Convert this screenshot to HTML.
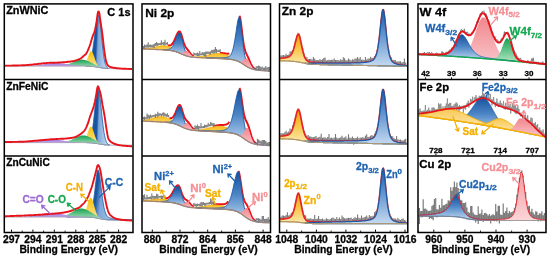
<!DOCTYPE html><html><head><meta charset="utf-8"><style>html,body{margin:0;padding:0;background:#fff;width:550px;height:259px;overflow:hidden}svg{display:block;will-change:transform;font-family:"Liberation Sans",sans-serif}text{stroke-width:0.3px;stroke-linejoin:round}</style></head><body><svg width="550" height="259" viewBox="0 0 550 259" font-family="Liberation Sans, sans-serif" font-weight="bold"><defs>
<linearGradient id="gb" x1="0" y1="0" x2="0" y2="1"><stop offset="0" stop-color="#14509c"/><stop offset="0.45" stop-color="#4d86c6"/><stop offset="1" stop-color="#cadff3"/></linearGradient>
<linearGradient id="go" x1="0" y1="0" x2="0" y2="1"><stop offset="0" stop-color="#f29e00"/><stop offset="0.45" stop-color="#f8c441"/><stop offset="1" stop-color="#fde9b0"/></linearGradient>
<linearGradient id="gy" x1="0" y1="0" x2="0" y2="1"><stop offset="0" stop-color="#f6c000"/><stop offset="1" stop-color="#fbe49a"/></linearGradient>
<linearGradient id="gg" x1="0" y1="0" x2="0" y2="1"><stop offset="0" stop-color="#14a050"/><stop offset="1" stop-color="#b5e6c4"/></linearGradient>
<linearGradient id="gp" x1="0" y1="0" x2="0" y2="1"><stop offset="0" stop-color="#f2868d"/><stop offset="1" stop-color="#f8c4c8"/></linearGradient>
<linearGradient id="gv" x1="0" y1="0" x2="0" y2="1"><stop offset="0" stop-color="#9f6fe0"/><stop offset="1" stop-color="#c4aaf0"/></linearGradient>
<linearGradient id="gb2" x1="0" y1="0" x2="0" y2="1"><stop offset="0" stop-color="#1a56a2"/><stop offset="0.4" stop-color="#5a90cc"/><stop offset="1" stop-color="#c4d9f0"/></linearGradient>
<linearGradient id="gy2" x1="0" y1="0" x2="0" y2="1"><stop offset="0" stop-color="#f8c850"/><stop offset="1" stop-color="#fde9b8"/></linearGradient>
<linearGradient id="gy3" x1="0" y1="0" x2="0" y2="1"><stop offset="0" stop-color="#f7bf20"/><stop offset="1" stop-color="#fde6a8"/></linearGradient>
<linearGradient id="gp2" x1="0" y1="0" x2="0" y2="1"><stop offset="0" stop-color="#f59aa0"/><stop offset="1" stop-color="#fbd6d8"/></linearGradient>
<linearGradient id="gbc" x1="0" y1="0" x2="1" y2="0.1"><stop offset="0" stop-color="#144d9a"/><stop offset="0.5" stop-color="#1a56a2"/><stop offset="0.58" stop-color="#7ea7d8"/><stop offset="1" stop-color="#c8dcf2"/></linearGradient>
</defs><path d="M86.0,65.9 86.5,65.8 87.0,65.6 87.5,65.4 88.0,65.0 88.5,64.5 89.0,63.9 89.5,63.0 90.0,61.9 90.5,60.5 91.0,58.8 91.5,56.7 92.0,54.2 92.5,51.3 93.0,48.0 93.5,44.4 94.0,40.6 94.5,36.6 95.0,32.5 95.5,28.6 96.0,24.9 96.5,21.6 97.0,18.9 97.5,16.9 98.0,15.7 98.5,15.3 99.0,16.1 99.5,18.2 100.0,21.5 100.5,25.7 101.0,30.5 101.5,35.7 102.0,40.9 102.5,45.9 103.0,50.5 103.5,54.5 104.0,57.9 104.5,60.7 105.0,62.9 105.5,64.6 106.0,65.8 106.5,66.7 107.0,67.4 107.5,67.8 108.0,68.1 108.5,68.3 L108.5,68.5 108.0,68.5 107.5,68.5 107.0,68.5 106.5,68.4 106.0,68.4 105.5,68.3 105.0,68.3 104.5,68.3 104.0,68.2 103.5,68.1 103.0,68.1 102.5,68.0 102.0,67.9 101.5,67.8 101.0,67.8 100.5,67.7 100.0,67.6 99.5,67.5 99.0,67.4 98.5,67.3 98.0,67.2 97.5,67.1 97.0,67.0 96.5,67.0 96.0,66.9 95.5,66.8 95.0,66.7 94.5,66.7 94.0,66.6 93.5,66.5 93.0,66.5 92.5,66.5 92.0,66.4 91.5,66.4 91.0,66.3 90.5,66.3 90.0,66.3 89.5,66.3 89.0,66.2 88.5,66.2 88.0,66.2 87.5,66.2 87.0,66.2 86.5,66.2 86.0,66.2 Z" fill="url(#gbc)" stroke="#1a5aa8" stroke-width="0.8"/>
<path d="M81.5,65.9 82.0,65.8 82.5,65.7 83.0,65.5 83.5,65.2 84.0,64.8 84.5,64.3 85.0,63.7 85.5,62.9 86.0,61.9 86.5,60.9 87.0,59.6 87.5,58.3 88.0,57.0 88.5,55.6 89.0,54.3 89.5,53.1 90.0,52.2 90.5,51.5 91.0,51.2 91.5,51.2 92.0,51.6 92.5,52.3 93.0,53.4 93.5,54.7 94.0,56.1 94.5,57.6 95.0,59.1 95.5,60.6 96.0,61.9 96.5,63.1 97.0,64.1 97.5,65.0 98.0,65.6 98.5,66.2 99.0,66.6 99.5,67.0 100.0,67.3 100.5,67.5 L100.5,67.7 100.0,67.6 99.5,67.5 99.0,67.4 98.5,67.3 98.0,67.2 97.5,67.1 97.0,67.0 96.5,67.0 96.0,66.9 95.5,66.8 95.0,66.7 94.5,66.7 94.0,66.6 93.5,66.5 93.0,66.5 92.5,66.5 92.0,66.4 91.5,66.4 91.0,66.3 90.5,66.3 90.0,66.3 89.5,66.3 89.0,66.2 88.5,66.2 88.0,66.2 87.5,66.2 87.0,66.2 86.5,66.2 86.0,66.2 85.5,66.2 85.0,66.1 84.5,66.1 84.0,66.1 83.5,66.1 83.0,66.1 82.5,66.1 82.0,66.1 81.5,66.1 Z" fill="url(#gy)"/>
<path d="M59.5,65.9 60.0,65.8 60.5,65.8 61.0,65.7 61.5,65.7 62.0,65.6 62.5,65.6 63.0,65.5 63.5,65.4 64.0,65.3 64.5,65.2 65.0,65.1 65.5,65.0 66.0,64.9 66.5,64.7 67.0,64.6 67.5,64.4 68.0,64.3 68.5,64.1 69.0,63.9 69.5,63.7 70.0,63.5 70.5,63.3 71.0,63.1 71.5,62.9 72.0,62.6 72.5,62.4 73.0,62.2 73.5,61.9 74.0,61.7 74.5,61.5 75.0,61.3 75.5,61.0 76.0,60.8 76.5,60.6 77.0,60.5 77.5,60.3 78.0,60.1 78.5,60.0 79.0,59.9 79.5,59.8 80.0,59.7 80.5,59.7 81.0,59.6 81.5,59.6 82.0,59.6 82.5,59.7 83.0,59.7 83.5,59.8 84.0,59.9 84.5,60.0 85.0,60.1 85.5,60.2 86.0,60.4 86.5,60.5 87.0,60.7 87.5,60.9 88.0,61.1 88.5,61.3 89.0,61.5 89.5,61.8 90.0,62.0 90.5,62.2 91.0,62.5 91.5,62.7 92.0,63.0 92.5,63.2 93.0,63.4 93.5,63.7 94.0,63.9 94.5,64.2 95.0,64.4 95.5,64.7 96.0,64.9 96.5,65.2 97.0,65.4 97.5,65.6 98.0,65.8 98.5,66.1 99.0,66.3 99.5,66.5 100.0,66.7 100.5,66.9 101.0,67.0 101.5,67.2 102.0,67.3 102.5,67.5 103.0,67.6 103.5,67.7 104.0,67.8 104.5,67.9 105.0,68.0 105.5,68.1 L105.5,68.3 105.0,68.3 104.5,68.3 104.0,68.2 103.5,68.1 103.0,68.1 102.5,68.0 102.0,67.9 101.5,67.8 101.0,67.8 100.5,67.7 100.0,67.6 99.5,67.5 99.0,67.4 98.5,67.3 98.0,67.2 97.5,67.1 97.0,67.0 96.5,67.0 96.0,66.9 95.5,66.8 95.0,66.7 94.5,66.7 94.0,66.6 93.5,66.5 93.0,66.5 92.5,66.5 92.0,66.4 91.5,66.4 91.0,66.3 90.5,66.3 90.0,66.3 89.5,66.3 89.0,66.2 88.5,66.2 88.0,66.2 87.5,66.2 87.0,66.2 86.5,66.2 86.0,66.2 85.5,66.2 85.0,66.1 84.5,66.1 84.0,66.1 83.5,66.1 83.0,66.1 82.5,66.1 82.0,66.1 81.5,66.1 81.0,66.1 80.5,66.1 80.0,66.1 79.5,66.1 79.0,66.1 78.5,66.1 78.0,66.1 77.5,66.1 77.0,66.1 76.5,66.1 76.0,66.1 75.5,66.1 75.0,66.1 74.5,66.1 74.0,66.1 73.5,66.1 73.0,66.1 72.5,66.1 72.0,66.1 71.5,66.1 71.0,66.1 70.5,66.1 70.0,66.1 69.5,66.1 69.0,66.1 68.5,66.1 68.0,66.1 67.5,66.1 67.0,66.1 66.5,66.1 66.0,66.1 65.5,66.1 65.0,66.1 64.5,66.1 64.0,66.1 63.5,66.1 63.0,66.1 62.5,66.1 62.0,66.1 61.5,66.1 61.0,66.1 60.5,66.1 60.0,66.1 59.5,66.1 Z" fill="url(#gg)"/>
<path d="M29.0,65.9 29.5,65.8 30.0,65.8 30.5,65.8 31.0,65.8 31.5,65.7 32.0,65.7 32.5,65.7 33.0,65.6 33.5,65.6 34.0,65.5 34.5,65.5 35.0,65.5 35.5,65.4 36.0,65.4 36.5,65.3 37.0,65.2 37.5,65.2 38.0,65.1 38.5,65.1 39.0,65.0 39.5,64.9 40.0,64.9 40.5,64.8 41.0,64.7 41.5,64.7 42.0,64.6 42.5,64.5 43.0,64.4 43.5,64.4 44.0,64.3 44.5,64.2 45.0,64.1 45.5,64.1 46.0,64.0 46.5,63.9 47.0,63.8 47.5,63.8 48.0,63.7 48.5,63.6 49.0,63.6 49.5,63.5 50.0,63.5 50.5,63.4 51.0,63.3 51.5,63.3 52.0,63.3 52.5,63.2 53.0,63.2 53.5,63.2 54.0,63.1 54.5,63.1 55.0,63.1 55.5,63.1 56.0,63.1 56.5,63.1 57.0,63.1 57.5,63.1 58.0,63.1 58.5,63.2 59.0,63.2 59.5,63.2 60.0,63.3 60.5,63.3 61.0,63.3 61.5,63.4 62.0,63.5 62.5,63.5 63.0,63.6 63.5,63.6 64.0,63.7 64.5,63.8 65.0,63.8 65.5,63.9 66.0,64.0 66.5,64.1 67.0,64.1 67.5,64.2 68.0,64.3 68.5,64.4 69.0,64.4 69.5,64.5 70.0,64.6 70.5,64.7 71.0,64.7 71.5,64.8 72.0,64.9 72.5,64.9 73.0,65.0 73.5,65.1 74.0,65.1 74.5,65.2 75.0,65.2 75.5,65.3 76.0,65.4 76.5,65.4 77.0,65.5 77.5,65.5 78.0,65.5 78.5,65.6 79.0,65.6 79.5,65.7 80.0,65.7 80.5,65.7 81.0,65.8 81.5,65.8 82.0,65.8 82.5,65.9 83.0,65.9 L83.0,66.1 82.5,66.1 82.0,66.1 81.5,66.1 81.0,66.1 80.5,66.1 80.0,66.1 79.5,66.1 79.0,66.1 78.5,66.1 78.0,66.1 77.5,66.1 77.0,66.1 76.5,66.1 76.0,66.1 75.5,66.1 75.0,66.1 74.5,66.1 74.0,66.1 73.5,66.1 73.0,66.1 72.5,66.1 72.0,66.1 71.5,66.1 71.0,66.1 70.5,66.1 70.0,66.1 69.5,66.1 69.0,66.1 68.5,66.1 68.0,66.1 67.5,66.1 67.0,66.1 66.5,66.1 66.0,66.1 65.5,66.1 65.0,66.1 64.5,66.1 64.0,66.1 63.5,66.1 63.0,66.1 62.5,66.1 62.0,66.1 61.5,66.1 61.0,66.1 60.5,66.1 60.0,66.1 59.5,66.1 59.0,66.1 58.5,66.1 58.0,66.1 57.5,66.1 57.0,66.1 56.5,66.1 56.0,66.1 55.5,66.1 55.0,66.1 54.5,66.1 54.0,66.1 53.5,66.1 53.0,66.1 52.5,66.1 52.0,66.1 51.5,66.1 51.0,66.1 50.5,66.1 50.0,66.1 49.5,66.1 49.0,66.1 48.5,66.1 48.0,66.1 47.5,66.1 47.0,66.1 46.5,66.1 46.0,66.1 45.5,66.1 45.0,66.1 44.5,66.1 44.0,66.1 43.5,66.1 43.0,66.1 42.5,66.1 42.0,66.1 41.5,66.1 41.0,66.1 40.5,66.1 40.0,66.1 39.5,66.1 39.0,66.1 38.5,66.1 38.0,66.1 37.5,66.1 37.0,66.1 36.5,66.1 36.0,66.1 35.5,66.1 35.0,66.1 34.5,66.1 34.0,66.1 33.5,66.1 33.0,66.1 32.5,66.1 32.0,66.1 31.5,66.1 31.0,66.1 30.5,66.1 30.0,66.1 29.5,66.1 29.0,66.1 Z" fill="url(#gv)"/>
<path d="M5.0,66.1 5.5,66.1 6.0,66.1 6.5,66.1 7.0,66.1 7.5,66.1 8.0,66.1 8.5,66.1 9.0,66.1 9.5,66.1 10.0,66.1 10.5,66.1 11.0,66.1 11.5,66.1 12.0,66.1 12.5,66.1 13.0,66.1 13.5,66.1 14.0,66.1 14.5,66.1 15.0,66.1 15.5,66.1 16.0,66.1 16.5,66.1 17.0,66.1 17.5,66.1 18.0,66.1 18.5,66.1 19.0,66.1 19.5,66.1 20.0,66.1 20.5,66.1 21.0,66.1 21.5,66.1 22.0,66.1 22.5,66.1 23.0,66.1 23.5,66.1 24.0,66.1 24.5,66.1 25.0,66.1 25.5,66.1 26.0,66.1 26.5,66.1 27.0,66.1 27.5,66.1 28.0,66.1 28.5,66.1 29.0,66.1 29.5,66.1 30.0,66.1 30.5,66.1 31.0,66.1 31.5,66.1 32.0,66.1 32.5,66.1 33.0,66.1 33.5,66.1 34.0,66.1 34.5,66.1 35.0,66.1 35.5,66.1 36.0,66.1 36.5,66.1 37.0,66.1 37.5,66.1 38.0,66.1 38.5,66.1 39.0,66.1 39.5,66.1 40.0,66.1 40.5,66.1 41.0,66.1 41.5,66.1 42.0,66.1 42.5,66.1 43.0,66.1 43.5,66.1 44.0,66.1 44.5,66.1 45.0,66.1 45.5,66.1 46.0,66.1 46.5,66.1 47.0,66.1 47.5,66.1 48.0,66.1 48.5,66.1 49.0,66.1 49.5,66.1 50.0,66.1 50.5,66.1 51.0,66.1 51.5,66.1 52.0,66.1 52.5,66.1 53.0,66.1 53.5,66.1 54.0,66.1 54.5,66.1 55.0,66.1 55.5,66.1 56.0,66.1 56.5,66.1 57.0,66.1 57.5,66.1 58.0,66.1 58.5,66.1 59.0,66.1 59.5,66.1 60.0,66.1 60.5,66.1 61.0,66.1 61.5,66.1 62.0,66.1 62.5,66.1 63.0,66.1 63.5,66.1 64.0,66.1 64.5,66.1 65.0,66.1 65.5,66.1 66.0,66.1 66.5,66.1 67.0,66.1 67.5,66.1 68.0,66.1 68.5,66.1 69.0,66.1 69.5,66.1 70.0,66.1 70.5,66.1 71.0,66.1 71.5,66.1 72.0,66.1 72.5,66.1 73.0,66.1 73.5,66.1 74.0,66.1 74.5,66.1 75.0,66.1 75.5,66.1 76.0,66.1 76.5,66.1 77.0,66.1 77.5,66.1 78.0,66.1 78.5,66.1 79.0,66.1 79.5,66.1 80.0,66.1 80.5,66.1 81.0,66.1 81.5,66.1 82.0,66.1 82.5,66.1 83.0,66.1 83.5,66.1 84.0,66.1 84.5,66.1 85.0,66.1 85.5,66.2 86.0,66.2 86.5,66.2 87.0,66.2 87.5,66.2 88.0,66.2 88.5,66.2 89.0,66.2 89.5,66.3 90.0,66.3 90.5,66.3 91.0,66.3 91.5,66.4 92.0,66.4 92.5,66.5 93.0,66.5 93.5,66.5 94.0,66.6 94.5,66.7 95.0,66.7 95.5,66.8 96.0,66.9 96.5,67.0 97.0,67.0 97.5,67.1 98.0,67.2 98.5,67.3 99.0,67.4 99.5,67.5 100.0,67.6 100.5,67.7 101.0,67.8 101.5,67.8 102.0,67.9 102.5,68.0 103.0,68.1 103.5,68.1 104.0,68.2 104.5,68.3 105.0,68.3 105.5,68.3 106.0,68.4 106.5,68.4 107.0,68.5 107.5,68.5 108.0,68.5 108.5,68.5 109.0,68.6 109.5,68.6 110.0,68.6 110.5,68.6 111.0,68.6 111.5,68.6 112.0,68.6 112.5,68.6 113.0,68.7 113.5,68.7 114.0,68.7 114.5,68.7 115.0,68.7 115.5,68.7 116.0,68.7 116.5,68.7 117.0,68.7 117.5,68.7 118.0,68.7 118.5,68.7 119.0,68.7 119.5,68.7 120.0,68.7 120.5,68.7 121.0,68.7 121.5,68.7 122.0,68.7 122.5,68.7 123.0,68.7 123.5,68.7 124.0,68.7 124.5,68.7 125.0,68.7 125.5,68.7 126.0,68.7 126.5,68.7 127.0,68.7 127.5,68.7 128.0,68.7 128.5,68.7 129.0,68.7 129.5,68.7 130.0,68.7 130.5,68.7 131.0,68.7 131.5,68.7 132.0,68.7" fill="none" stroke="#9a8fa8" stroke-width="0.9"/>
<path d="M5.0,65.6 5.5,65.6 6.0,65.6 6.5,65.6 7.0,65.6 7.5,65.6 8.0,65.6 8.5,65.6 9.0,65.6 9.5,65.6 10.0,65.6 10.5,65.6 11.0,65.6 11.5,65.6 12.0,65.6 12.5,65.5 13.0,65.5 13.5,65.5 14.0,65.5 14.5,65.5 15.0,65.5 15.5,65.5 16.0,65.5 16.5,65.5 17.0,65.5 17.5,65.5 18.0,65.5 18.5,65.4 19.0,65.4 19.5,65.4 20.0,65.4 20.5,65.4 21.0,65.4 21.5,65.4 22.0,65.3 22.5,65.3 23.0,65.3 23.5,65.3 24.0,65.2 24.5,65.2 25.0,65.2 25.5,65.1 26.0,65.1 26.5,65.1 27.0,65.0 27.5,65.0 28.0,65.0 28.5,64.9 29.0,64.9 29.5,64.8 30.0,64.8 30.5,64.8 31.0,64.7 31.5,64.7 32.0,64.6 32.5,64.6 33.0,64.5 33.5,64.5 34.0,64.4 34.5,64.3 35.0,64.3 35.5,64.2 36.0,64.2 36.5,64.1 37.0,64.1 37.5,64.0 38.0,64.0 38.5,63.9 39.0,63.8 39.5,63.8 40.0,63.7 40.5,63.7 41.0,63.6 41.5,63.5 42.0,63.5 42.5,63.4 43.0,63.4 43.5,63.3 44.0,63.3 44.5,63.2 45.0,63.2 45.5,63.1 46.0,63.1 46.5,63.0 47.0,63.0 47.5,62.9 48.0,62.9 48.5,62.9 49.0,62.9 49.5,62.8 50.0,62.8 50.5,62.8 51.0,62.8 51.5,62.8 52.0,62.7 52.5,62.7 53.0,62.7 53.5,62.7 54.0,62.7 54.5,62.7 55.0,62.6 55.5,62.6 56.0,62.6 56.5,62.6 57.0,62.6 57.5,62.6 58.0,62.5 58.5,62.5 59.0,62.5 59.5,62.5 60.0,62.5 60.5,62.4 61.0,62.4 61.5,62.4 62.0,62.4 62.5,62.3 63.0,62.3 63.5,62.3 64.0,62.2 64.5,62.2 65.0,62.1 65.5,62.1 66.0,62.1 66.5,62.0 67.0,62.0 67.5,61.9 68.0,61.8 68.5,61.8 69.0,61.7 69.5,61.7 70.0,61.6 70.5,61.5 71.0,61.5 71.5,61.4 72.0,61.3 72.5,61.2 73.0,61.1 73.5,61.1 74.0,61.0 74.5,60.8 75.0,60.7 75.5,60.6 76.0,60.4 76.5,60.3 77.0,60.1 77.5,59.9 78.0,59.7 78.5,59.5 79.0,59.3 79.5,59.1 80.0,58.8 80.5,58.5 81.0,58.2 81.5,57.8 82.0,57.4 82.5,57.0 83.0,56.5 83.5,56.1 84.0,55.7 84.5,55.2 85.0,54.8 85.5,54.4 86.0,53.8 86.5,53.1 87.0,52.2 87.5,51.2 88.0,50.1 88.5,49.0 89.0,47.7 89.5,46.4 90.0,45.0 90.5,43.5 91.0,41.8 91.5,40.1 92.0,38.4 92.5,36.8 93.0,35.4 93.5,34.2 94.0,33.0 94.5,31.5 95.0,29.7 95.5,27.5 96.0,25.1 96.5,22.2 97.0,18.7 97.5,14.6 98.0,12.0 98.5,11.4 99.0,12.0 99.5,14.2 100.0,18.0 100.5,21.5 101.0,24.9 101.5,28.2 102.0,31.5 102.5,35.2 103.0,39.4 103.5,44.4 104.0,48.5 104.5,52.1 105.0,55.4 105.5,58.5 106.0,61.1 106.5,62.7 107.0,63.9 107.5,64.9 108.0,65.6 108.5,66.0 109.0,66.3 109.5,66.6 110.0,66.8 110.5,67.0 111.0,67.1 111.5,67.3 112.0,67.4 112.5,67.5 113.0,67.6 113.5,67.7 114.0,67.8 114.5,67.9 115.0,68.0 115.5,68.0 116.0,68.1 116.5,68.2 117.0,68.2 117.5,68.3 118.0,68.3 118.5,68.4 119.0,68.4 119.5,68.5 120.0,68.5 120.5,68.5 121.0,68.6 121.5,68.6 122.0,68.6 122.5,68.7 123.0,68.7 123.5,68.7 124.0,68.7 124.5,68.8 125.0,68.8 125.5,68.8 126.0,68.8 126.5,68.9 127.0,68.9 127.5,68.9 128.0,68.9 128.5,68.9 129.0,69.0 129.5,69.0 130.0,69.0 130.5,69.0 131.0,69.0 131.5,69.0 132.0,69.0" fill="none" stroke="#e8141b" stroke-width="1.9" stroke-linejoin="round"/>
<path d="M87.0,142.5 87.5,142.3 88.0,142.1 88.5,141.8 89.0,141.4 89.5,140.7 90.0,139.9 90.5,138.6 91.0,137.0 91.5,135.0 92.0,132.4 92.5,129.3 93.0,125.7 93.5,121.5 94.0,117.0 94.5,112.1 95.0,107.3 95.5,102.5 96.0,98.2 96.5,94.5 97.0,91.8 97.5,90.0 98.0,89.5 98.5,90.2 99.0,91.9 99.5,94.6 100.0,98.1 100.5,102.3 101.0,106.9 101.5,111.6 102.0,116.4 102.5,121.0 103.0,125.2 103.5,129.1 104.0,132.4 104.5,135.3 105.0,137.6 105.5,139.5 106.0,141.0 106.5,142.2 107.0,143.0 107.5,143.7 108.0,144.1 108.5,144.5 109.0,144.7 109.5,144.8 L109.5,145.1 109.0,145.1 108.5,145.0 108.0,145.0 107.5,145.0 107.0,145.0 106.5,144.9 106.0,144.9 105.5,144.8 105.0,144.8 104.5,144.8 104.0,144.7 103.5,144.6 103.0,144.6 102.5,144.5 102.0,144.4 101.5,144.3 101.0,144.3 100.5,144.2 100.0,144.1 99.5,144.0 99.0,143.9 98.5,143.8 98.0,143.7 97.5,143.6 97.0,143.5 96.5,143.5 96.0,143.4 95.5,143.3 95.0,143.2 94.5,143.2 94.0,143.1 93.5,143.0 93.0,143.0 92.5,143.0 92.0,142.9 91.5,142.9 91.0,142.8 90.5,142.8 90.0,142.8 89.5,142.8 89.0,142.7 88.5,142.7 88.0,142.7 87.5,142.7 87.0,142.7 Z" fill="url(#gbc)" stroke="#1a5aa8" stroke-width="0.8"/>
<path d="M81.0,142.4 81.5,142.4 82.0,142.2 82.5,142.0 83.0,141.7 83.5,141.4 84.0,140.9 84.5,140.3 85.0,139.5 85.5,138.6 86.0,137.5 86.5,136.2 87.0,134.9 87.5,133.4 88.0,132.0 88.5,130.5 89.0,129.2 89.5,128.1 90.0,127.3 90.5,126.8 91.0,126.6 91.5,126.9 92.0,127.5 92.5,128.5 93.0,129.8 93.5,131.2 94.0,132.8 94.5,134.5 95.0,136.0 95.5,137.5 96.0,138.8 96.5,140.0 97.0,140.9 97.5,141.7 98.0,142.4 98.5,142.9 99.0,143.3 99.5,143.6 100.0,143.8 100.5,144.0 L100.5,144.2 100.0,144.1 99.5,144.0 99.0,143.9 98.5,143.8 98.0,143.7 97.5,143.6 97.0,143.5 96.5,143.5 96.0,143.4 95.5,143.3 95.0,143.2 94.5,143.2 94.0,143.1 93.5,143.0 93.0,143.0 92.5,143.0 92.0,142.9 91.5,142.9 91.0,142.8 90.5,142.8 90.0,142.8 89.5,142.8 89.0,142.7 88.5,142.7 88.0,142.7 87.5,142.7 87.0,142.7 86.5,142.7 86.0,142.7 85.5,142.7 85.0,142.6 84.5,142.6 84.0,142.6 83.5,142.6 83.0,142.6 82.5,142.6 82.0,142.6 81.5,142.6 81.0,142.6 Z" fill="url(#gy)"/>
<path d="M60.5,142.4 61.0,142.3 61.5,142.3 62.0,142.3 62.5,142.2 63.0,142.2 63.5,142.1 64.0,142.0 64.5,141.9 65.0,141.8 65.5,141.7 66.0,141.6 66.5,141.5 67.0,141.4 67.5,141.2 68.0,141.1 68.5,140.9 69.0,140.7 69.5,140.6 70.0,140.4 70.5,140.2 71.0,139.9 71.5,139.7 72.0,139.5 72.5,139.2 73.0,139.0 73.5,138.8 74.0,138.5 74.5,138.2 75.0,138.0 75.5,137.7 76.0,137.5 76.5,137.2 77.0,137.0 77.5,136.8 78.0,136.6 78.5,136.4 79.0,136.2 79.5,136.0 80.0,135.8 80.5,135.7 81.0,135.6 81.5,135.5 82.0,135.5 82.5,135.4 83.0,135.4 83.5,135.4 84.0,135.5 84.5,135.5 85.0,135.6 85.5,135.7 86.0,135.8 86.5,136.0 87.0,136.1 87.5,136.3 88.0,136.5 88.5,136.7 89.0,136.9 89.5,137.1 90.0,137.3 90.5,137.6 91.0,137.8 91.5,138.1 92.0,138.4 92.5,138.7 93.0,138.9 93.5,139.2 94.0,139.5 94.5,139.8 95.0,140.1 95.5,140.4 96.0,140.6 96.5,140.9 97.0,141.2 97.5,141.5 98.0,141.7 98.5,142.0 99.0,142.2 99.5,142.5 100.0,142.7 100.5,142.9 101.0,143.1 101.5,143.3 102.0,143.5 102.5,143.7 103.0,143.8 103.5,144.0 104.0,144.1 104.5,144.2 105.0,144.4 105.5,144.5 106.0,144.5 106.5,144.6 107.0,144.7 107.5,144.8 L107.5,145.0 107.0,145.0 106.5,144.9 106.0,144.9 105.5,144.8 105.0,144.8 104.5,144.8 104.0,144.7 103.5,144.6 103.0,144.6 102.5,144.5 102.0,144.4 101.5,144.3 101.0,144.3 100.5,144.2 100.0,144.1 99.5,144.0 99.0,143.9 98.5,143.8 98.0,143.7 97.5,143.6 97.0,143.5 96.5,143.5 96.0,143.4 95.5,143.3 95.0,143.2 94.5,143.2 94.0,143.1 93.5,143.0 93.0,143.0 92.5,143.0 92.0,142.9 91.5,142.9 91.0,142.8 90.5,142.8 90.0,142.8 89.5,142.8 89.0,142.7 88.5,142.7 88.0,142.7 87.5,142.7 87.0,142.7 86.5,142.7 86.0,142.7 85.5,142.7 85.0,142.6 84.5,142.6 84.0,142.6 83.5,142.6 83.0,142.6 82.5,142.6 82.0,142.6 81.5,142.6 81.0,142.6 80.5,142.6 80.0,142.6 79.5,142.6 79.0,142.6 78.5,142.6 78.0,142.6 77.5,142.6 77.0,142.6 76.5,142.6 76.0,142.6 75.5,142.6 75.0,142.6 74.5,142.6 74.0,142.6 73.5,142.6 73.0,142.6 72.5,142.6 72.0,142.6 71.5,142.6 71.0,142.6 70.5,142.6 70.0,142.6 69.5,142.6 69.0,142.6 68.5,142.6 68.0,142.6 67.5,142.6 67.0,142.6 66.5,142.6 66.0,142.6 65.5,142.6 65.0,142.6 64.5,142.6 64.0,142.6 63.5,142.6 63.0,142.6 62.5,142.6 62.0,142.6 61.5,142.6 61.0,142.6 60.5,142.6 Z" fill="url(#gg)"/>
<path d="M25.0,142.4 25.5,142.3 26.0,142.3 26.5,142.3 27.0,142.3 27.5,142.2 28.0,142.2 28.5,142.2 29.0,142.1 29.5,142.1 30.0,142.0 30.5,142.0 31.0,142.0 31.5,141.9 32.0,141.9 32.5,141.8 33.0,141.7 33.5,141.7 34.0,141.6 34.5,141.6 35.0,141.5 35.5,141.4 36.0,141.4 36.5,141.3 37.0,141.2 37.5,141.2 38.0,141.1 38.5,141.0 39.0,140.9 39.5,140.9 40.0,140.8 40.5,140.7 41.0,140.6 41.5,140.6 42.0,140.5 42.5,140.4 43.0,140.3 43.5,140.3 44.0,140.2 44.5,140.1 45.0,140.1 45.5,140.0 46.0,140.0 46.5,139.9 47.0,139.8 47.5,139.8 48.0,139.8 48.5,139.7 49.0,139.7 49.5,139.7 50.0,139.6 50.5,139.6 51.0,139.6 51.5,139.6 52.0,139.6 52.5,139.6 53.0,139.6 53.5,139.6 54.0,139.6 54.5,139.7 55.0,139.7 55.5,139.7 56.0,139.8 56.5,139.8 57.0,139.8 57.5,139.9 58.0,140.0 58.5,140.0 59.0,140.1 59.5,140.1 60.0,140.2 60.5,140.3 61.0,140.3 61.5,140.4 62.0,140.5 62.5,140.6 63.0,140.6 63.5,140.7 64.0,140.8 64.5,140.9 65.0,140.9 65.5,141.0 66.0,141.1 66.5,141.2 67.0,141.2 67.5,141.3 68.0,141.4 68.5,141.4 69.0,141.5 69.5,141.6 70.0,141.6 70.5,141.7 71.0,141.7 71.5,141.8 72.0,141.9 72.5,141.9 73.0,142.0 73.5,142.0 74.0,142.0 74.5,142.1 75.0,142.1 75.5,142.2 76.0,142.2 76.5,142.2 77.0,142.3 77.5,142.3 78.0,142.3 78.5,142.3 79.0,142.4 L79.0,142.6 78.5,142.6 78.0,142.6 77.5,142.6 77.0,142.6 76.5,142.6 76.0,142.6 75.5,142.6 75.0,142.6 74.5,142.6 74.0,142.6 73.5,142.6 73.0,142.6 72.5,142.6 72.0,142.6 71.5,142.6 71.0,142.6 70.5,142.6 70.0,142.6 69.5,142.6 69.0,142.6 68.5,142.6 68.0,142.6 67.5,142.6 67.0,142.6 66.5,142.6 66.0,142.6 65.5,142.6 65.0,142.6 64.5,142.6 64.0,142.6 63.5,142.6 63.0,142.6 62.5,142.6 62.0,142.6 61.5,142.6 61.0,142.6 60.5,142.6 60.0,142.6 59.5,142.6 59.0,142.6 58.5,142.6 58.0,142.6 57.5,142.6 57.0,142.6 56.5,142.6 56.0,142.6 55.5,142.6 55.0,142.6 54.5,142.6 54.0,142.6 53.5,142.6 53.0,142.6 52.5,142.6 52.0,142.6 51.5,142.6 51.0,142.6 50.5,142.6 50.0,142.6 49.5,142.6 49.0,142.6 48.5,142.6 48.0,142.6 47.5,142.6 47.0,142.6 46.5,142.6 46.0,142.6 45.5,142.6 45.0,142.6 44.5,142.6 44.0,142.6 43.5,142.6 43.0,142.6 42.5,142.6 42.0,142.6 41.5,142.6 41.0,142.6 40.5,142.6 40.0,142.6 39.5,142.6 39.0,142.6 38.5,142.6 38.0,142.6 37.5,142.6 37.0,142.6 36.5,142.6 36.0,142.6 35.5,142.6 35.0,142.6 34.5,142.6 34.0,142.6 33.5,142.6 33.0,142.6 32.5,142.6 32.0,142.6 31.5,142.6 31.0,142.6 30.5,142.6 30.0,142.6 29.5,142.6 29.0,142.6 28.5,142.6 28.0,142.6 27.5,142.6 27.0,142.6 26.5,142.6 26.0,142.6 25.5,142.6 25.0,142.6 Z" fill="url(#gv)"/>
<path d="M5.0,142.6 5.5,142.6 6.0,142.6 6.5,142.6 7.0,142.6 7.5,142.6 8.0,142.6 8.5,142.6 9.0,142.6 9.5,142.6 10.0,142.6 10.5,142.6 11.0,142.6 11.5,142.6 12.0,142.6 12.5,142.6 13.0,142.6 13.5,142.6 14.0,142.6 14.5,142.6 15.0,142.6 15.5,142.6 16.0,142.6 16.5,142.6 17.0,142.6 17.5,142.6 18.0,142.6 18.5,142.6 19.0,142.6 19.5,142.6 20.0,142.6 20.5,142.6 21.0,142.6 21.5,142.6 22.0,142.6 22.5,142.6 23.0,142.6 23.5,142.6 24.0,142.6 24.5,142.6 25.0,142.6 25.5,142.6 26.0,142.6 26.5,142.6 27.0,142.6 27.5,142.6 28.0,142.6 28.5,142.6 29.0,142.6 29.5,142.6 30.0,142.6 30.5,142.6 31.0,142.6 31.5,142.6 32.0,142.6 32.5,142.6 33.0,142.6 33.5,142.6 34.0,142.6 34.5,142.6 35.0,142.6 35.5,142.6 36.0,142.6 36.5,142.6 37.0,142.6 37.5,142.6 38.0,142.6 38.5,142.6 39.0,142.6 39.5,142.6 40.0,142.6 40.5,142.6 41.0,142.6 41.5,142.6 42.0,142.6 42.5,142.6 43.0,142.6 43.5,142.6 44.0,142.6 44.5,142.6 45.0,142.6 45.5,142.6 46.0,142.6 46.5,142.6 47.0,142.6 47.5,142.6 48.0,142.6 48.5,142.6 49.0,142.6 49.5,142.6 50.0,142.6 50.5,142.6 51.0,142.6 51.5,142.6 52.0,142.6 52.5,142.6 53.0,142.6 53.5,142.6 54.0,142.6 54.5,142.6 55.0,142.6 55.5,142.6 56.0,142.6 56.5,142.6 57.0,142.6 57.5,142.6 58.0,142.6 58.5,142.6 59.0,142.6 59.5,142.6 60.0,142.6 60.5,142.6 61.0,142.6 61.5,142.6 62.0,142.6 62.5,142.6 63.0,142.6 63.5,142.6 64.0,142.6 64.5,142.6 65.0,142.6 65.5,142.6 66.0,142.6 66.5,142.6 67.0,142.6 67.5,142.6 68.0,142.6 68.5,142.6 69.0,142.6 69.5,142.6 70.0,142.6 70.5,142.6 71.0,142.6 71.5,142.6 72.0,142.6 72.5,142.6 73.0,142.6 73.5,142.6 74.0,142.6 74.5,142.6 75.0,142.6 75.5,142.6 76.0,142.6 76.5,142.6 77.0,142.6 77.5,142.6 78.0,142.6 78.5,142.6 79.0,142.6 79.5,142.6 80.0,142.6 80.5,142.6 81.0,142.6 81.5,142.6 82.0,142.6 82.5,142.6 83.0,142.6 83.5,142.6 84.0,142.6 84.5,142.6 85.0,142.6 85.5,142.7 86.0,142.7 86.5,142.7 87.0,142.7 87.5,142.7 88.0,142.7 88.5,142.7 89.0,142.7 89.5,142.8 90.0,142.8 90.5,142.8 91.0,142.8 91.5,142.9 92.0,142.9 92.5,143.0 93.0,143.0 93.5,143.0 94.0,143.1 94.5,143.2 95.0,143.2 95.5,143.3 96.0,143.4 96.5,143.5 97.0,143.5 97.5,143.6 98.0,143.7 98.5,143.8 99.0,143.9 99.5,144.0 100.0,144.1 100.5,144.2 101.0,144.3 101.5,144.3 102.0,144.4 102.5,144.5 103.0,144.6 103.5,144.6 104.0,144.7 104.5,144.8 105.0,144.8 105.5,144.8 106.0,144.9 106.5,144.9 107.0,145.0 107.5,145.0 108.0,145.0 108.5,145.0 109.0,145.1 109.5,145.1 110.0,145.1 110.5,145.1 111.0,145.1 111.5,145.1 112.0,145.1 112.5,145.1 113.0,145.2 113.5,145.2 114.0,145.2 114.5,145.2 115.0,145.2 115.5,145.2 116.0,145.2 116.5,145.2 117.0,145.2 117.5,145.2 118.0,145.2 118.5,145.2 119.0,145.2 119.5,145.2 120.0,145.2 120.5,145.2 121.0,145.2 121.5,145.2 122.0,145.2 122.5,145.2 123.0,145.2 123.5,145.2 124.0,145.2 124.5,145.2 125.0,145.2 125.5,145.2 126.0,145.2 126.5,145.2 127.0,145.2 127.5,145.2 128.0,145.2 128.5,145.2 129.0,145.2 129.5,145.2 130.0,145.2 130.5,145.2 131.0,145.2 131.5,145.2 132.0,145.2" fill="none" stroke="#9a8fa8" stroke-width="0.9"/>
<path d="M5.0,142.0 5.5,142.0 6.0,142.0 6.5,142.0 7.0,142.0 7.5,142.0 8.0,142.0 8.5,142.0 9.0,142.0 9.5,142.0 10.0,142.0 10.5,142.0 11.0,142.0 11.5,142.0 12.0,142.0 12.5,141.9 13.0,141.9 13.5,141.9 14.0,141.9 14.5,141.9 15.0,141.9 15.5,141.9 16.0,141.9 16.5,141.9 17.0,141.9 17.5,141.9 18.0,141.9 18.5,141.8 19.0,141.8 19.5,141.8 20.0,141.8 20.5,141.8 21.0,141.8 21.5,141.8 22.0,141.8 22.5,141.7 23.0,141.7 23.5,141.7 24.0,141.7 24.5,141.6 25.0,141.6 25.5,141.6 26.0,141.5 26.5,141.5 27.0,141.4 27.5,141.4 28.0,141.4 28.5,141.3 29.0,141.3 29.5,141.2 30.0,141.2 30.5,141.1 31.0,141.1 31.5,141.1 32.0,141.0 32.5,141.0 33.0,140.9 33.5,140.9 34.0,140.8 34.5,140.8 35.0,140.7 35.5,140.7 36.0,140.7 36.5,140.6 37.0,140.6 37.5,140.5 38.0,140.5 38.5,140.5 39.0,140.4 39.5,140.4 40.0,140.3 40.5,140.3 41.0,140.2 41.5,140.2 42.0,140.1 42.5,140.1 43.0,140.0 43.5,140.0 44.0,140.0 44.5,139.9 45.0,139.9 45.5,139.8 46.0,139.8 46.5,139.7 47.0,139.7 47.5,139.6 48.0,139.6 48.5,139.6 49.0,139.5 49.5,139.5 50.0,139.4 50.5,139.4 51.0,139.3 51.5,139.3 52.0,139.3 52.5,139.2 53.0,139.2 53.5,139.2 54.0,139.1 54.5,139.1 55.0,139.1 55.5,139.1 56.0,139.0 56.5,139.0 57.0,139.0 57.5,139.0 58.0,138.9 58.5,138.9 59.0,138.9 59.5,138.9 60.0,138.9 60.5,138.8 61.0,138.8 61.5,138.8 62.0,138.8 62.5,138.7 63.0,138.7 63.5,138.7 64.0,138.7 64.5,138.6 65.0,138.6 65.5,138.6 66.0,138.5 66.5,138.5 67.0,138.4 67.5,138.4 68.0,138.3 68.5,138.3 69.0,138.2 69.5,138.2 70.0,138.1 70.5,138.0 71.0,138.0 71.5,137.9 72.0,137.8 72.5,137.7 73.0,137.6 73.5,137.5 74.0,137.4 74.5,137.3 75.0,137.1 75.5,137.0 76.0,136.7 76.5,136.5 77.0,136.3 77.5,136.0 78.0,135.7 78.5,135.4 79.0,135.1 79.5,134.7 80.0,134.4 80.5,134.1 81.0,133.7 81.5,133.4 82.0,133.0 82.5,132.6 83.0,132.1 83.5,131.6 84.0,131.1 84.5,130.5 85.0,129.7 85.5,128.9 86.0,127.9 86.5,126.8 87.0,125.6 87.5,124.5 88.0,123.1 88.5,121.6 89.0,120.0 89.5,118.3 90.0,116.8 90.5,115.3 91.0,114.0 91.5,112.7 92.0,111.4 92.5,110.0 93.0,108.6 93.5,107.1 94.0,105.5 94.5,103.6 95.0,101.3 95.5,98.7 96.0,95.8 96.5,92.8 97.0,89.5 97.5,87.2 98.0,86.3 98.5,87.2 99.0,88.9 99.5,90.4 100.0,91.9 100.5,93.5 101.0,95.6 101.5,98.6 102.0,101.9 102.5,105.0 103.0,107.5 103.5,110.0 104.0,112.8 104.5,115.7 105.0,118.8 105.5,122.3 106.0,125.9 106.5,129.1 107.0,132.0 107.5,134.9 108.0,137.3 108.5,139.0 109.0,139.8 109.5,140.5 110.0,141.0 110.5,141.5 111.0,142.0 111.5,142.3 112.0,142.6 112.5,142.9 113.0,143.2 113.5,143.4 114.0,143.6 114.5,143.8 115.0,144.0 115.5,144.2 116.0,144.4 116.5,144.5 117.0,144.7 117.5,144.8 118.0,144.9 118.5,145.0 119.0,145.1 119.5,145.2 120.0,145.3 120.5,145.4 121.0,145.4 121.5,145.5 122.0,145.5 122.5,145.6 123.0,145.6 123.5,145.7 124.0,145.8 124.5,145.8 125.0,145.8 125.5,145.9 126.0,145.9 126.5,146.0 127.0,146.0 127.5,146.0 128.0,146.1 128.5,146.1 129.0,146.1 129.5,146.1 130.0,146.2 130.5,146.2 131.0,146.2 131.5,146.2 132.0,146.2" fill="none" stroke="#e8141b" stroke-width="1.9" stroke-linejoin="round"/>
<path d="M66.5,216.8 67.0,216.7 67.5,216.7 68.0,216.7 68.5,216.7 69.0,216.7 69.5,216.7 70.0,216.7 70.5,216.7 71.0,216.7 71.5,216.7 72.0,216.6 72.5,216.6 73.0,216.6 73.5,216.6 74.0,216.6 74.5,216.6 75.0,216.5 75.5,216.5 76.0,216.5 76.5,216.5 77.0,216.5 77.5,216.4 78.0,216.4 78.5,216.4 79.0,216.3 79.5,216.3 80.0,216.3 80.5,216.2 81.0,216.2 81.5,216.1 82.0,216.1 82.5,216.0 83.0,216.0 83.5,215.9 84.0,215.9 84.5,215.8 85.0,215.7 85.5,215.6 86.0,215.5 86.5,215.4 87.0,215.2 87.5,215.0 88.0,214.8 88.5,214.5 89.0,214.2 89.5,213.7 90.0,213.1 90.5,212.4 91.0,211.3 91.5,210.0 92.0,208.4 92.5,206.3 93.0,203.8 93.5,200.8 94.0,197.3 94.5,193.4 95.0,189.2 95.5,184.8 96.0,180.4 96.5,176.4 97.0,173.1 97.5,170.8 98.0,169.8 98.5,170.3 99.0,172.0 99.5,174.8 100.0,178.3 100.5,182.4 101.0,186.6 101.5,190.8 102.0,194.9 102.5,198.6 103.0,202.0 103.5,205.0 104.0,207.6 104.5,209.7 105.0,211.5 105.5,213.0 106.0,214.1 106.5,215.1 107.0,215.8 107.5,216.4 108.0,216.8 108.5,217.2 109.0,217.5 109.5,217.7 110.0,217.9 110.5,218.1 111.0,218.3 111.5,218.4 112.0,218.5 112.5,218.6 113.0,218.7 113.5,218.8 114.0,218.9 114.5,218.9 115.0,219.0 115.5,219.0 116.0,219.1 116.5,219.1 117.0,219.2 117.5,219.2 118.0,219.3 118.5,219.3 119.0,219.3 119.5,219.4 120.0,219.4 120.5,219.4 121.0,219.4 121.5,219.5 122.0,219.5 122.5,219.5 123.0,219.5 123.5,219.6 124.0,219.6 124.5,219.6 125.0,219.6 125.5,219.6 126.0,219.6 126.5,219.6 127.0,219.7 127.5,219.7 128.0,219.7 128.5,219.7 129.0,219.7 129.5,219.7 130.0,219.7 130.5,219.7 131.0,219.7 131.5,219.7 132.0,219.7 L132.0,220.0 131.5,220.0 131.0,220.0 130.5,220.0 130.0,220.0 129.5,220.0 129.0,220.0 128.5,220.0 128.0,220.0 127.5,220.0 127.0,220.0 126.5,220.0 126.0,220.0 125.5,220.0 125.0,220.0 124.5,220.0 124.0,220.0 123.5,220.0 123.0,220.0 122.5,220.0 122.0,220.0 121.5,220.0 121.0,220.0 120.5,220.0 120.0,220.0 119.5,220.0 119.0,220.0 118.5,220.0 118.0,220.0 117.5,220.0 117.0,220.0 116.5,220.0 116.0,220.0 115.5,220.0 115.0,220.0 114.5,220.0 114.0,220.0 113.5,220.0 113.0,219.9 112.5,219.9 112.0,219.9 111.5,219.9 111.0,219.9 110.5,219.9 110.0,219.9 109.5,219.9 109.0,219.8 108.5,219.8 108.0,219.8 107.5,219.8 107.0,219.7 106.5,219.7 106.0,219.6 105.5,219.6 105.0,219.5 104.5,219.5 104.0,219.4 103.5,219.4 103.0,219.3 102.5,219.2 102.0,219.1 101.5,219.0 101.0,218.9 100.5,218.8 100.0,218.7 99.5,218.6 99.0,218.5 98.5,218.4 98.0,218.3 97.5,218.2 97.0,218.1 96.5,218.0 96.0,217.9 95.5,217.8 95.0,217.7 94.5,217.6 94.0,217.6 93.5,217.5 93.0,217.5 92.5,217.4 92.0,217.4 91.5,217.3 91.0,217.3 90.5,217.2 90.0,217.2 89.5,217.2 89.0,217.2 88.5,217.1 88.0,217.1 87.5,217.1 87.0,217.1 86.5,217.1 86.0,217.1 85.5,217.1 85.0,217.1 84.5,217.0 84.0,217.0 83.5,217.0 83.0,217.0 82.5,217.0 82.0,217.0 81.5,217.0 81.0,217.0 80.5,217.0 80.0,217.0 79.5,217.0 79.0,217.0 78.5,217.0 78.0,217.0 77.5,217.0 77.0,217.0 76.5,217.0 76.0,217.0 75.5,217.0 75.0,217.0 74.5,217.0 74.0,217.0 73.5,217.0 73.0,217.0 72.5,217.0 72.0,217.0 71.5,217.0 71.0,217.0 70.5,217.0 70.0,217.0 69.5,217.0 69.0,217.0 68.5,217.0 68.0,217.0 67.5,217.0 67.0,217.0 66.5,217.0 Z" fill="url(#gbc)" stroke="#1a5aa8" stroke-width="0.8"/>
<path d="M80.0,216.8 80.5,216.7 81.0,216.6 81.5,216.4 82.0,216.1 82.5,215.7 83.0,215.2 83.5,214.6 84.0,213.9 84.5,212.9 85.0,211.9 85.5,210.6 86.0,209.2 86.5,207.7 87.0,206.0 87.5,204.4 88.0,202.8 88.5,201.3 89.0,200.0 89.5,198.9 90.0,198.2 90.5,197.8 91.0,197.8 91.5,198.2 92.0,199.0 92.5,200.2 93.0,201.6 93.5,203.3 94.0,205.1 94.5,206.9 95.0,208.6 95.5,210.3 96.0,211.9 96.5,213.2 97.0,214.4 97.5,215.4 98.0,216.2 98.5,216.9 99.0,217.4 99.5,217.9 100.0,218.2 100.5,218.5 101.0,218.7 L101.0,218.9 100.5,218.8 100.0,218.7 99.5,218.6 99.0,218.5 98.5,218.4 98.0,218.3 97.5,218.2 97.0,218.1 96.5,218.0 96.0,217.9 95.5,217.8 95.0,217.7 94.5,217.6 94.0,217.6 93.5,217.5 93.0,217.5 92.5,217.4 92.0,217.4 91.5,217.3 91.0,217.3 90.5,217.2 90.0,217.2 89.5,217.2 89.0,217.2 88.5,217.1 88.0,217.1 87.5,217.1 87.0,217.1 86.5,217.1 86.0,217.1 85.5,217.1 85.0,217.1 84.5,217.0 84.0,217.0 83.5,217.0 83.0,217.0 82.5,217.0 82.0,217.0 81.5,217.0 81.0,217.0 80.5,217.0 80.0,217.0 Z" fill="url(#gy)"/>
<path d="M58.0,216.8 58.5,216.7 59.0,216.7 59.5,216.7 60.0,216.6 60.5,216.5 61.0,216.5 61.5,216.4 62.0,216.3 62.5,216.2 63.0,216.1 63.5,216.0 64.0,215.9 64.5,215.7 65.0,215.6 65.5,215.4 66.0,215.2 66.5,215.0 67.0,214.8 67.5,214.6 68.0,214.4 68.5,214.1 69.0,213.9 69.5,213.6 70.0,213.3 70.5,213.0 71.0,212.8 71.5,212.5 72.0,212.2 72.5,211.9 73.0,211.5 73.5,211.2 74.0,211.0 74.5,210.7 75.0,210.4 75.5,210.1 76.0,209.9 76.5,209.6 77.0,209.4 77.5,209.2 78.0,209.0 78.5,208.9 79.0,208.7 79.5,208.6 80.0,208.6 80.5,208.5 81.0,208.5 81.5,208.5 82.0,208.6 82.5,208.6 83.0,208.7 83.5,208.8 84.0,208.9 84.5,209.1 85.0,209.2 85.5,209.4 86.0,209.6 86.5,209.8 87.0,210.1 87.5,210.3 88.0,210.5 88.5,210.8 89.0,211.1 89.5,211.4 90.0,211.7 90.5,211.9 91.0,212.2 91.5,212.5 92.0,212.8 92.5,213.2 93.0,213.5 93.5,213.8 94.0,214.1 94.5,214.4 95.0,214.7 95.5,215.0 96.0,215.3 96.5,215.6 97.0,215.9 97.5,216.1 98.0,216.4 98.5,216.7 99.0,216.9 99.5,217.2 100.0,217.4 100.5,217.7 101.0,217.9 101.5,218.1 102.0,218.3 102.5,218.4 103.0,218.6 103.5,218.8 104.0,218.9 104.5,219.0 105.0,219.1 105.5,219.2 106.0,219.3 106.5,219.4 107.0,219.5 L107.0,219.7 106.5,219.7 106.0,219.6 105.5,219.6 105.0,219.5 104.5,219.5 104.0,219.4 103.5,219.4 103.0,219.3 102.5,219.2 102.0,219.1 101.5,219.0 101.0,218.9 100.5,218.8 100.0,218.7 99.5,218.6 99.0,218.5 98.5,218.4 98.0,218.3 97.5,218.2 97.0,218.1 96.5,218.0 96.0,217.9 95.5,217.8 95.0,217.7 94.5,217.6 94.0,217.6 93.5,217.5 93.0,217.5 92.5,217.4 92.0,217.4 91.5,217.3 91.0,217.3 90.5,217.2 90.0,217.2 89.5,217.2 89.0,217.2 88.5,217.1 88.0,217.1 87.5,217.1 87.0,217.1 86.5,217.1 86.0,217.1 85.5,217.1 85.0,217.1 84.5,217.0 84.0,217.0 83.5,217.0 83.0,217.0 82.5,217.0 82.0,217.0 81.5,217.0 81.0,217.0 80.5,217.0 80.0,217.0 79.5,217.0 79.0,217.0 78.5,217.0 78.0,217.0 77.5,217.0 77.0,217.0 76.5,217.0 76.0,217.0 75.5,217.0 75.0,217.0 74.5,217.0 74.0,217.0 73.5,217.0 73.0,217.0 72.5,217.0 72.0,217.0 71.5,217.0 71.0,217.0 70.5,217.0 70.0,217.0 69.5,217.0 69.0,217.0 68.5,217.0 68.0,217.0 67.5,217.0 67.0,217.0 66.5,217.0 66.0,217.0 65.5,217.0 65.0,217.0 64.5,217.0 64.0,217.0 63.5,217.0 63.0,217.0 62.5,217.0 62.0,217.0 61.5,217.0 61.0,217.0 60.5,217.0 60.0,217.0 59.5,217.0 59.0,217.0 58.5,217.0 58.0,217.0 Z" fill="url(#gg)"/>
<path d="M23.5,216.8 24.0,216.7 24.5,216.7 25.0,216.7 25.5,216.7 26.0,216.6 26.5,216.6 27.0,216.5 27.5,216.5 28.0,216.5 28.5,216.4 29.0,216.4 29.5,216.3 30.0,216.3 30.5,216.2 31.0,216.1 31.5,216.1 32.0,216.0 32.5,215.9 33.0,215.9 33.5,215.8 34.0,215.7 34.5,215.6 35.0,215.5 35.5,215.4 36.0,215.4 36.5,215.3 37.0,215.2 37.5,215.1 38.0,215.0 38.5,214.9 39.0,214.8 39.5,214.7 40.0,214.6 40.5,214.5 41.0,214.4 41.5,214.3 42.0,214.2 42.5,214.1 43.0,214.0 43.5,213.9 44.0,213.8 44.5,213.7 45.0,213.6 45.5,213.5 46.0,213.5 46.5,213.4 47.0,213.3 47.5,213.3 48.0,213.2 48.5,213.2 49.0,213.1 49.5,213.1 50.0,213.1 50.5,213.0 51.0,213.0 51.5,213.0 52.0,213.0 52.5,213.0 53.0,213.0 53.5,213.0 54.0,213.1 54.5,213.1 55.0,213.1 55.5,213.2 56.0,213.2 56.5,213.3 57.0,213.3 57.5,213.4 58.0,213.5 58.5,213.5 59.0,213.6 59.5,213.7 60.0,213.8 60.5,213.9 61.0,214.0 61.5,214.1 62.0,214.2 62.5,214.3 63.0,214.4 63.5,214.5 64.0,214.6 64.5,214.7 65.0,214.8 65.5,214.9 66.0,215.0 66.5,215.1 67.0,215.2 67.5,215.3 68.0,215.4 68.5,215.4 69.0,215.5 69.5,215.6 70.0,215.7 70.5,215.8 71.0,215.9 71.5,215.9 72.0,216.0 72.5,216.1 73.0,216.1 73.5,216.2 74.0,216.3 74.5,216.3 75.0,216.4 75.5,216.4 76.0,216.5 76.5,216.5 77.0,216.5 77.5,216.6 78.0,216.6 78.5,216.7 79.0,216.7 79.5,216.7 80.0,216.8 80.5,216.8 L80.5,217.0 80.0,217.0 79.5,217.0 79.0,217.0 78.5,217.0 78.0,217.0 77.5,217.0 77.0,217.0 76.5,217.0 76.0,217.0 75.5,217.0 75.0,217.0 74.5,217.0 74.0,217.0 73.5,217.0 73.0,217.0 72.5,217.0 72.0,217.0 71.5,217.0 71.0,217.0 70.5,217.0 70.0,217.0 69.5,217.0 69.0,217.0 68.5,217.0 68.0,217.0 67.5,217.0 67.0,217.0 66.5,217.0 66.0,217.0 65.5,217.0 65.0,217.0 64.5,217.0 64.0,217.0 63.5,217.0 63.0,217.0 62.5,217.0 62.0,217.0 61.5,217.0 61.0,217.0 60.5,217.0 60.0,217.0 59.5,217.0 59.0,217.0 58.5,217.0 58.0,217.0 57.5,217.0 57.0,217.0 56.5,217.0 56.0,217.0 55.5,217.0 55.0,217.0 54.5,217.0 54.0,217.0 53.5,217.0 53.0,217.0 52.5,217.0 52.0,217.0 51.5,217.0 51.0,217.0 50.5,217.0 50.0,217.0 49.5,217.0 49.0,217.0 48.5,217.0 48.0,217.0 47.5,217.0 47.0,217.0 46.5,217.0 46.0,217.0 45.5,217.0 45.0,217.0 44.5,217.0 44.0,217.0 43.5,217.0 43.0,217.0 42.5,217.0 42.0,217.0 41.5,217.0 41.0,217.0 40.5,217.0 40.0,217.0 39.5,217.0 39.0,217.0 38.5,217.0 38.0,217.0 37.5,217.0 37.0,217.0 36.5,217.0 36.0,217.0 35.5,217.0 35.0,217.0 34.5,217.0 34.0,217.0 33.5,217.0 33.0,217.0 32.5,217.0 32.0,217.0 31.5,217.0 31.0,217.0 30.5,217.0 30.0,217.0 29.5,217.0 29.0,217.0 28.5,217.0 28.0,217.0 27.5,217.0 27.0,217.0 26.5,217.0 26.0,217.0 25.5,217.0 25.0,217.0 24.5,217.0 24.0,217.0 23.5,217.0 Z" fill="url(#gv)"/>
<path d="M5.0,217.0 5.5,217.0 6.0,217.0 6.5,217.0 7.0,217.0 7.5,217.0 8.0,217.0 8.5,217.0 9.0,217.0 9.5,217.0 10.0,217.0 10.5,217.0 11.0,217.0 11.5,217.0 12.0,217.0 12.5,217.0 13.0,217.0 13.5,217.0 14.0,217.0 14.5,217.0 15.0,217.0 15.5,217.0 16.0,217.0 16.5,217.0 17.0,217.0 17.5,217.0 18.0,217.0 18.5,217.0 19.0,217.0 19.5,217.0 20.0,217.0 20.5,217.0 21.0,217.0 21.5,217.0 22.0,217.0 22.5,217.0 23.0,217.0 23.5,217.0 24.0,217.0 24.5,217.0 25.0,217.0 25.5,217.0 26.0,217.0 26.5,217.0 27.0,217.0 27.5,217.0 28.0,217.0 28.5,217.0 29.0,217.0 29.5,217.0 30.0,217.0 30.5,217.0 31.0,217.0 31.5,217.0 32.0,217.0 32.5,217.0 33.0,217.0 33.5,217.0 34.0,217.0 34.5,217.0 35.0,217.0 35.5,217.0 36.0,217.0 36.5,217.0 37.0,217.0 37.5,217.0 38.0,217.0 38.5,217.0 39.0,217.0 39.5,217.0 40.0,217.0 40.5,217.0 41.0,217.0 41.5,217.0 42.0,217.0 42.5,217.0 43.0,217.0 43.5,217.0 44.0,217.0 44.5,217.0 45.0,217.0 45.5,217.0 46.0,217.0 46.5,217.0 47.0,217.0 47.5,217.0 48.0,217.0 48.5,217.0 49.0,217.0 49.5,217.0 50.0,217.0 50.5,217.0 51.0,217.0 51.5,217.0 52.0,217.0 52.5,217.0 53.0,217.0 53.5,217.0 54.0,217.0 54.5,217.0 55.0,217.0 55.5,217.0 56.0,217.0 56.5,217.0 57.0,217.0 57.5,217.0 58.0,217.0 58.5,217.0 59.0,217.0 59.5,217.0 60.0,217.0 60.5,217.0 61.0,217.0 61.5,217.0 62.0,217.0 62.5,217.0 63.0,217.0 63.5,217.0 64.0,217.0 64.5,217.0 65.0,217.0 65.5,217.0 66.0,217.0 66.5,217.0 67.0,217.0 67.5,217.0 68.0,217.0 68.5,217.0 69.0,217.0 69.5,217.0 70.0,217.0 70.5,217.0 71.0,217.0 71.5,217.0 72.0,217.0 72.5,217.0 73.0,217.0 73.5,217.0 74.0,217.0 74.5,217.0 75.0,217.0 75.5,217.0 76.0,217.0 76.5,217.0 77.0,217.0 77.5,217.0 78.0,217.0 78.5,217.0 79.0,217.0 79.5,217.0 80.0,217.0 80.5,217.0 81.0,217.0 81.5,217.0 82.0,217.0 82.5,217.0 83.0,217.0 83.5,217.0 84.0,217.0 84.5,217.0 85.0,217.1 85.5,217.1 86.0,217.1 86.5,217.1 87.0,217.1 87.5,217.1 88.0,217.1 88.5,217.1 89.0,217.2 89.5,217.2 90.0,217.2 90.5,217.2 91.0,217.3 91.5,217.3 92.0,217.4 92.5,217.4 93.0,217.5 93.5,217.5 94.0,217.6 94.5,217.6 95.0,217.7 95.5,217.8 96.0,217.9 96.5,218.0 97.0,218.1 97.5,218.2 98.0,218.3 98.5,218.4 99.0,218.5 99.5,218.6 100.0,218.7 100.5,218.8 101.0,218.9 101.5,219.0 102.0,219.1 102.5,219.2 103.0,219.3 103.5,219.4 104.0,219.4 104.5,219.5 105.0,219.5 105.5,219.6 106.0,219.6 106.5,219.7 107.0,219.7 107.5,219.8 108.0,219.8 108.5,219.8 109.0,219.8 109.5,219.9 110.0,219.9 110.5,219.9 111.0,219.9 111.5,219.9 112.0,219.9 112.5,219.9 113.0,219.9 113.5,220.0 114.0,220.0 114.5,220.0 115.0,220.0 115.5,220.0 116.0,220.0 116.5,220.0 117.0,220.0 117.5,220.0 118.0,220.0 118.5,220.0 119.0,220.0 119.5,220.0 120.0,220.0 120.5,220.0 121.0,220.0 121.5,220.0 122.0,220.0 122.5,220.0 123.0,220.0 123.5,220.0 124.0,220.0 124.5,220.0 125.0,220.0 125.5,220.0 126.0,220.0 126.5,220.0 127.0,220.0 127.5,220.0 128.0,220.0 128.5,220.0 129.0,220.0 129.5,220.0 130.0,220.0 130.5,220.0 131.0,220.0 131.5,220.0 132.0,220.0" fill="none" stroke="#9a8fa8" stroke-width="0.9"/>
<path d="M5.0,216.2 5.5,216.2 6.0,216.2 6.5,216.2 7.0,216.1 7.5,216.1 8.0,216.1 8.5,216.1 9.0,216.1 9.5,216.1 10.0,216.1 10.5,216.0 11.0,216.0 11.5,216.0 12.0,216.0 12.5,216.0 13.0,216.0 13.5,216.0 14.0,215.9 14.5,215.9 15.0,215.9 15.5,215.9 16.0,215.9 16.5,215.8 17.0,215.8 17.5,215.8 18.0,215.8 18.5,215.8 19.0,215.8 19.5,215.7 20.0,215.7 20.5,215.7 21.0,215.7 21.5,215.7 22.0,215.6 22.5,215.6 23.0,215.6 23.5,215.6 24.0,215.6 24.5,215.5 25.0,215.5 25.5,215.5 26.0,215.5 26.5,215.4 27.0,215.4 27.5,215.4 28.0,215.4 28.5,215.3 29.0,215.3 29.5,215.3 30.0,215.3 30.5,215.2 31.0,215.2 31.5,215.2 32.0,215.2 32.5,215.1 33.0,215.1 33.5,215.1 34.0,215.1 34.5,215.0 35.0,215.0 35.5,215.0 36.0,214.9 36.5,214.9 37.0,214.9 37.5,214.9 38.0,214.8 38.5,214.8 39.0,214.8 39.5,214.7 40.0,214.7 40.5,214.7 41.0,214.6 41.5,214.6 42.0,214.6 42.5,214.5 43.0,214.5 43.5,214.5 44.0,214.4 44.5,214.4 45.0,214.3 45.5,214.3 46.0,214.3 46.5,214.2 47.0,214.2 47.5,214.2 48.0,214.1 48.5,214.1 49.0,214.0 49.5,214.0 50.0,214.0 50.5,213.9 51.0,213.9 51.5,213.8 52.0,213.8 52.5,213.8 53.0,213.7 53.5,213.7 54.0,213.6 54.5,213.6 55.0,213.5 55.5,213.5 56.0,213.5 56.5,213.4 57.0,213.4 57.5,213.3 58.0,213.3 58.5,213.2 59.0,213.2 59.5,213.1 60.0,213.1 60.5,213.0 61.0,212.9 61.5,212.9 62.0,212.8 62.5,212.7 63.0,212.7 63.5,212.6 64.0,212.5 64.5,212.4 65.0,212.3 65.5,212.2 66.0,212.1 66.5,212.0 67.0,211.9 67.5,211.8 68.0,211.7 68.5,211.6 69.0,211.4 69.5,211.3 70.0,211.2 70.5,211.0 71.0,210.8 71.5,210.7 72.0,210.5 72.5,210.3 73.0,210.1 73.5,209.8 74.0,209.6 74.5,209.4 75.0,209.2 75.5,209.0 76.0,208.8 76.5,208.6 77.0,208.4 77.5,208.3 78.0,208.1 78.5,207.9 79.0,207.6 79.5,207.3 80.0,206.9 80.5,206.4 81.0,206.0 81.5,205.5 82.0,205.0 82.5,204.6 83.0,204.1 83.5,203.6 84.0,203.1 84.5,202.5 85.0,201.8 85.5,201.1 86.0,200.3 86.5,199.5 87.0,198.7 87.5,197.8 88.0,196.8 88.5,195.7 89.0,194.5 89.5,193.2 90.0,191.9 90.5,190.5 91.0,189.1 91.5,187.7 92.0,186.1 92.5,184.5 93.0,182.7 93.5,180.9 94.0,179.0 94.5,177.1 95.0,175.2 95.5,173.3 96.0,171.3 96.5,169.2 97.0,167.1 97.5,165.6 98.0,165.0 98.5,165.3 99.0,166.2 99.5,167.4 100.0,169.0 100.5,170.9 101.0,173.9 101.5,177.1 102.0,180.2 102.5,183.4 103.0,186.5 103.5,189.7 104.0,192.6 104.5,195.4 105.0,198.0 105.5,200.5 106.0,203.0 106.5,205.4 107.0,207.6 107.5,209.3 108.0,210.8 108.5,212.1 109.0,213.2 109.5,214.2 110.0,214.8 110.5,215.3 111.0,215.7 111.5,216.1 112.0,216.5 112.5,216.9 113.0,217.2 113.5,217.5 114.0,217.8 114.5,218.1 115.0,218.3 115.5,218.5 116.0,218.7 116.5,218.9 117.0,219.0 117.5,219.1 118.0,219.2 118.5,219.3 119.0,219.4 119.5,219.4 120.0,219.5 120.5,219.6 121.0,219.7 121.5,219.7 122.0,219.8 122.5,219.9 123.0,219.9 123.5,220.0 124.0,220.0 124.5,220.1 125.0,220.1 125.5,220.2 126.0,220.2 126.5,220.3 127.0,220.3 127.5,220.3 128.0,220.4 128.5,220.4 129.0,220.4 129.5,220.4 130.0,220.5 130.5,220.5 131.0,220.5 131.5,220.5 132.0,220.5" fill="none" stroke="#e8141b" stroke-width="1.9" stroke-linejoin="round"/>
<path d="M167.8,45.59 168.3,45.61 168.8,45.59 169.3,45.55 169.8,45.45 170.3,45.29 170.8,45.06 171.3,44.73 171.8,44.31 172.3,43.78 172.8,43.13 173.3,42.36 173.8,41.47 174.3,40.47 174.8,39.38 175.3,38.23 175.8,37.04 176.3,35.85 176.8,34.71 177.3,33.66 177.8,32.77 178.3,32.07 178.8,31.61 179.3,31.43 179.8,31.55 180.3,32.09 180.8,33.10 181.3,34.48 181.8,36.10 182.3,37.85 182.8,39.62 183.3,41.31 183.8,42.86 184.3,44.23 184.8,45.40 185.3,46.40 185.8,47.25 186.3,48.00 186.8,48.68 187.3,49.33 187.8,49.98 188.3,50.64 188.8,51.32 189.3,52.01 189.8,52.69 190.3,53.34 190.8,53.95 191.3,54.50 191.8,54.98 192.3,55.38 192.8,55.72 193.3,55.98 193.8,56.18M219.8,52.87 220.3,52.89 220.8,52.92 221.3,52.96 221.8,53.01 222.3,53.07 222.8,53.13 223.3,53.20 223.8,53.27 224.3,53.34 224.8,53.41 225.3,53.48 225.8,53.55 226.3,53.61 226.8,53.65 227.3,53.68 227.8,53.68 228.3,53.64 228.8,53.55 229.3,53.38M239.3,15.89 239.8,16.53 240.3,18.57 240.8,21.74 241.3,25.63 241.8,29.86 242.3,34.09 242.8,38.08 243.3,41.66 243.8,44.73 244.3,47.29 244.8,49.36 245.3,51.02 245.8,52.37 246.3,53.52 246.8,54.56 247.3,55.58 247.8,56.63 248.3,57.74 248.8,58.90 249.3,60.09 249.8,61.29 250.3,62.47 250.8,63.58 251.3,64.60 251.8,65.50 252.3,66.29 252.8,66.96 253.3,67.52 253.8,67.97 254.3,68.34 254.8,68.64 255.3,68.88 255.8,69.08" fill="none" stroke="#e8141b" stroke-width="2.0" stroke-linejoin="round"/>
<path d="M143.8,48.7 144.3,48.7 144.8,48.7 145.3,48.7 145.8,48.6 146.3,48.6 146.8,48.6 147.3,48.5 147.8,48.5 148.3,48.4 148.8,48.4 149.3,48.3 149.8,48.2 150.3,48.1 150.8,48.0 151.3,47.9 151.8,47.8 152.3,47.7 152.8,47.6 153.3,47.5 153.8,47.4 154.3,47.3 154.8,47.1 155.3,47.0 155.8,46.9 156.3,46.8 156.8,46.6 157.3,46.5 157.8,46.4 158.3,46.3 158.8,46.2 159.3,46.1 159.8,46.0 160.3,45.9 160.8,45.8 161.3,45.8 161.8,45.7 162.3,45.7 162.8,45.7 163.3,45.7 163.8,45.7 164.3,45.7 164.8,45.7 165.3,45.8 165.8,45.9 166.3,46.0 166.8,46.1 167.3,46.2 167.8,46.3 168.3,46.5 168.8,46.6 169.3,46.8 169.8,47.0 170.3,47.2 170.8,47.4 171.3,47.6 171.8,47.9 172.3,48.1 172.8,48.4 173.3,48.6 173.8,48.9 174.3,49.1 174.8,49.4 175.3,49.7 175.8,50.0 176.3,50.3 176.8,50.6 177.3,50.9 177.8,51.2 178.3,51.5 178.8,51.8 179.3,52.1 179.8,52.4 180.3,52.7 180.8,53.0 181.3,53.3 181.8,53.6 182.3,53.9 182.8,54.1 183.3,54.4 183.8,54.6 184.3,54.9 184.8,55.1 L184.8,55.3 184.3,55.1 183.8,54.9 183.3,54.7 182.8,54.5 182.3,54.3 181.8,54.1 181.3,53.8 180.8,53.6 180.3,53.4 179.8,53.2 179.3,53.0 178.8,52.8 178.3,52.5 177.8,52.3 177.3,52.2 176.8,52.0 176.3,51.8 175.8,51.6 175.3,51.5 174.8,51.4 174.3,51.2 173.8,51.1 173.3,51.0 172.8,50.9 172.3,50.8 171.8,50.7 171.3,50.6 170.8,50.5 170.3,50.5 169.8,50.4 169.3,50.3 168.8,50.3 168.3,50.2 167.8,50.2 167.3,50.1 166.8,50.1 166.3,50.0 165.8,50.0 165.3,50.0 164.8,49.9 164.3,49.9 163.8,49.9 163.3,49.8 162.8,49.8 162.3,49.8 161.8,49.7 161.3,49.7 160.8,49.7 160.3,49.7 159.8,49.6 159.3,49.6 158.8,49.6 158.3,49.6 157.8,49.6 157.3,49.5 156.8,49.5 156.3,49.5 155.8,49.5 155.3,49.4 154.8,49.4 154.3,49.4 153.8,49.4 153.3,49.4 152.8,49.3 152.3,49.3 151.8,49.3 151.3,49.3 150.8,49.3 150.3,49.2 149.8,49.2 149.3,49.2 148.8,49.2 148.3,49.2 147.8,49.1 147.3,49.1 146.8,49.1 146.3,49.1 145.8,49.1 145.3,49.0 144.8,49.0 144.3,49.0 143.8,49.0 Z" fill="url(#gy3)" stroke="#f2aa00" stroke-width="0.9"/>
<path d="M192.3,56.8 192.8,56.9 193.3,56.9 193.8,56.9 194.3,56.9 194.8,56.9 195.3,56.9 195.8,56.9 196.3,56.9 196.8,56.9 197.3,56.9 197.8,56.8 198.3,56.8 198.8,56.7 199.3,56.7 199.8,56.6 200.3,56.6 200.8,56.5 201.3,56.4 201.8,56.3 202.3,56.3 202.8,56.2 203.3,56.1 203.8,56.0 204.3,55.9 204.8,55.8 205.3,55.6 205.8,55.5 206.3,55.4 206.8,55.3 207.3,55.2 207.8,55.1 208.3,54.9 208.8,54.8 209.3,54.7 209.8,54.6 210.3,54.4 210.8,54.3 211.3,54.2 211.8,54.1 212.3,54.0 212.8,53.9 213.3,53.8 213.8,53.8 214.3,53.7 214.8,53.6 215.3,53.6 215.8,53.5 216.3,53.5 216.8,53.5 217.3,53.5 217.8,53.5 218.3,53.5 218.8,53.5 219.3,53.5 219.8,53.6 220.3,53.6 220.8,53.7 221.3,53.8 221.8,53.9 222.3,54.0 222.8,54.1 223.3,54.2 223.8,54.4 224.3,54.5 224.8,54.6 225.3,54.8 225.8,55.0 226.3,55.1 226.8,55.3 227.3,55.5 227.8,55.7 228.3,55.9 228.8,56.1 229.3,56.3 229.8,56.5 230.3,56.7 230.8,56.9 231.3,57.1 231.8,57.3 232.3,57.5 232.8,57.7 233.3,58.0 233.8,58.2 234.3,58.4 234.8,58.7 235.3,58.9 235.8,59.2 236.3,59.4 236.8,59.7 237.3,60.0 237.8,60.3 238.3,60.6 238.8,60.9 239.3,61.2 239.8,61.5 240.3,61.8 240.8,62.2 241.3,62.5 241.8,62.9 242.3,63.2 242.8,63.6 243.3,64.0 243.8,64.3 244.3,64.7 L244.3,64.9 243.8,64.6 243.3,64.3 242.8,63.9 242.3,63.6 241.8,63.3 241.3,63.0 240.8,62.7 240.3,62.4 239.8,62.1 239.3,61.9 238.8,61.6 238.3,61.4 237.8,61.2 237.3,61.0 236.8,60.8 236.3,60.6 235.8,60.5 235.3,60.3 234.8,60.2 234.3,60.0 233.8,59.9 233.3,59.8 232.8,59.7 232.3,59.6 231.8,59.5 231.3,59.5 230.8,59.4 230.3,59.3 229.8,59.3 229.3,59.2 228.8,59.1 228.3,59.1 227.8,59.0 227.3,59.0 226.8,59.0 226.3,58.9 225.8,58.9 225.3,58.9 224.8,58.8 224.3,58.8 223.8,58.8 223.3,58.7 222.8,58.7 222.3,58.7 221.8,58.6 221.3,58.6 220.8,58.6 220.3,58.6 219.8,58.5 219.3,58.5 218.8,58.5 218.3,58.5 217.8,58.5 217.3,58.4 216.8,58.4 216.3,58.4 215.8,58.4 215.3,58.3 214.8,58.3 214.3,58.3 213.8,58.3 213.3,58.3 212.8,58.2 212.3,58.2 211.8,58.2 211.3,58.2 210.8,58.2 210.3,58.1 209.8,58.1 209.3,58.1 208.8,58.1 208.3,58.0 207.8,58.0 207.3,58.0 206.8,58.0 206.3,58.0 205.8,57.9 205.3,57.9 204.8,57.9 204.3,57.9 203.8,57.9 203.3,57.8 202.8,57.8 202.3,57.8 201.8,57.8 201.3,57.7 200.8,57.7 200.3,57.7 199.8,57.7 199.3,57.6 198.8,57.6 198.3,57.6 197.8,57.5 197.3,57.5 196.8,57.5 196.3,57.4 195.8,57.4 195.3,57.4 194.8,57.3 194.3,57.3 193.8,57.2 193.3,57.2 192.8,57.1 192.3,57.0 Z" fill="url(#gy3)" stroke="#f2aa00" stroke-width="0.9"/>
<path d="M163.3,49.6 163.8,49.6 164.3,49.6 164.8,49.6 165.3,49.6 165.8,49.6 166.3,49.6 166.8,49.6 167.3,49.5 167.8,49.5 168.3,49.4 168.8,49.3 169.3,49.1 169.8,48.9 170.3,48.6 170.8,48.2 171.3,47.8 171.8,47.2 172.3,46.5 172.8,45.7 173.3,44.8 173.8,43.8 174.3,42.6 174.8,41.4 175.3,40.1 175.8,38.8 176.3,37.5 176.8,36.2 177.3,35.0 177.8,34.1 178.3,33.3 178.8,32.8 179.3,32.6 179.8,32.7 180.3,33.3 180.8,34.4 181.3,35.9 181.8,37.8 182.3,39.9 182.8,42.0 183.3,44.1 183.8,46.1 184.3,47.9 184.8,49.6 185.3,51.0 185.8,52.2 186.3,53.2 186.8,53.9 187.3,54.6 187.8,55.1 188.3,55.5 188.8,55.8 189.3,56.0 189.8,56.2 190.3,56.4 190.8,56.5 191.3,56.6 191.8,56.7 192.3,56.8 L192.3,57.0 191.8,57.0 191.3,56.9 190.8,56.8 190.3,56.8 189.8,56.7 189.3,56.6 188.8,56.5 188.3,56.3 187.8,56.2 187.3,56.1 186.8,56.0 186.3,55.8 185.8,55.6 185.3,55.5 184.8,55.3 184.3,55.1 183.8,54.9 183.3,54.7 182.8,54.5 182.3,54.3 181.8,54.1 181.3,53.8 180.8,53.6 180.3,53.4 179.8,53.2 179.3,53.0 178.8,52.8 178.3,52.5 177.8,52.3 177.3,52.2 176.8,52.0 176.3,51.8 175.8,51.6 175.3,51.5 174.8,51.4 174.3,51.2 173.8,51.1 173.3,51.0 172.8,50.9 172.3,50.8 171.8,50.7 171.3,50.6 170.8,50.5 170.3,50.5 169.8,50.4 169.3,50.3 168.8,50.3 168.3,50.2 167.8,50.2 167.3,50.1 166.8,50.1 166.3,50.0 165.8,50.0 165.3,50.0 164.8,49.9 164.3,49.9 163.8,49.9 163.3,49.8 Z" fill="url(#gb)" stroke="#1a5aa8" stroke-width="0.9"/>
<path d="M206.3,57.7 206.8,57.7 207.3,57.7 207.8,57.8 208.3,57.8 208.8,57.8 209.3,57.8 209.8,57.8 210.3,57.8 210.8,57.8 211.3,57.8 211.8,57.8 212.3,57.8 212.8,57.9 213.3,57.9 213.8,57.9 214.3,57.9 214.8,57.9 215.3,57.9 215.8,57.9 216.3,57.9 216.8,57.9 217.3,57.9 217.8,57.9 218.3,57.9 218.8,57.9 219.3,57.9 219.8,57.9 220.3,57.8 220.8,57.8 221.3,57.8 221.8,57.8 222.3,57.8 222.8,57.8 223.3,57.7 223.8,57.7 224.3,57.7 224.8,57.6 225.3,57.6 225.8,57.5 226.3,57.4 226.8,57.3 227.3,57.2 227.8,57.1 228.3,56.9 228.8,56.7 229.3,56.3 229.8,55.9 230.3,55.4 230.8,54.8 231.3,53.9 231.8,52.8 232.3,51.5 232.8,49.9 233.3,48.0 233.8,45.7 234.3,43.1 234.8,40.3 235.3,37.1 235.8,33.8 236.3,30.4 236.8,27.0 237.3,23.8 237.8,21.0 238.3,18.8 238.8,17.4 239.3,16.9 239.8,17.6 240.3,19.8 240.8,23.2 241.3,27.4 241.8,32.1 242.3,36.8 242.8,41.4 243.3,45.7 243.8,49.5 244.3,52.9 244.8,55.7 245.3,58.0 245.8,59.9 246.3,61.5 246.8,62.7 247.3,63.7 247.8,64.5 248.3,65.1 248.8,65.7 249.3,66.1 249.8,66.5 250.3,66.9 250.8,67.2 251.3,67.5 251.8,67.8 252.3,68.0 252.8,68.2 253.3,68.4 253.8,68.6 254.3,68.8 254.8,68.9 255.3,69.1 255.8,69.2 256.3,69.3 256.8,69.4 257.3,69.5 257.8,69.6 258.3,69.7 258.8,69.8 259.3,69.9 259.8,69.9 260.3,70.0 260.8,70.1 261.3,70.1 261.8,70.2 262.3,70.2 262.8,70.3 263.3,70.3 263.8,70.4 264.3,70.4 264.8,70.5 265.3,70.5 265.8,70.5 266.3,70.6 L266.3,70.8 265.8,70.8 265.3,70.8 264.8,70.7 264.3,70.7 263.8,70.7 263.3,70.6 262.8,70.6 262.3,70.6 261.8,70.5 261.3,70.5 260.8,70.5 260.3,70.4 259.8,70.4 259.3,70.3 258.8,70.3 258.3,70.2 257.8,70.2 257.3,70.1 256.8,70.0 256.3,69.9 255.8,69.9 255.3,69.8 254.8,69.7 254.3,69.6 253.8,69.4 253.3,69.3 252.8,69.2 252.3,69.0 251.8,68.9 251.3,68.7 250.8,68.5 250.3,68.3 249.8,68.1 249.3,67.9 248.8,67.6 248.3,67.4 247.8,67.1 247.3,66.8 246.8,66.5 246.3,66.2 245.8,65.9 245.3,65.6 244.8,65.3 244.3,64.9 243.8,64.6 243.3,64.3 242.8,63.9 242.3,63.6 241.8,63.3 241.3,63.0 240.8,62.7 240.3,62.4 239.8,62.1 239.3,61.9 238.8,61.6 238.3,61.4 237.8,61.2 237.3,61.0 236.8,60.8 236.3,60.6 235.8,60.5 235.3,60.3 234.8,60.2 234.3,60.0 233.8,59.9 233.3,59.8 232.8,59.7 232.3,59.6 231.8,59.5 231.3,59.5 230.8,59.4 230.3,59.3 229.8,59.3 229.3,59.2 228.8,59.1 228.3,59.1 227.8,59.0 227.3,59.0 226.8,59.0 226.3,58.9 225.8,58.9 225.3,58.9 224.8,58.8 224.3,58.8 223.8,58.8 223.3,58.7 222.8,58.7 222.3,58.7 221.8,58.6 221.3,58.6 220.8,58.6 220.3,58.6 219.8,58.5 219.3,58.5 218.8,58.5 218.3,58.5 217.8,58.5 217.3,58.4 216.8,58.4 216.3,58.4 215.8,58.4 215.3,58.3 214.8,58.3 214.3,58.3 213.8,58.3 213.3,58.3 212.8,58.2 212.3,58.2 211.8,58.2 211.3,58.2 210.8,58.2 210.3,58.1 209.8,58.1 209.3,58.1 208.8,58.1 208.3,58.0 207.8,58.0 207.3,58.0 206.8,58.0 206.3,58.0 Z" fill="url(#gb)" stroke="#1a5aa8" stroke-width="0.9"/>
<path d="M179.3,52.8 179.8,52.9 180.3,53.0 180.8,53.0 181.3,53.0 181.8,53.0 182.3,52.8 182.8,52.6 183.3,52.4 183.8,52.1 184.3,51.8 184.8,51.5 185.3,51.2 185.8,51.0 186.3,50.9 186.8,51.0 187.3,51.1 187.8,51.4 188.3,51.8 188.8,52.3 189.3,52.8 189.8,53.4 190.3,54.0 190.8,54.6 191.3,55.1 191.8,55.6 192.3,56.0 192.8,56.3 193.3,56.6 193.8,56.8 194.3,57.0 194.8,57.1 L194.8,57.3 194.3,57.3 193.8,57.2 193.3,57.2 192.8,57.1 192.3,57.0 191.8,57.0 191.3,56.9 190.8,56.8 190.3,56.8 189.8,56.7 189.3,56.6 188.8,56.5 188.3,56.3 187.8,56.2 187.3,56.1 186.8,56.0 186.3,55.8 185.8,55.6 185.3,55.5 184.8,55.3 184.3,55.1 183.8,54.9 183.3,54.7 182.8,54.5 182.3,54.3 181.8,54.1 181.3,53.8 180.8,53.6 180.3,53.4 179.8,53.2 179.3,53.0 Z" fill="url(#gp)"/>
<path d="M238.8,61.4 239.3,61.6 239.8,61.7 240.3,61.7 240.8,61.7 241.3,61.7 241.8,61.5 242.3,61.3 242.8,60.9 243.3,60.5 243.8,60.1 244.3,59.6 244.8,59.1 245.3,58.8 245.8,58.5 246.3,58.4 246.8,58.5 247.3,58.9 247.8,59.4 248.3,60.1 248.8,61.0 249.3,61.9 249.8,62.9 250.3,63.9 250.8,64.9 251.3,65.8 251.8,66.6 252.3,67.4 252.8,67.9 253.3,68.4 253.8,68.8 254.3,69.1 254.8,69.4 255.3,69.6 L255.3,69.8 254.8,69.7 254.3,69.6 253.8,69.4 253.3,69.3 252.8,69.2 252.3,69.0 251.8,68.9 251.3,68.7 250.8,68.5 250.3,68.3 249.8,68.1 249.3,67.9 248.8,67.6 248.3,67.4 247.8,67.1 247.3,66.8 246.8,66.5 246.3,66.2 245.8,65.9 245.3,65.6 244.8,65.3 244.3,64.9 243.8,64.6 243.3,64.3 242.8,63.9 242.3,63.6 241.8,63.3 241.3,63.0 240.8,62.7 240.3,62.4 239.8,62.1 239.3,61.9 238.8,61.6 Z" fill="url(#gp)"/>
<path d="M142.8,48.9 143.3,49.0 143.8,49.0 144.3,49.0 144.8,49.0 145.3,49.0 145.8,49.1 146.3,49.1 146.8,49.1 147.3,49.1 147.8,49.1 148.3,49.2 148.8,49.2 149.3,49.2 149.8,49.2 150.3,49.2 150.8,49.3 151.3,49.3 151.8,49.3 152.3,49.3 152.8,49.3 153.3,49.4 153.8,49.4 154.3,49.4 154.8,49.4 155.3,49.4 155.8,49.5 156.3,49.5 156.8,49.5 157.3,49.5 157.8,49.6 158.3,49.6 158.8,49.6 159.3,49.6 159.8,49.6 160.3,49.7 160.8,49.7 161.3,49.7 161.8,49.7 162.3,49.8 162.8,49.8 163.3,49.8 163.8,49.9 164.3,49.9 164.8,49.9 165.3,50.0 165.8,50.0 166.3,50.0 166.8,50.1 167.3,50.1 167.8,50.2 168.3,50.2 168.8,50.3 169.3,50.3 169.8,50.4 170.3,50.5 170.8,50.5 171.3,50.6 171.8,50.7 172.3,50.8 172.8,50.9 173.3,51.0 173.8,51.1 174.3,51.2 174.8,51.4 175.3,51.5 175.8,51.6 176.3,51.8 176.8,52.0 177.3,52.2 177.8,52.3 178.3,52.5 178.8,52.8 179.3,53.0 179.8,53.2 180.3,53.4 180.8,53.6 181.3,53.8 181.8,54.1 182.3,54.3 182.8,54.5 183.3,54.7 183.8,54.9 184.3,55.1 184.8,55.3 185.3,55.5 185.8,55.6 186.3,55.8 186.8,56.0 187.3,56.1 187.8,56.2 188.3,56.3 188.8,56.5 189.3,56.6 189.8,56.7 190.3,56.8 190.8,56.8 191.3,56.9 191.8,57.0 192.3,57.0 192.8,57.1 193.3,57.2 193.8,57.2 194.3,57.3 194.8,57.3 195.3,57.4 195.8,57.4 196.3,57.4 196.8,57.5 197.3,57.5 197.8,57.5 198.3,57.6 198.8,57.6 199.3,57.6 199.8,57.7 200.3,57.7 200.8,57.7 201.3,57.7 201.8,57.8 202.3,57.8 202.8,57.8 203.3,57.8 203.8,57.9 204.3,57.9 204.8,57.9 205.3,57.9 205.8,57.9 206.3,58.0 206.8,58.0 207.3,58.0 207.8,58.0 208.3,58.0 208.8,58.1 209.3,58.1 209.8,58.1 210.3,58.1 210.8,58.2 211.3,58.2 211.8,58.2 212.3,58.2 212.8,58.2 213.3,58.3 213.8,58.3 214.3,58.3 214.8,58.3 215.3,58.3 215.8,58.4 216.3,58.4 216.8,58.4 217.3,58.4 217.8,58.5 218.3,58.5 218.8,58.5 219.3,58.5 219.8,58.5 220.3,58.6 220.8,58.6 221.3,58.6 221.8,58.6 222.3,58.7 222.8,58.7 223.3,58.7 223.8,58.8 224.3,58.8 224.8,58.8 225.3,58.9 225.8,58.9 226.3,58.9 226.8,59.0 227.3,59.0 227.8,59.0 228.3,59.1 228.8,59.1 229.3,59.2 229.8,59.3 230.3,59.3 230.8,59.4 231.3,59.5 231.8,59.5 232.3,59.6 232.8,59.7 233.3,59.8 233.8,59.9 234.3,60.0 234.8,60.2 235.3,60.3 235.8,60.5 236.3,60.6 236.8,60.8 237.3,61.0 237.8,61.2 238.3,61.4 238.8,61.6 239.3,61.9 239.8,62.1 240.3,62.4 240.8,62.7 241.3,63.0 241.8,63.3 242.3,63.6 242.8,63.9 243.3,64.3 243.8,64.6 244.3,64.9 244.8,65.3 245.3,65.6 245.8,65.9 246.3,66.2 246.8,66.5 247.3,66.8 247.8,67.1 248.3,67.4 248.8,67.6 249.3,67.9 249.8,68.1 250.3,68.3 250.8,68.5 251.3,68.7 251.8,68.9 252.3,69.0 252.8,69.2 253.3,69.3 253.8,69.4 254.3,69.6 254.8,69.7 255.3,69.8 255.8,69.9 256.3,69.9 256.8,70.0 257.3,70.1 257.8,70.2 258.3,70.2 258.8,70.3 259.3,70.3 259.8,70.4 260.3,70.4 260.8,70.5 261.3,70.5 261.8,70.5 262.3,70.6 262.8,70.6 263.3,70.6 263.8,70.7 264.3,70.7 264.8,70.7 265.3,70.8 265.8,70.8 266.3,70.8 266.8,70.8 267.3,70.9 267.8,70.9 268.3,70.9 268.8,70.9 269.3,71.0 269.8,71.0" fill="none" stroke="#a08478" stroke-width="1.3"/>
<path d="M143.4,48.7V46.0M144.6,48.5V44.4M145.8,47.6V45.3M147.0,47.8V44.4M148.2,47.8V42.2M149.4,47.3V44.7M150.6,47.5V44.6M151.8,47.3V45.0M153.0,47.6V44.5M154.2,47.9V43.8M155.4,46.0V43.0M156.6,45.7V42.1M157.8,45.9V43.1M159.0,45.1V43.2M160.2,44.9V42.7M161.4,45.1V40.3M162.6,44.6V42.5M163.8,45.3V42.1M165.0,45.6V39.8M166.2,44.5V42.8M167.4,45.1V42.0M193.8,55.3V52.4M195.0,55.6V53.3M196.2,55.6V53.3M197.4,56.0V52.5M198.6,56.2V53.3M199.8,55.7V51.1M201.0,55.3V53.4M202.2,55.3V51.9M203.4,55.4V52.6M204.6,56.3V52.3M205.8,57.2V51.5M207.0,54.1V51.5M208.2,53.7V51.4M209.4,54.4V51.7M210.6,54.6V51.3M211.8,53.1V49.8M213.0,53.4V50.0M214.2,53.5V49.3M215.4,52.7V47.0M216.6,53.2V49.1M217.8,51.9V50.2M219.0,52.1V49.8M220.2,52.1V49.3M256.2,69.1V66.3M257.4,68.6V66.2M258.6,69.6V65.4M259.8,70.7V65.9M261.0,69.7V67.3M262.2,69.5V66.4M263.4,70.1V67.7M264.6,70.2V67.4M265.8,70.2V66.1M267.0,69.8V67.4M268.2,71.9V67.1M269.4,71.7V66.7" fill="none" stroke="#7c7c7c" stroke-width="1.1"/>
<path d="M169.3,118.08 169.8,118.15 170.3,118.19 170.8,118.17 171.3,118.08 171.8,117.90 172.3,117.62 172.8,117.21 173.3,116.66 173.8,115.97 174.3,115.14 174.8,114.16 175.3,113.06 175.8,111.86 176.3,110.60 176.8,109.34 177.3,108.12 177.8,107.01 178.3,106.09 178.8,105.42 179.3,105.05 179.8,105.03 180.3,105.40 180.8,106.26 181.3,107.53 181.8,109.08 182.3,110.78 182.8,112.51 183.3,114.17 183.8,115.68 184.3,116.98 184.8,118.06 185.3,118.93 185.8,119.64 186.3,120.22 186.8,120.73 187.3,121.23 187.8,121.75 188.3,122.33 188.8,122.96 189.3,123.66 189.8,124.39 190.3,125.13 190.8,125.86 191.3,126.55 191.8,127.18 192.3,127.73 192.8,128.20 193.3,128.58 193.8,128.88 194.3,129.11 194.8,129.28M212.8,126.31 213.3,126.18 213.8,126.05 214.3,125.93 214.8,125.82 215.3,125.71 215.8,125.61 216.3,125.51 216.8,125.43 217.3,125.35 217.8,125.28 218.3,125.22 218.8,125.16 219.3,125.12 219.8,125.08 220.3,125.05 220.8,125.02 221.3,125.00 221.8,124.99 222.3,124.97 222.8,124.96 223.3,124.94 223.8,124.91 224.3,124.87 224.8,124.81 225.3,124.73 225.8,124.61 226.3,124.45 226.8,124.23 227.3,123.95 227.8,123.58 228.3,123.12 228.8,122.54 229.3,121.84M239.3,88.11 239.8,88.71 240.3,90.43 240.8,93.09 241.3,96.40 241.8,100.04 242.3,103.73 242.8,107.26 243.3,110.47 243.8,113.25 244.3,115.57 244.8,117.44 245.3,118.94 245.8,120.15 246.3,121.19 246.8,122.18 247.3,123.20 247.8,124.34 248.3,125.65 248.8,127.12 249.3,128.73 249.8,130.44 250.3,132.18 250.8,133.90 251.3,135.53 251.8,137.03 252.3,138.36 252.8,139.51 253.3,140.47 253.8,141.26 254.3,141.90 254.8,142.40 255.3,142.80 255.8,143.12 256.3,143.36 256.8,143.57 257.3,143.73 257.8,143.87" fill="none" stroke="#e8141b" stroke-width="2.0" stroke-linejoin="round"/>
<path d="M142.8,120.3 143.3,120.3 143.8,120.2 144.3,120.1 144.8,120.1 145.3,120.0 145.8,119.9 146.3,119.8 146.8,119.7 147.3,119.6 147.8,119.5 148.3,119.4 148.8,119.3 149.3,119.1 149.8,119.0 150.3,118.9 150.8,118.7 151.3,118.6 151.8,118.4 152.3,118.3 152.8,118.2 153.3,118.0 153.8,117.9 154.3,117.7 154.8,117.6 155.3,117.5 155.8,117.4 156.3,117.2 156.8,117.1 157.3,117.0 157.8,117.0 158.3,116.9 158.8,116.8 159.3,116.8 159.8,116.7 160.3,116.7 160.8,116.7 161.3,116.7 161.8,116.7 162.3,116.8 162.8,116.8 163.3,116.9 163.8,117.0 164.3,117.1 164.8,117.2 165.3,117.3 165.8,117.5 166.3,117.7 166.8,117.8 167.3,118.0 167.8,118.2 168.3,118.4 168.8,118.6 169.3,118.8 169.8,119.1 170.3,119.3 170.8,119.6 171.3,119.8 171.8,120.1 172.3,120.4 172.8,120.6 173.3,120.9 173.8,121.2 174.3,121.5 174.8,121.8 175.3,122.1 175.8,122.4 176.3,122.7 176.8,123.0 177.3,123.4 177.8,123.7 178.3,124.0 178.8,124.3 179.3,124.7 179.8,125.0 180.3,125.3 180.8,125.6 181.3,126.0 181.8,126.3 182.3,126.6 182.8,126.9 183.3,127.1 183.8,127.4 184.3,127.7 184.8,127.9 185.3,128.1 L185.3,128.4 184.8,128.2 184.3,128.0 183.8,127.8 183.3,127.5 182.8,127.3 182.3,127.1 181.8,126.8 181.3,126.6 180.8,126.4 180.3,126.1 179.8,125.9 179.3,125.6 178.8,125.4 178.3,125.2 177.8,125.0 177.3,124.8 176.8,124.6 176.3,124.4 175.8,124.2 175.3,124.0 174.8,123.9 174.3,123.7 173.8,123.6 173.3,123.5 172.8,123.3 172.3,123.2 171.8,123.1 171.3,123.0 170.8,122.9 170.3,122.9 169.8,122.8 169.3,122.7 168.8,122.7 168.3,122.6 167.8,122.5 167.3,122.5 166.8,122.4 166.3,122.4 165.8,122.3 165.3,122.3 164.8,122.3 164.3,122.2 163.8,122.2 163.3,122.1 162.8,122.1 162.3,122.1 161.8,122.0 161.3,122.0 160.8,122.0 160.3,122.0 159.8,121.9 159.3,121.9 158.8,121.9 158.3,121.8 157.8,121.8 157.3,121.8 156.8,121.8 156.3,121.7 155.8,121.7 155.3,121.7 154.8,121.6 154.3,121.6 153.8,121.6 153.3,121.6 152.8,121.5 152.3,121.5 151.8,121.5 151.3,121.5 150.8,121.4 150.3,121.4 149.8,121.4 149.3,121.4 148.8,121.3 148.3,121.3 147.8,121.3 147.3,121.3 146.8,121.2 146.3,121.2 145.8,121.2 145.3,121.2 144.8,121.1 144.3,121.1 143.8,121.1 143.3,121.1 142.8,121.0 Z" fill="url(#gy3)" stroke="#f2aa00" stroke-width="0.9"/>
<path d="M192.3,129.9 192.8,129.9 193.3,130.0 193.8,130.0 194.3,130.0 194.8,130.0 195.3,130.0 195.8,130.0 196.3,130.0 196.8,130.0 197.3,130.0 197.8,130.0 198.3,129.9 198.8,129.9 199.3,129.8 199.8,129.8 200.3,129.7 200.8,129.7 201.3,129.6 201.8,129.5 202.3,129.4 202.8,129.4 203.3,129.3 203.8,129.2 204.3,129.1 204.8,129.0 205.3,128.9 205.8,128.7 206.3,128.6 206.8,128.5 207.3,128.4 207.8,128.3 208.3,128.1 208.8,128.0 209.3,127.9 209.8,127.7 210.3,127.6 210.8,127.5 211.3,127.4 211.8,127.3 212.3,127.1 212.8,127.0 213.3,126.9 213.8,126.8 214.3,126.7 214.8,126.6 215.3,126.6 215.8,126.5 216.3,126.4 216.8,126.4 217.3,126.3 217.8,126.3 218.3,126.3 218.8,126.3 219.3,126.3 219.8,126.3 220.3,126.4 220.8,126.4 221.3,126.5 221.8,126.5 222.3,126.6 222.8,126.7 223.3,126.8 223.8,126.9 224.3,127.0 224.8,127.2 225.3,127.3 225.8,127.5 226.3,127.6 226.8,127.8 227.3,128.0 227.8,128.2 228.3,128.4 228.8,128.6 229.3,128.8 229.8,129.0 230.3,129.2 230.8,129.4 231.3,129.7 231.8,129.9 232.3,130.2 232.8,130.4 233.3,130.7 233.8,130.9 234.3,131.2 234.8,131.5 235.3,131.8 235.8,132.1 236.3,132.4 236.8,132.7 237.3,133.0 237.8,133.4 238.3,133.7 238.8,134.1 239.3,134.4 239.8,134.8 240.3,135.2 240.8,135.6 241.3,136.0 241.8,136.4 242.3,136.8 242.8,137.2 243.3,137.6 243.8,138.0 244.3,138.4 244.8,138.8 245.3,139.2 245.8,139.6 246.3,140.0 246.8,140.4 247.3,140.7 247.8,141.0 L247.8,141.3 247.3,141.0 246.8,140.6 246.3,140.3 245.8,140.0 245.3,139.6 244.8,139.3 244.3,138.9 243.8,138.6 243.3,138.2 242.8,137.8 242.3,137.5 241.8,137.2 241.3,136.8 240.8,136.5 240.3,136.2 239.8,135.9 239.3,135.6 238.8,135.4 238.3,135.1 237.8,134.9 237.3,134.7 236.8,134.4 236.3,134.3 235.8,134.1 235.3,133.9 234.8,133.8 234.3,133.6 233.8,133.5 233.3,133.4 232.8,133.3 232.3,133.2 231.8,133.1 231.3,133.0 230.8,132.9 230.3,132.8 229.8,132.8 229.3,132.7 228.8,132.6 228.3,132.6 227.8,132.5 227.3,132.5 226.8,132.4 226.3,132.4 225.8,132.3 225.3,132.3 224.8,132.3 224.3,132.2 223.8,132.2 223.3,132.1 222.8,132.1 222.3,132.1 221.8,132.0 221.3,132.0 220.8,132.0 220.3,132.0 219.8,131.9 219.3,131.9 218.8,131.9 218.3,131.8 217.8,131.8 217.3,131.8 216.8,131.8 216.3,131.7 215.8,131.7 215.3,131.7 214.8,131.6 214.3,131.6 213.8,131.6 213.3,131.6 212.8,131.5 212.3,131.5 211.8,131.5 211.3,131.5 210.8,131.4 210.3,131.4 209.8,131.4 209.3,131.4 208.8,131.3 208.3,131.3 207.8,131.3 207.3,131.3 206.8,131.2 206.3,131.2 205.8,131.2 205.3,131.2 204.8,131.1 204.3,131.1 203.8,131.1 203.3,131.0 202.8,131.0 202.3,131.0 201.8,131.0 201.3,130.9 200.8,130.9 200.3,130.9 199.8,130.8 199.3,130.8 198.8,130.8 198.3,130.7 197.8,130.7 197.3,130.6 196.8,130.6 196.3,130.6 195.8,130.5 195.3,130.5 194.8,130.4 194.3,130.4 193.8,130.3 193.3,130.3 192.8,130.2 192.3,130.1 Z" fill="url(#gy3)" stroke="#f2aa00" stroke-width="0.9"/>
<path d="M165.3,122.1 165.8,122.1 166.3,122.1 166.8,122.1 167.3,122.1 167.8,122.1 168.3,122.1 168.8,122.1 169.3,122.1 169.8,122.0 170.3,121.8 170.8,121.7 171.3,121.4 171.8,121.1 172.3,120.6 172.8,120.0 173.3,119.3 173.8,118.5 174.3,117.5 174.8,116.4 175.3,115.1 175.8,113.8 176.3,112.4 176.8,111.0 177.3,109.7 177.8,108.5 178.3,107.5 178.8,106.7 179.3,106.3 179.8,106.3 180.3,106.7 180.8,107.6 181.3,109.0 181.8,110.8 182.3,112.8 182.8,114.9 183.3,117.0 183.8,119.0 184.3,120.9 184.8,122.5 185.3,124.0 185.8,125.2 186.3,126.2 186.8,127.0 187.3,127.6 187.8,128.1 188.3,128.5 188.8,128.8 189.3,129.1 189.8,129.3 190.3,129.4 190.8,129.6 191.3,129.7 191.8,129.8 192.3,129.9 L192.3,130.1 191.8,130.0 191.3,130.0 190.8,129.9 190.3,129.8 189.8,129.7 189.3,129.6 188.8,129.5 188.3,129.3 187.8,129.2 187.3,129.1 186.8,128.9 186.3,128.7 185.8,128.6 185.3,128.4 184.8,128.2 184.3,128.0 183.8,127.8 183.3,127.5 182.8,127.3 182.3,127.1 181.8,126.8 181.3,126.6 180.8,126.4 180.3,126.1 179.8,125.9 179.3,125.6 178.8,125.4 178.3,125.2 177.8,125.0 177.3,124.8 176.8,124.6 176.3,124.4 175.8,124.2 175.3,124.0 174.8,123.9 174.3,123.7 173.8,123.6 173.3,123.5 172.8,123.3 172.3,123.2 171.8,123.1 171.3,123.0 170.8,122.9 170.3,122.9 169.8,122.8 169.3,122.7 168.8,122.7 168.3,122.6 167.8,122.5 167.3,122.5 166.8,122.4 166.3,122.4 165.8,122.3 165.3,122.3 Z" fill="url(#gb)" stroke="#1a5aa8" stroke-width="0.9"/>
<path d="M194.8,130.2 195.3,130.2 195.8,130.3 196.3,130.3 196.8,130.3 197.3,130.4 197.8,130.4 198.3,130.4 198.8,130.5 199.3,130.5 199.8,130.5 200.3,130.5 200.8,130.6 201.3,130.6 201.8,130.6 202.3,130.6 202.8,130.6 203.3,130.7 203.8,130.7 204.3,130.7 204.8,130.7 205.3,130.7 205.8,130.7 206.3,130.8 206.8,130.8 207.3,130.8 207.8,130.8 208.3,130.8 208.8,130.8 209.3,130.8 209.8,130.8 210.3,130.8 210.8,130.8 211.3,130.9 211.8,130.9 212.3,130.9 212.8,130.9 213.3,130.9 213.8,130.9 214.3,130.9 214.8,130.9 215.3,130.9 215.8,130.8 216.3,130.8 216.8,130.8 217.3,130.8 217.8,130.8 218.3,130.8 218.8,130.8 219.3,130.7 219.8,130.7 220.3,130.7 220.8,130.6 221.3,130.6 221.8,130.5 222.3,130.5 222.8,130.4 223.3,130.3 223.8,130.2 224.3,130.1 224.8,129.9 225.3,129.7 225.8,129.5 226.3,129.2 226.8,128.9 227.3,128.5 227.8,128.0 228.3,127.3 228.8,126.6 229.3,125.8 229.8,124.8 230.3,123.6 230.8,122.3 231.3,120.8 231.8,119.1 232.3,117.2 232.8,115.1 233.3,112.9 233.8,110.5 234.3,108.0 234.8,105.4 235.3,102.8 235.8,100.2 236.3,97.8 236.8,95.5 237.3,93.4 237.8,91.7 238.3,90.5 238.8,89.8 239.3,89.6 239.8,90.3 240.3,92.2 240.8,95.1 241.3,98.8 241.8,103.0 242.3,107.4 242.8,111.7 243.3,116.0 243.8,119.9 244.3,123.4 244.8,126.6 245.3,129.3 245.8,131.6 246.3,133.5 246.8,135.1 247.3,136.4 247.8,137.5 248.3,138.4 248.8,139.1 249.3,139.8 249.8,140.3 250.3,140.7 250.8,141.1 251.3,141.5 251.8,141.8 252.3,142.1 252.8,142.3 253.3,142.5 253.8,142.8 254.3,142.9 254.8,143.1 255.3,143.3 255.8,143.4 256.3,143.6 256.8,143.7 257.3,143.8 257.8,143.9 258.3,144.0 258.8,144.1 259.3,144.2 259.8,144.3 260.3,144.4 260.8,144.4 261.3,144.5 261.8,144.6 262.3,144.6 262.8,144.7 263.3,144.8 263.8,144.8 264.3,144.9 264.8,144.9 265.3,145.0 265.8,145.0 266.3,145.0 266.8,145.1 267.3,145.1 267.8,145.2 268.3,145.2 268.8,145.2 269.3,145.3 269.8,145.3 L269.8,145.6 269.3,145.5 268.8,145.5 268.3,145.5 267.8,145.5 267.3,145.4 266.8,145.4 266.3,145.4 265.8,145.3 265.3,145.3 264.8,145.3 264.3,145.2 263.8,145.2 263.3,145.2 262.8,145.1 262.3,145.1 261.8,145.0 261.3,145.0 260.8,144.9 260.3,144.9 259.8,144.8 259.3,144.8 258.8,144.7 258.3,144.7 257.8,144.6 257.3,144.5 256.8,144.4 256.3,144.3 255.8,144.3 255.3,144.2 254.8,144.0 254.3,143.9 253.8,143.8 253.3,143.7 252.8,143.5 252.3,143.4 251.8,143.2 251.3,143.0 250.8,142.8 250.3,142.6 249.8,142.3 249.3,142.1 248.8,141.8 248.3,141.6 247.8,141.3 247.3,141.0 246.8,140.6 246.3,140.3 245.8,140.0 245.3,139.6 244.8,139.3 244.3,138.9 243.8,138.6 243.3,138.2 242.8,137.8 242.3,137.5 241.8,137.2 241.3,136.8 240.8,136.5 240.3,136.2 239.8,135.9 239.3,135.6 238.8,135.4 238.3,135.1 237.8,134.9 237.3,134.7 236.8,134.4 236.3,134.3 235.8,134.1 235.3,133.9 234.8,133.8 234.3,133.6 233.8,133.5 233.3,133.4 232.8,133.3 232.3,133.2 231.8,133.1 231.3,133.0 230.8,132.9 230.3,132.8 229.8,132.8 229.3,132.7 228.8,132.6 228.3,132.6 227.8,132.5 227.3,132.5 226.8,132.4 226.3,132.4 225.8,132.3 225.3,132.3 224.8,132.3 224.3,132.2 223.8,132.2 223.3,132.1 222.8,132.1 222.3,132.1 221.8,132.0 221.3,132.0 220.8,132.0 220.3,132.0 219.8,131.9 219.3,131.9 218.8,131.9 218.3,131.8 217.8,131.8 217.3,131.8 216.8,131.8 216.3,131.7 215.8,131.7 215.3,131.7 214.8,131.6 214.3,131.6 213.8,131.6 213.3,131.6 212.8,131.5 212.3,131.5 211.8,131.5 211.3,131.5 210.8,131.4 210.3,131.4 209.8,131.4 209.3,131.4 208.8,131.3 208.3,131.3 207.8,131.3 207.3,131.3 206.8,131.2 206.3,131.2 205.8,131.2 205.3,131.2 204.8,131.1 204.3,131.1 203.8,131.1 203.3,131.0 202.8,131.0 202.3,131.0 201.8,131.0 201.3,130.9 200.8,130.9 200.3,130.9 199.8,130.8 199.3,130.8 198.8,130.8 198.3,130.7 197.8,130.7 197.3,130.6 196.8,130.6 196.3,130.6 195.8,130.5 195.3,130.5 194.8,130.4 Z" fill="url(#gb)" stroke="#1a5aa8" stroke-width="0.9"/>
<path d="M179.8,125.6 180.3,125.8 180.8,125.9 181.3,125.9 181.8,125.9 182.3,125.7 182.8,125.6 183.3,125.3 183.8,125.0 184.3,124.6 184.8,124.2 185.3,123.8 185.8,123.5 186.3,123.2 186.8,123.1 187.3,123.1 187.8,123.2 188.3,123.6 188.8,124.0 189.3,124.6 189.8,125.2 190.3,125.9 190.8,126.6 191.3,127.3 191.8,127.9 192.3,128.5 192.8,128.9 193.3,129.3 193.8,129.7 194.3,129.9 194.8,130.1 195.3,130.3 L195.3,130.5 194.8,130.4 194.3,130.4 193.8,130.3 193.3,130.3 192.8,130.2 192.3,130.1 191.8,130.0 191.3,130.0 190.8,129.9 190.3,129.8 189.8,129.7 189.3,129.6 188.8,129.5 188.3,129.3 187.8,129.2 187.3,129.1 186.8,128.9 186.3,128.7 185.8,128.6 185.3,128.4 184.8,128.2 184.3,128.0 183.8,127.8 183.3,127.5 182.8,127.3 182.3,127.1 181.8,126.8 181.3,126.6 180.8,126.4 180.3,126.1 179.8,125.9 Z" fill="url(#gp)"/>
<path d="M238.8,135.2 239.3,135.3 239.8,135.4 240.3,135.5 240.8,135.4 241.3,135.3 241.8,135.0 242.3,134.6 242.8,134.0 243.3,133.3 243.8,132.5 244.3,131.6 244.8,130.6 245.3,129.7 245.8,128.9 246.3,128.3 246.8,128.0 247.3,128.0 247.8,128.3 248.3,129.0 248.8,130.0 249.3,131.2 249.8,132.7 250.3,134.2 250.8,135.7 251.3,137.2 251.8,138.5 252.3,139.7 252.8,140.8 253.3,141.7 253.8,142.4 254.3,142.9 254.8,143.4 255.3,143.7 255.8,144.0 256.3,144.2 L256.3,144.3 255.8,144.3 255.3,144.2 254.8,144.0 254.3,143.9 253.8,143.8 253.3,143.7 252.8,143.5 252.3,143.4 251.8,143.2 251.3,143.0 250.8,142.8 250.3,142.6 249.8,142.3 249.3,142.1 248.8,141.8 248.3,141.6 247.8,141.3 247.3,141.0 246.8,140.6 246.3,140.3 245.8,140.0 245.3,139.6 244.8,139.3 244.3,138.9 243.8,138.6 243.3,138.2 242.8,137.8 242.3,137.5 241.8,137.2 241.3,136.8 240.8,136.5 240.3,136.2 239.8,135.9 239.3,135.6 238.8,135.4 Z" fill="url(#gp)"/>
<path d="M142.8,121.0 143.3,121.1 143.8,121.1 144.3,121.1 144.8,121.1 145.3,121.2 145.8,121.2 146.3,121.2 146.8,121.2 147.3,121.3 147.8,121.3 148.3,121.3 148.8,121.3 149.3,121.4 149.8,121.4 150.3,121.4 150.8,121.4 151.3,121.5 151.8,121.5 152.3,121.5 152.8,121.5 153.3,121.6 153.8,121.6 154.3,121.6 154.8,121.6 155.3,121.7 155.8,121.7 156.3,121.7 156.8,121.8 157.3,121.8 157.8,121.8 158.3,121.8 158.8,121.9 159.3,121.9 159.8,121.9 160.3,122.0 160.8,122.0 161.3,122.0 161.8,122.0 162.3,122.1 162.8,122.1 163.3,122.1 163.8,122.2 164.3,122.2 164.8,122.3 165.3,122.3 165.8,122.3 166.3,122.4 166.8,122.4 167.3,122.5 167.8,122.5 168.3,122.6 168.8,122.7 169.3,122.7 169.8,122.8 170.3,122.9 170.8,122.9 171.3,123.0 171.8,123.1 172.3,123.2 172.8,123.3 173.3,123.5 173.8,123.6 174.3,123.7 174.8,123.9 175.3,124.0 175.8,124.2 176.3,124.4 176.8,124.6 177.3,124.8 177.8,125.0 178.3,125.2 178.8,125.4 179.3,125.6 179.8,125.9 180.3,126.1 180.8,126.4 181.3,126.6 181.8,126.8 182.3,127.1 182.8,127.3 183.3,127.5 183.8,127.8 184.3,128.0 184.8,128.2 185.3,128.4 185.8,128.6 186.3,128.7 186.8,128.9 187.3,129.1 187.8,129.2 188.3,129.3 188.8,129.5 189.3,129.6 189.8,129.7 190.3,129.8 190.8,129.9 191.3,130.0 191.8,130.0 192.3,130.1 192.8,130.2 193.3,130.3 193.8,130.3 194.3,130.4 194.8,130.4 195.3,130.5 195.8,130.5 196.3,130.6 196.8,130.6 197.3,130.6 197.8,130.7 198.3,130.7 198.8,130.8 199.3,130.8 199.8,130.8 200.3,130.9 200.8,130.9 201.3,130.9 201.8,131.0 202.3,131.0 202.8,131.0 203.3,131.0 203.8,131.1 204.3,131.1 204.8,131.1 205.3,131.2 205.8,131.2 206.3,131.2 206.8,131.2 207.3,131.3 207.8,131.3 208.3,131.3 208.8,131.3 209.3,131.4 209.8,131.4 210.3,131.4 210.8,131.4 211.3,131.5 211.8,131.5 212.3,131.5 212.8,131.5 213.3,131.6 213.8,131.6 214.3,131.6 214.8,131.6 215.3,131.7 215.8,131.7 216.3,131.7 216.8,131.8 217.3,131.8 217.8,131.8 218.3,131.8 218.8,131.9 219.3,131.9 219.8,131.9 220.3,132.0 220.8,132.0 221.3,132.0 221.8,132.0 222.3,132.1 222.8,132.1 223.3,132.1 223.8,132.2 224.3,132.2 224.8,132.3 225.3,132.3 225.8,132.3 226.3,132.4 226.8,132.4 227.3,132.5 227.8,132.5 228.3,132.6 228.8,132.6 229.3,132.7 229.8,132.8 230.3,132.8 230.8,132.9 231.3,133.0 231.8,133.1 232.3,133.2 232.8,133.3 233.3,133.4 233.8,133.5 234.3,133.6 234.8,133.8 235.3,133.9 235.8,134.1 236.3,134.3 236.8,134.4 237.3,134.7 237.8,134.9 238.3,135.1 238.8,135.4 239.3,135.6 239.8,135.9 240.3,136.2 240.8,136.5 241.3,136.8 241.8,137.2 242.3,137.5 242.8,137.8 243.3,138.2 243.8,138.6 244.3,138.9 244.8,139.3 245.3,139.6 245.8,140.0 246.3,140.3 246.8,140.6 247.3,141.0 247.8,141.3 248.3,141.6 248.8,141.8 249.3,142.1 249.8,142.3 250.3,142.6 250.8,142.8 251.3,143.0 251.8,143.2 252.3,143.4 252.8,143.5 253.3,143.7 253.8,143.8 254.3,143.9 254.8,144.0 255.3,144.2 255.8,144.3 256.3,144.3 256.8,144.4 257.3,144.5 257.8,144.6 258.3,144.7 258.8,144.7 259.3,144.8 259.8,144.8 260.3,144.9 260.8,144.9 261.3,145.0 261.8,145.0 262.3,145.1 262.8,145.1 263.3,145.2 263.8,145.2 264.3,145.2 264.8,145.3 265.3,145.3 265.8,145.3 266.3,145.4 266.8,145.4 267.3,145.4 267.8,145.5 268.3,145.5 268.8,145.5 269.3,145.5 269.8,145.6" fill="none" stroke="#a08478" stroke-width="1.3"/>
<path d="M143.4,119.6V117.0M144.6,120.1V116.4M145.8,119.0V117.2M147.0,119.3V113.4M148.2,118.6V114.8M149.4,118.9V115.3M150.6,117.8V114.5M151.8,117.8V115.5M153.0,117.1V115.0M154.2,116.8V114.7M155.4,118.0V113.7M156.6,116.3V114.3M157.8,117.2V111.7M159.0,116.1V113.3M160.2,115.6V113.3M161.4,116.5V113.8M162.6,115.6V112.7M163.8,116.8V112.2M165.0,116.0V113.3M166.2,117.0V114.3M167.4,116.7V113.3M168.6,117.2V115.1M195.0,129.2V125.2M196.2,129.6V126.0M197.4,129.3V124.5M198.6,130.5V125.9M199.8,128.6V126.3M201.0,128.4V123.1M202.2,128.2V126.3M203.4,128.3V126.1M204.6,127.9V124.5M205.8,127.6V125.1M207.0,127.4V124.8M208.2,126.8V122.7M209.4,126.3V124.2M210.6,126.3V121.9M211.8,125.8V122.8M213.0,125.7V123.2M214.2,126.6V123.3M257.4,145.7V138.7M258.6,143.3V139.5M259.8,143.5V140.6M261.0,143.9V141.3M262.2,144.2V140.0M263.4,144.5V139.9M264.6,144.0V140.0M265.8,144.7V141.0M267.0,145.7V142.4M268.2,145.7V142.2M269.4,146.1V142.0" fill="none" stroke="#7c7c7c" stroke-width="1.1"/>
<path d="M164.8,198.49 165.3,198.45 165.8,198.39 166.3,198.30 166.8,198.18 167.3,198.02 167.8,197.81 168.3,197.55 168.8,197.23 169.3,196.83 169.8,196.37 170.3,195.83 170.8,195.21 171.3,194.52 171.8,193.75 172.3,192.93 172.8,192.05 173.3,191.14 173.8,190.22 174.3,189.30 174.8,188.41 175.3,187.59 175.8,186.85 176.3,186.23 176.8,185.76 177.3,185.45 177.8,185.33 178.3,185.41 178.8,185.78 179.3,186.53 179.8,187.58 180.3,188.87 180.8,190.30 181.3,191.79 181.8,193.24 182.3,194.60 182.8,195.81 183.3,196.84 183.8,197.69 184.3,198.35 184.8,198.87 185.3,199.27 185.8,199.60 186.3,199.91 186.8,200.24 187.3,200.61 187.8,201.05 188.3,201.55 188.8,202.10 189.3,202.69 189.8,203.30 190.3,203.89 190.8,204.45 191.3,204.96 191.8,205.41 192.3,205.78 192.8,206.09 193.3,206.32 193.8,206.50M213.3,204.36 213.8,204.32 214.3,204.28 214.8,204.25 215.3,204.23 215.8,204.21 216.3,204.20 216.8,204.19 217.3,204.19 217.8,204.19 218.3,204.20 218.8,204.21 219.3,204.22 219.8,204.24 220.3,204.26 220.8,204.27 221.3,204.29 221.8,204.29 222.3,204.29 222.8,204.28 223.3,204.25 223.8,204.20 224.3,204.12 224.8,204.00 225.3,203.84 225.8,203.63 226.3,203.35 226.8,202.99 227.3,202.54 227.8,201.98 228.3,201.31M238.3,171.04 238.8,171.81 239.3,173.59 239.8,176.18 240.3,179.32 240.8,182.75 241.3,186.22 241.8,189.55 242.3,192.58 242.8,195.22 243.3,197.43 243.8,199.21 244.3,200.60 244.8,201.68 245.3,202.53 245.8,203.26 246.3,203.96 246.8,204.71 247.3,205.58 247.8,206.59 248.3,207.74 248.8,209.01 249.3,210.38 249.8,211.77 250.3,213.14 250.8,214.45 251.3,215.66 251.8,216.73 252.3,217.66 252.8,218.45 253.3,219.10 253.8,219.63 254.3,220.06 254.8,220.40 255.3,220.67 255.8,220.89" fill="none" stroke="#e8141b" stroke-width="2.0" stroke-linejoin="round"/>
<path d="M142.8,200.6 143.3,200.5 143.8,200.5 144.3,200.5 144.8,200.4 145.3,200.4 145.8,200.4 146.3,200.3 146.8,200.3 147.3,200.2 147.8,200.2 148.3,200.1 148.8,200.1 149.3,200.0 149.8,200.0 150.3,199.9 150.8,199.8 151.3,199.8 151.8,199.7 152.3,199.6 152.8,199.5 153.3,199.5 153.8,199.4 154.3,199.3 154.8,199.3 155.3,199.2 155.8,199.2 156.3,199.1 156.8,199.1 157.3,199.0 157.8,199.0 158.3,199.0 158.8,198.9 159.3,198.9 159.8,198.9 160.3,198.9 160.8,198.9 161.3,198.9 161.8,198.9 162.3,199.0 162.8,199.0 163.3,199.0 163.8,199.1 164.3,199.2 164.8,199.2 165.3,199.3 165.8,199.4 166.3,199.5 166.8,199.6 167.3,199.7 167.8,199.8 168.3,199.9 168.8,200.1 169.3,200.2 169.8,200.3 170.3,200.5 170.8,200.6 171.3,200.8 171.8,200.9 172.3,201.1 172.8,201.3 173.3,201.4 173.8,201.6 174.3,201.8 174.8,202.0 175.3,202.2 175.8,202.4 176.3,202.6 176.8,202.8 177.3,203.0 177.8,203.2 178.3,203.4 178.8,203.6 179.3,203.9 179.8,204.1 180.3,204.3 180.8,204.5 181.3,204.7 181.8,204.9 182.3,205.1 182.8,205.3 L182.8,205.6 182.3,205.4 181.8,205.2 181.3,205.1 180.8,204.9 180.3,204.7 179.8,204.5 179.3,204.4 178.8,204.2 178.3,204.0 177.8,203.9 177.3,203.7 176.8,203.6 176.3,203.5 175.8,203.3 175.3,203.2 174.8,203.1 174.3,203.0 173.8,202.9 173.3,202.8 172.8,202.7 172.3,202.6 171.8,202.5 171.3,202.5 170.8,202.4 170.3,202.4 169.8,202.3 169.3,202.2 168.8,202.2 168.3,202.2 167.8,202.1 167.3,202.1 166.8,202.0 166.3,202.0 165.8,202.0 165.3,201.9 164.8,201.9 164.3,201.9 163.8,201.8 163.3,201.8 162.8,201.8 162.3,201.8 161.8,201.7 161.3,201.7 160.8,201.7 160.3,201.7 159.8,201.6 159.3,201.6 158.8,201.6 158.3,201.6 157.8,201.5 157.3,201.5 156.8,201.5 156.3,201.5 155.8,201.5 155.3,201.4 154.8,201.4 154.3,201.4 153.8,201.4 153.3,201.4 152.8,201.3 152.3,201.3 151.8,201.3 151.3,201.3 150.8,201.3 150.3,201.2 149.8,201.2 149.3,201.2 148.8,201.2 148.3,201.2 147.8,201.1 147.3,201.1 146.8,201.1 146.3,201.1 145.8,201.1 145.3,201.0 144.8,201.0 144.3,201.0 143.8,201.0 143.3,201.0 142.8,200.9 Z" fill="url(#gy3)" stroke="#f2aa00" stroke-width="0.9"/>
<path d="M190.3,207.1 190.8,207.2 191.3,207.2 191.8,207.2 192.3,207.3 192.8,207.3 193.3,207.3 193.8,207.3 194.3,207.3 194.8,207.3 195.3,207.2 195.8,207.2 196.3,207.2 196.8,207.2 197.3,207.1 197.8,207.1 198.3,207.0 198.8,207.0 199.3,206.9 199.8,206.9 200.3,206.8 200.8,206.8 201.3,206.7 201.8,206.6 202.3,206.5 202.8,206.5 203.3,206.4 203.8,206.3 204.3,206.2 204.8,206.1 205.3,206.1 205.8,206.0 206.3,205.9 206.8,205.8 207.3,205.7 207.8,205.6 208.3,205.6 208.8,205.5 209.3,205.4 209.8,205.4 210.3,205.3 210.8,205.3 211.3,205.2 211.8,205.2 212.3,205.1 212.8,205.1 213.3,205.1 213.8,205.1 214.3,205.0 214.8,205.0 215.3,205.1 215.8,205.1 216.3,205.1 216.8,205.1 217.3,205.2 217.8,205.2 218.3,205.3 218.8,205.3 219.3,205.4 219.8,205.5 220.3,205.6 220.8,205.6 221.3,205.7 221.8,205.8 222.3,206.0 222.8,206.1 223.3,206.2 223.8,206.3 224.3,206.4 224.8,206.6 225.3,206.7 225.8,206.9 226.3,207.0 226.8,207.1 227.3,207.3 227.8,207.4 228.3,207.6 228.8,207.8 229.3,207.9 229.8,208.1 230.3,208.2 230.8,208.4 231.3,208.6 231.8,208.8 232.3,208.9 232.8,209.1 233.3,209.3 233.8,209.5 234.3,209.7 234.8,209.9 235.3,210.1 235.8,210.4 236.3,210.6 236.8,210.9 237.3,211.1 237.8,211.4 238.3,211.7 238.8,212.0 239.3,212.3 239.8,212.6 240.3,213.0 240.8,213.3 241.3,213.7 241.8,214.1 L241.8,214.3 241.3,214.0 240.8,213.6 240.3,213.3 239.8,213.0 239.3,212.7 238.8,212.4 238.3,212.2 237.8,211.9 237.3,211.7 236.8,211.5 236.3,211.3 235.8,211.1 235.3,211.0 234.8,210.8 234.3,210.7 233.8,210.5 233.3,210.4 232.8,210.3 232.3,210.2 231.8,210.1 231.3,210.0 230.8,209.9 230.3,209.9 229.8,209.8 229.3,209.7 228.8,209.7 228.3,209.6 227.8,209.6 227.3,209.5 226.8,209.5 226.3,209.4 225.8,209.4 225.3,209.4 224.8,209.3 224.3,209.3 223.8,209.3 223.3,209.2 222.8,209.2 222.3,209.2 221.8,209.2 221.3,209.1 220.8,209.1 220.3,209.1 219.8,209.0 219.3,209.0 218.8,209.0 218.3,209.0 217.8,209.0 217.3,208.9 216.8,208.9 216.3,208.9 215.8,208.9 215.3,208.8 214.8,208.8 214.3,208.8 213.8,208.8 213.3,208.8 212.8,208.7 212.3,208.7 211.8,208.7 211.3,208.7 210.8,208.7 210.3,208.6 209.8,208.6 209.3,208.6 208.8,208.6 208.3,208.5 207.8,208.5 207.3,208.5 206.8,208.5 206.3,208.5 205.8,208.4 205.3,208.4 204.8,208.4 204.3,208.4 203.8,208.4 203.3,208.3 202.8,208.3 202.3,208.3 201.8,208.3 201.3,208.2 200.8,208.2 200.3,208.2 199.8,208.2 199.3,208.1 198.8,208.1 198.3,208.1 197.8,208.1 197.3,208.0 196.8,208.0 196.3,208.0 195.8,207.9 195.3,207.9 194.8,207.9 194.3,207.8 193.8,207.8 193.3,207.7 192.8,207.7 192.3,207.6 191.8,207.6 191.3,207.5 190.8,207.5 190.3,207.4 Z" fill="url(#gy3)" stroke="#f2aa00" stroke-width="0.9"/>
<path d="M160.3,201.4 160.8,201.4 161.3,201.4 161.8,201.4 162.3,201.4 162.8,201.4 163.3,201.4 163.8,201.3 164.3,201.3 164.8,201.2 165.3,201.1 165.8,201.0 166.3,200.9 166.8,200.7 167.3,200.5 167.8,200.2 168.3,199.9 168.8,199.5 169.3,199.0 169.8,198.4 170.3,197.8 170.8,197.1 171.3,196.3 171.8,195.5 172.3,194.6 172.8,193.6 173.3,192.6 173.8,191.6 174.3,190.6 174.8,189.6 175.3,188.7 175.8,187.9 176.3,187.2 176.8,186.7 177.3,186.3 177.8,186.2 178.3,186.2 178.8,186.6 179.3,187.4 179.8,188.5 180.3,189.9 180.8,191.4 181.3,193.1 181.8,194.8 182.3,196.5 182.8,198.1 183.3,199.6 183.8,200.9 184.3,202.1 184.8,203.1 185.3,203.9 185.8,204.6 186.3,205.1 186.8,205.6 187.3,206.0 187.8,206.3 188.3,206.5 188.8,206.7 189.3,206.8 189.8,207.0 190.3,207.1 190.8,207.2 191.3,207.3 L191.3,207.5 190.8,207.5 190.3,207.4 189.8,207.3 189.3,207.2 188.8,207.1 188.3,207.1 187.8,207.0 187.3,206.9 186.8,206.7 186.3,206.6 185.8,206.5 185.3,206.4 184.8,206.2 184.3,206.1 183.8,205.9 183.3,205.8 182.8,205.6 182.3,205.4 181.8,205.2 181.3,205.1 180.8,204.9 180.3,204.7 179.8,204.5 179.3,204.4 178.8,204.2 178.3,204.0 177.8,203.9 177.3,203.7 176.8,203.6 176.3,203.5 175.8,203.3 175.3,203.2 174.8,203.1 174.3,203.0 173.8,202.9 173.3,202.8 172.8,202.7 172.3,202.6 171.8,202.5 171.3,202.5 170.8,202.4 170.3,202.4 169.8,202.3 169.3,202.2 168.8,202.2 168.3,202.2 167.8,202.1 167.3,202.1 166.8,202.0 166.3,202.0 165.8,202.0 165.3,201.9 164.8,201.9 164.3,201.9 163.8,201.8 163.3,201.8 162.8,201.8 162.3,201.8 161.8,201.7 161.3,201.7 160.8,201.7 160.3,201.7 Z" fill="url(#gb)" stroke="#1a5aa8" stroke-width="0.9"/>
<path d="M196.3,207.7 196.8,207.7 197.3,207.8 197.8,207.8 198.3,207.8 198.8,207.8 199.3,207.9 199.8,207.9 200.3,207.9 200.8,207.9 201.3,207.9 201.8,207.9 202.3,208.0 202.8,208.0 203.3,208.0 203.8,208.0 204.3,208.0 204.8,208.0 205.3,208.0 205.8,208.0 206.3,208.0 206.8,208.1 207.3,208.1 207.8,208.1 208.3,208.1 208.8,208.1 209.3,208.1 209.8,208.1 210.3,208.1 210.8,208.1 211.3,208.1 211.8,208.1 212.3,208.1 212.8,208.1 213.3,208.1 213.8,208.1 214.3,208.1 214.8,208.1 215.3,208.1 215.8,208.0 216.3,208.0 216.8,208.0 217.3,208.0 217.8,208.0 218.3,207.9 218.8,207.9 219.3,207.9 219.8,207.8 220.3,207.8 220.8,207.8 221.3,207.7 221.8,207.6 222.3,207.5 222.8,207.4 223.3,207.3 223.8,207.2 224.3,207.0 224.8,206.8 225.3,206.5 225.8,206.2 226.3,205.8 226.8,205.4 227.3,204.8 227.8,204.1 228.3,203.4 228.8,202.4 229.3,201.4 229.8,200.2 230.3,198.8 230.8,197.3 231.3,195.6 231.8,193.7 232.3,191.7 232.8,189.6 233.3,187.4 233.8,185.1 234.3,182.8 234.8,180.5 235.3,178.4 235.8,176.4 236.3,174.6 236.8,173.2 237.3,172.2 237.8,171.7 238.3,171.7 238.8,172.5 239.3,174.4 239.8,177.1 240.3,180.5 240.8,184.2 241.3,188.2 241.8,192.0 242.3,195.7 242.8,199.2 243.3,202.3 243.8,205.0 244.3,207.4 244.8,209.5 245.3,211.2 245.8,212.6 246.3,213.8 246.8,214.8 247.3,215.6 247.8,216.3 248.3,216.9 248.8,217.4 249.3,217.9 249.8,218.3 250.3,218.6 250.8,219.0 251.3,219.3 251.8,219.5 252.3,219.8 252.8,220.0 253.3,220.2 253.8,220.4 254.3,220.6 254.8,220.8 255.3,220.9 255.8,221.0 256.3,221.2 256.8,221.3 257.3,221.4 257.8,221.5 258.3,221.6 258.8,221.7 259.3,221.7 259.8,221.8 260.3,221.9 260.8,221.9 261.3,222.0 261.8,222.1 262.3,222.1 262.8,222.2 263.3,222.2 263.8,222.3 264.3,222.3 264.8,222.3 265.3,222.4 265.8,222.4 266.3,222.5 266.8,222.5 L266.8,222.7 266.3,222.7 265.8,222.7 265.3,222.7 264.8,222.6 264.3,222.6 263.8,222.6 263.3,222.5 262.8,222.5 262.3,222.5 261.8,222.4 261.3,222.4 260.8,222.3 260.3,222.3 259.8,222.2 259.3,222.2 258.8,222.1 258.3,222.1 257.8,222.0 257.3,221.9 256.8,221.9 256.3,221.8 255.8,221.7 255.3,221.6 254.8,221.5 254.3,221.3 253.8,221.2 253.3,221.1 252.8,220.9 252.3,220.8 251.8,220.6 251.3,220.4 250.8,220.2 250.3,220.0 249.8,219.7 249.3,219.5 248.8,219.2 248.3,218.9 247.8,218.6 247.3,218.3 246.8,218.0 246.3,217.6 245.8,217.3 245.3,216.9 244.8,216.5 244.3,216.2 243.8,215.8 243.3,215.4 242.8,215.0 242.3,214.7 241.8,214.3 241.3,214.0 240.8,213.6 240.3,213.3 239.8,213.0 239.3,212.7 238.8,212.4 238.3,212.2 237.8,211.9 237.3,211.7 236.8,211.5 236.3,211.3 235.8,211.1 235.3,211.0 234.8,210.8 234.3,210.7 233.8,210.5 233.3,210.4 232.8,210.3 232.3,210.2 231.8,210.1 231.3,210.0 230.8,209.9 230.3,209.9 229.8,209.8 229.3,209.7 228.8,209.7 228.3,209.6 227.8,209.6 227.3,209.5 226.8,209.5 226.3,209.4 225.8,209.4 225.3,209.4 224.8,209.3 224.3,209.3 223.8,209.3 223.3,209.2 222.8,209.2 222.3,209.2 221.8,209.2 221.3,209.1 220.8,209.1 220.3,209.1 219.8,209.0 219.3,209.0 218.8,209.0 218.3,209.0 217.8,209.0 217.3,208.9 216.8,208.9 216.3,208.9 215.8,208.9 215.3,208.8 214.8,208.8 214.3,208.8 213.8,208.8 213.3,208.8 212.8,208.7 212.3,208.7 211.8,208.7 211.3,208.7 210.8,208.7 210.3,208.6 209.8,208.6 209.3,208.6 208.8,208.6 208.3,208.5 207.8,208.5 207.3,208.5 206.8,208.5 206.3,208.5 205.8,208.4 205.3,208.4 204.8,208.4 204.3,208.4 203.8,208.4 203.3,208.3 202.8,208.3 202.3,208.3 201.8,208.3 201.3,208.2 200.8,208.2 200.3,208.2 199.8,208.2 199.3,208.1 198.8,208.1 198.3,208.1 197.8,208.1 197.3,208.0 196.8,208.0 196.3,208.0 Z" fill="url(#gb)" stroke="#1a5aa8" stroke-width="0.9"/>
<path d="M179.3,204.2 179.8,204.3 180.3,204.3 180.8,204.3 181.3,204.2 181.8,204.1 182.3,203.9 182.8,203.7 183.3,203.4 183.8,203.1 184.3,202.7 184.8,202.4 185.3,202.1 185.8,201.9 186.3,201.8 186.8,201.8 187.3,201.9 187.8,202.1 188.3,202.5 188.8,203.0 189.3,203.5 189.8,204.1 190.3,204.7 190.8,205.2 191.3,205.7 191.8,206.2 192.3,206.6 192.8,206.9 193.3,207.2 193.8,207.4 194.3,207.6 194.8,207.7 L194.8,207.9 194.3,207.8 193.8,207.8 193.3,207.7 192.8,207.7 192.3,207.6 191.8,207.6 191.3,207.5 190.8,207.5 190.3,207.4 189.8,207.3 189.3,207.2 188.8,207.1 188.3,207.1 187.8,207.0 187.3,206.9 186.8,206.7 186.3,206.6 185.8,206.5 185.3,206.4 184.8,206.2 184.3,206.1 183.8,205.9 183.3,205.8 182.8,205.6 182.3,205.4 181.8,205.2 181.3,205.1 180.8,204.9 180.3,204.7 179.8,204.5 179.3,204.4 Z" fill="url(#gp)"/>
<path d="M238.8,212.2 239.3,212.4 239.8,212.5 240.3,212.5 240.8,212.5 241.3,212.3 241.8,212.1 242.3,211.7 242.8,211.3 243.3,210.7 243.8,210.1 244.3,209.5 244.8,208.9 245.3,208.4 245.8,208.0 246.3,207.9 246.8,208.0 247.3,208.3 247.8,209.0 248.3,209.8 248.8,210.8 249.3,212.0 249.8,213.3 250.3,214.5 250.8,215.7 251.3,216.8 251.8,217.8 252.3,218.7 252.8,219.4 253.3,220.0 253.8,220.5 254.3,220.8 254.8,221.1 255.3,221.4 L255.3,221.6 254.8,221.5 254.3,221.3 253.8,221.2 253.3,221.1 252.8,220.9 252.3,220.8 251.8,220.6 251.3,220.4 250.8,220.2 250.3,220.0 249.8,219.7 249.3,219.5 248.8,219.2 248.3,218.9 247.8,218.6 247.3,218.3 246.8,218.0 246.3,217.6 245.8,217.3 245.3,216.9 244.8,216.5 244.3,216.2 243.8,215.8 243.3,215.4 242.8,215.0 242.3,214.7 241.8,214.3 241.3,214.0 240.8,213.6 240.3,213.3 239.8,213.0 239.3,212.7 238.8,212.4 Z" fill="url(#gp)"/>
<path d="M142.8,200.9 143.3,201.0 143.8,201.0 144.3,201.0 144.8,201.0 145.3,201.0 145.8,201.1 146.3,201.1 146.8,201.1 147.3,201.1 147.8,201.1 148.3,201.2 148.8,201.2 149.3,201.2 149.8,201.2 150.3,201.2 150.8,201.3 151.3,201.3 151.8,201.3 152.3,201.3 152.8,201.3 153.3,201.4 153.8,201.4 154.3,201.4 154.8,201.4 155.3,201.4 155.8,201.5 156.3,201.5 156.8,201.5 157.3,201.5 157.8,201.5 158.3,201.6 158.8,201.6 159.3,201.6 159.8,201.6 160.3,201.7 160.8,201.7 161.3,201.7 161.8,201.7 162.3,201.8 162.8,201.8 163.3,201.8 163.8,201.8 164.3,201.9 164.8,201.9 165.3,201.9 165.8,202.0 166.3,202.0 166.8,202.0 167.3,202.1 167.8,202.1 168.3,202.2 168.8,202.2 169.3,202.2 169.8,202.3 170.3,202.4 170.8,202.4 171.3,202.5 171.8,202.5 172.3,202.6 172.8,202.7 173.3,202.8 173.8,202.9 174.3,203.0 174.8,203.1 175.3,203.2 175.8,203.3 176.3,203.5 176.8,203.6 177.3,203.7 177.8,203.9 178.3,204.0 178.8,204.2 179.3,204.4 179.8,204.5 180.3,204.7 180.8,204.9 181.3,205.1 181.8,205.2 182.3,205.4 182.8,205.6 183.3,205.8 183.8,205.9 184.3,206.1 184.8,206.2 185.3,206.4 185.8,206.5 186.3,206.6 186.8,206.7 187.3,206.9 187.8,207.0 188.3,207.1 188.8,207.1 189.3,207.2 189.8,207.3 190.3,207.4 190.8,207.5 191.3,207.5 191.8,207.6 192.3,207.6 192.8,207.7 193.3,207.7 193.8,207.8 194.3,207.8 194.8,207.9 195.3,207.9 195.8,207.9 196.3,208.0 196.8,208.0 197.3,208.0 197.8,208.1 198.3,208.1 198.8,208.1 199.3,208.1 199.8,208.2 200.3,208.2 200.8,208.2 201.3,208.2 201.8,208.3 202.3,208.3 202.8,208.3 203.3,208.3 203.8,208.4 204.3,208.4 204.8,208.4 205.3,208.4 205.8,208.4 206.3,208.5 206.8,208.5 207.3,208.5 207.8,208.5 208.3,208.5 208.8,208.6 209.3,208.6 209.8,208.6 210.3,208.6 210.8,208.7 211.3,208.7 211.8,208.7 212.3,208.7 212.8,208.7 213.3,208.8 213.8,208.8 214.3,208.8 214.8,208.8 215.3,208.8 215.8,208.9 216.3,208.9 216.8,208.9 217.3,208.9 217.8,209.0 218.3,209.0 218.8,209.0 219.3,209.0 219.8,209.0 220.3,209.1 220.8,209.1 221.3,209.1 221.8,209.2 222.3,209.2 222.8,209.2 223.3,209.2 223.8,209.3 224.3,209.3 224.8,209.3 225.3,209.4 225.8,209.4 226.3,209.4 226.8,209.5 227.3,209.5 227.8,209.6 228.3,209.6 228.8,209.7 229.3,209.7 229.8,209.8 230.3,209.9 230.8,209.9 231.3,210.0 231.8,210.1 232.3,210.2 232.8,210.3 233.3,210.4 233.8,210.5 234.3,210.7 234.8,210.8 235.3,211.0 235.8,211.1 236.3,211.3 236.8,211.5 237.3,211.7 237.8,211.9 238.3,212.2 238.8,212.4 239.3,212.7 239.8,213.0 240.3,213.3 240.8,213.6 241.3,214.0 241.8,214.3 242.3,214.7 242.8,215.0 243.3,215.4 243.8,215.8 244.3,216.2 244.8,216.5 245.3,216.9 245.8,217.3 246.3,217.6 246.8,218.0 247.3,218.3 247.8,218.6 248.3,218.9 248.8,219.2 249.3,219.5 249.8,219.7 250.3,220.0 250.8,220.2 251.3,220.4 251.8,220.6 252.3,220.8 252.8,220.9 253.3,221.1 253.8,221.2 254.3,221.3 254.8,221.5 255.3,221.6 255.8,221.7 256.3,221.8 256.8,221.9 257.3,221.9 257.8,222.0 258.3,222.1 258.8,222.1 259.3,222.2 259.8,222.2 260.3,222.3 260.8,222.3 261.3,222.4 261.8,222.4 262.3,222.5 262.8,222.5 263.3,222.5 263.8,222.6 264.3,222.6 264.8,222.6 265.3,222.7 265.8,222.7 266.3,222.7 266.8,222.7 267.3,222.8 267.8,222.8 268.3,222.8 268.8,222.8 269.3,222.9 269.8,222.9" fill="none" stroke="#a08478" stroke-width="1.3"/>
<path d="M143.4,200.0V195.0M144.6,199.5V194.2M145.8,199.5V197.6M147.0,199.6V194.8M148.2,199.2V197.1M149.4,198.9V196.8M150.6,199.0V196.4M151.8,199.4V193.5M153.0,198.6V195.7M154.2,199.4V196.1M155.4,198.8V195.9M156.6,198.5V193.7M157.8,199.1V194.2M159.0,197.7V195.9M160.2,197.7V195.7M161.4,199.0V195.4M162.6,199.0V195.7M163.8,197.6V195.0M165.0,198.4V195.6M193.8,206.5V203.1M195.0,206.0V203.6M196.2,207.7V204.1M197.4,206.1V203.6M198.6,205.8V203.9M199.8,206.3V203.6M201.0,206.2V202.0M202.2,206.5V202.3M203.4,205.1V202.0M204.6,205.7V203.0M205.8,205.7V202.7M207.0,204.6V202.7M208.2,204.5V202.4M209.4,204.5V202.1M210.6,203.9V198.6M211.8,204.8V199.5M213.0,204.2V201.5M214.2,204.5V201.4M256.2,220.7V217.9M257.4,220.6V218.6M258.6,221.7V218.0M259.8,220.9V218.8M261.0,221.2V219.4M262.2,221.8V216.0M263.4,221.4V216.1M264.6,222.0V218.9M265.8,222.2V218.8M267.0,222.3V218.7M268.2,222.9V217.1M269.4,222.0V219.4" fill="none" stroke="#7c7c7c" stroke-width="1.1"/>
<path d="M280.3,58.3 280.8,58.2 281.3,58.2 281.8,58.1 282.3,58.1 282.8,58.1 283.3,58.0 283.8,57.9 284.3,57.9 284.8,57.8 285.3,57.8 285.8,57.7 286.3,57.6 286.8,57.5 287.3,57.4 287.8,57.2 288.3,57.0 288.8,56.8 289.3,56.5 289.8,56.2 290.3,55.7 290.8,55.2 291.3,54.5 291.8,53.7 292.3,52.7 292.8,51.5 293.3,50.1 293.8,48.5 294.3,46.8 294.8,44.9 295.3,42.8 295.8,40.8 296.3,38.8 296.8,36.9 297.3,35.4 297.8,34.4 298.3,34.0 298.8,34.3 299.3,35.4 299.8,37.0 300.3,39.1 300.8,41.5 301.3,44.0 301.8,46.4 302.3,48.8 302.8,51.0 303.3,53.0 303.8,54.7 304.3,56.2 304.8,57.5 305.3,58.6 305.8,59.5 306.3,60.2 306.8,60.8 307.3,61.3 307.8,61.7 308.3,62.0 308.8,62.2 309.3,62.5 309.8,62.7 310.3,62.8 310.8,63.0 311.3,63.1 311.8,63.2 312.3,63.3 312.8,63.4 313.3,63.5 313.8,63.6 314.3,63.6 314.8,63.7 315.3,63.8 315.8,63.8 316.3,63.9 316.8,63.9 317.3,64.0 317.8,64.0 318.3,64.0 318.8,64.1 319.3,64.1 319.8,64.2 320.3,64.2 320.8,64.2 321.3,64.2 321.8,64.3 322.3,64.3 322.8,64.3 323.3,64.3 323.8,64.4 324.3,64.4 324.8,64.4 325.3,64.4 325.8,64.5 326.3,64.5 L326.3,64.7 325.8,64.7 325.3,64.7 324.8,64.7 324.3,64.7 323.8,64.7 323.3,64.7 322.8,64.6 322.3,64.6 321.8,64.6 321.3,64.6 320.8,64.6 320.3,64.6 319.8,64.6 319.3,64.5 318.8,64.5 318.3,64.5 317.8,64.5 317.3,64.5 316.8,64.5 316.3,64.4 315.8,64.4 315.3,64.4 314.8,64.4 314.3,64.4 313.8,64.3 313.3,64.3 312.8,64.3 312.3,64.2 311.8,64.2 311.3,64.2 310.8,64.1 310.3,64.1 309.8,64.0 309.3,64.0 308.8,63.9 308.3,63.9 307.8,63.8 307.3,63.7 306.8,63.6 306.3,63.6 305.8,63.5 305.3,63.4 304.8,63.3 304.3,63.2 303.8,63.1 303.3,63.0 302.8,62.9 302.3,62.8 301.8,62.7 301.3,62.6 300.8,62.5 300.3,62.4 299.8,62.3 299.3,62.2 298.8,62.1 298.3,62.0 297.8,61.9 297.3,61.9 296.8,61.8 296.3,61.7 295.8,61.6 295.3,61.6 294.8,61.5 294.3,61.5 293.8,61.4 293.3,61.4 292.8,61.3 292.3,61.3 291.8,61.3 291.3,61.2 290.8,61.2 290.3,61.2 289.8,61.1 289.3,61.1 288.8,61.1 288.3,61.1 287.8,61.0 287.3,61.0 286.8,61.0 286.3,61.0 285.8,61.0 285.3,61.0 284.8,60.9 284.3,60.9 283.8,60.9 283.3,60.9 282.8,60.9 282.3,60.9 281.8,60.9 281.3,60.8 280.8,60.8 280.3,60.8 Z" fill="url(#go)" stroke="#f2a400" stroke-width="1.0"/>
<path d="M280.9,58.5V55.6M282.2,57.3V55.3M283.5,57.5V54.9M284.8,57.4V55.4M286.1,57.3V53.7M287.4,57.1V55.0M288.7,56.7V54.6M290.0,55.5V51.4M291.3,54.1V51.3M292.6,51.5V49.9M293.9,47.0V46.2M295.2,42.2V41.0M296.5,36.7V36.2M297.8,33.0V32.8M299.1,33.6V33.3M300.4,38.4V37.6M301.7,44.8V44.2M303.0,50.4V48.5M304.3,55.2V53.7M305.6,57.8V56.8M306.9,59.7V56.9M308.2,60.9V59.1M309.5,61.5V58.9M310.8,61.2V58.7M312.1,61.3V59.5M313.4,62.0V57.0M314.7,62.8V58.4M316.0,62.9V59.9M317.3,62.0V60.0M318.6,62.5V60.2M319.9,62.8V59.1M321.2,63.5V60.1M322.5,62.5V59.3M323.8,63.6V58.1M325.1,62.3V57.5M326.4,62.2V60.4M327.7,62.3V60.0M329.0,63.1V59.8M330.3,63.8V59.9M331.6,62.6V59.8M332.9,63.1V59.8M334.2,62.2V58.6M335.5,62.7V60.1M336.8,62.6V60.1M338.1,62.6V60.0M339.4,62.3V60.4M340.7,62.9V59.3M342.0,63.0V59.9M343.3,63.0V57.2M344.6,63.2V58.2M345.9,62.6V60.3M347.2,63.7V60.2M348.5,62.8V58.5M349.8,63.8V59.5M351.1,62.5V60.6M352.4,63.0V59.2M353.7,62.2V59.8M355.0,62.1V58.4M356.3,64.1V58.6M357.6,62.3V56.9M358.9,61.9V58.7M360.2,62.6V56.9M361.5,63.9V59.8M362.8,62.8V59.6M364.1,65.0V60.0M365.4,63.6V57.1M366.7,61.7V59.5M368.0,61.2V58.5M369.3,60.7V58.4M370.6,60.5V56.8M371.9,60.4V57.9M373.2,60.4V57.6M374.5,57.5V56.0M375.8,55.9V54.2M377.1,51.3V49.9M378.4,44.1V42.8M379.7,33.4V33.0M381.0,20.9V20.0M382.3,10.5V10.1M383.6,9.4V9.1M384.9,18.6V17.9M386.2,31.7V31.3M387.5,43.2V42.6M388.8,53.2V49.2M390.1,57.3V55.5M391.4,61.3V57.2M392.7,62.0V59.8M394.0,62.4V59.9M395.3,64.0V60.0M396.6,63.3V61.4M397.9,64.3V61.5M399.2,64.0V61.2M400.5,64.4V61.3M401.8,65.8V62.5M403.1,64.8V62.1M404.4,66.3V58.5M405.7,65.4V62.6" fill="none" stroke="#787878" stroke-width="1.1"/>
<path d="M280.3,58.2 280.8,58.2 281.3,58.2 281.8,58.1 282.3,58.1 282.8,58.0 283.3,58.0 283.8,57.9 284.3,57.8 284.8,57.8 285.3,57.7 285.8,57.6 286.3,57.5 286.8,57.4 287.3,57.3 287.8,57.2 288.3,57.0 288.8,56.8 289.3,56.5 289.8,56.1 290.3,55.7 290.8,55.2 291.3,54.5 291.8,53.6 292.3,52.6 292.8,51.5 293.3,50.1 293.8,48.5 294.3,46.7 294.8,44.8 295.3,42.8 295.8,40.7 296.3,38.7 296.8,36.9 297.3,35.4 297.8,34.4 298.3,34.0 298.8,34.3 299.3,35.3 299.8,37.0 300.3,39.1 300.8,41.4 301.3,43.9 301.8,46.4 302.3,48.7 302.8,50.9 303.3,52.8 303.8,54.6 304.3,56.1 304.8,57.3 305.3,58.4 305.8,59.2 306.3,59.9 306.8,60.4 307.3,60.8 307.8,61.2 308.3,61.4 308.8,61.6 309.3,61.8 309.8,61.9 310.3,62.0 310.8,62.0 311.3,62.1 311.8,62.1 312.3,62.2 312.8,62.2 313.3,62.3 313.8,62.3 314.3,62.4 314.8,62.4 315.3,62.5 315.8,62.5 316.3,62.5 316.8,62.6 317.3,62.6 317.8,62.6 318.3,62.6 318.8,62.7 319.3,62.7 319.8,62.7 320.3,62.7 320.8,62.8 321.3,62.8 321.8,62.8 322.3,62.8 322.8,62.8 323.3,62.9 323.8,62.9 324.3,62.9 324.8,62.9 325.3,62.9 325.8,62.9 326.3,62.9 326.8,62.9 327.3,62.9 327.8,63.0 328.3,63.0 328.8,63.0 329.3,63.0 329.8,63.0 330.3,63.0 330.8,63.0 331.3,63.0 331.8,63.0 332.3,63.0 332.8,63.0 333.3,63.0 333.8,63.0 334.3,63.0 334.8,63.0 335.3,63.0 335.8,63.0 336.3,63.0 336.8,63.0 337.3,63.0 337.8,63.0 338.3,63.0 338.8,63.0 339.3,63.0 339.8,63.0 340.3,63.0 340.8,63.0 341.3,63.0 341.8,63.0 342.3,63.0 342.8,63.0 343.3,63.0 343.8,63.0 344.3,63.0 344.8,63.0 345.3,63.0 345.8,63.0 346.3,63.0 346.8,63.0 347.3,63.0 347.8,63.0 348.3,63.0 348.8,63.0 349.3,63.0 349.8,63.0 350.3,63.0 350.8,63.0 351.3,63.0 351.8,63.0 352.3,63.0 352.8,63.0 353.3,63.0 353.8,62.9 354.3,62.9 354.8,62.9 355.3,62.9 355.8,62.9 356.3,62.9 356.8,62.9 357.3,62.9 357.8,62.8 358.3,62.8 358.8,62.8 359.3,62.8 359.8,62.7 360.3,62.7 360.8,62.7 361.3,62.7 361.8,62.6 362.3,62.6 362.8,62.6 363.3,62.5 363.8,62.5 364.3,62.4 364.8,62.4 365.3,62.3 365.8,62.3 366.3,62.2 366.8,62.1 367.3,62.0 367.8,61.9 368.3,61.8 368.8,61.7 369.3,61.6 369.8,61.5 370.3,61.3 370.8,61.2 371.3,61.0 371.8,60.8 372.3,60.5 372.8,60.2 373.3,59.8 373.8,59.4 374.3,58.8 374.8,58.2 375.3,57.3 375.8,56.2 376.3,54.9 376.8,53.2 377.3,51.2 377.8,48.7 378.3,45.7 378.8,42.2 379.3,38.2 379.8,33.8 380.3,29.1 380.8,24.1 381.3,19.4 381.8,15.1 382.3,11.8 382.8,9.9 383.3,9.7 383.8,11.3 384.3,14.5 384.8,18.8 385.3,23.8 385.8,28.9 386.3,34.0 386.8,38.7 387.3,42.9 387.8,46.7 388.3,49.9 388.8,52.7 389.3,54.9 389.8,56.7 390.3,58.2 390.8,59.4 391.3,60.3 391.8,61.0 392.3,61.6 392.8,62.1 393.3,62.5 393.8,62.9 394.3,63.1 394.8,63.4 395.3,63.6 395.8,63.8 396.3,64.0 396.8,64.1 397.3,64.3 397.8,64.4 398.3,64.5 398.8,64.6 399.3,64.7 399.8,64.8 400.3,64.9 400.8,65.0 401.3,65.0 401.8,65.1 402.3,65.2 402.8,65.2 403.3,65.3 403.8,65.3 404.3,65.4 404.8,65.4 405.3,65.5 405.8,65.5 406.3,65.6 406.8,65.6" fill="none" stroke="#e3262e" stroke-width="1.7" stroke-linejoin="round"/>
<path d="M305.3,63.2 305.8,63.2 306.3,63.3 306.8,63.3 307.3,63.3 307.8,63.3 308.3,63.3 308.8,63.3 309.3,63.3 309.8,63.2 310.3,63.2 310.8,63.2 311.3,63.2 311.8,63.1 312.3,63.1 312.8,63.1 313.3,63.1 313.8,63.1 314.3,63.1 314.8,63.1 315.3,63.1 315.8,63.1 316.3,63.1 316.8,63.1 317.3,63.1 317.8,63.1 318.3,63.1 318.8,63.1 319.3,63.1 319.8,63.1 320.3,63.1 320.8,63.1 321.3,63.1 321.8,63.1 322.3,63.1 322.8,63.2 323.3,63.2 323.8,63.2 324.3,63.2 324.8,63.2 325.3,63.2 325.8,63.2 326.3,63.2 326.8,63.2 327.3,63.2 327.8,63.2 328.3,63.2 328.8,63.2 329.3,63.2 329.8,63.2 330.3,63.2 330.8,63.2 331.3,63.2 331.8,63.2 332.3,63.2 332.8,63.2 333.3,63.2 333.8,63.2 334.3,63.2 334.8,63.2 335.3,63.2 335.8,63.2 336.3,63.2 336.8,63.2 337.3,63.2 337.8,63.2 338.3,63.2 338.8,63.2 339.3,63.2 339.8,63.2 340.3,63.2 340.8,63.2 341.3,63.2 341.8,63.2 342.3,63.1 342.8,63.1 343.3,63.1 343.8,63.1 344.3,63.1 344.8,63.1 345.3,63.1 345.8,63.1 346.3,63.1 346.8,63.1 347.3,63.1 347.8,63.1 348.3,63.1 348.8,63.1 349.3,63.1 349.8,63.1 350.3,63.1 350.8,63.1 351.3,63.1 351.8,63.0 352.3,63.0 352.8,63.0 353.3,63.0 353.8,63.0 354.3,63.0 354.8,63.0 355.3,63.0 355.8,63.0 356.3,62.9 356.8,62.9 357.3,62.9 357.8,62.9 358.3,62.9 358.8,62.8 359.3,62.8 359.8,62.8 360.3,62.8 360.8,62.7 361.3,62.7 361.8,62.7 362.3,62.6 362.8,62.6 363.3,62.6 363.8,62.5 364.3,62.5 364.8,62.4 365.3,62.4 365.8,62.3 366.3,62.2 366.8,62.2 367.3,62.1 367.8,62.0 368.3,61.9 368.8,61.8 369.3,61.7 369.8,61.5 370.3,61.4 370.8,61.2 371.3,61.0 371.8,60.8 372.3,60.5 372.8,60.2 373.3,59.9 373.8,59.4 374.3,58.9 374.8,58.2 375.3,57.3 375.8,56.3 376.3,54.9 376.8,53.3 377.3,51.2 377.8,48.7 378.3,45.7 378.8,42.2 379.3,38.2 379.8,33.8 380.3,29.1 380.8,24.2 381.3,19.4 381.8,15.1 382.3,11.8 382.8,9.9 383.3,9.7 383.8,11.4 384.3,14.6 384.8,18.9 385.3,23.8 385.8,28.9 386.3,34.0 386.8,38.7 387.3,43.0 387.8,46.7 388.3,50.0 388.8,52.7 389.3,54.9 389.8,56.8 390.3,58.2 390.8,59.4 391.3,60.3 391.8,61.1 392.3,61.7 392.8,62.1 393.3,62.5 393.8,62.9 394.3,63.2 394.8,63.4 395.3,63.6 395.8,63.8 396.3,64.0 396.8,64.1 397.3,64.3 397.8,64.4 398.3,64.5 398.8,64.6 399.3,64.7 399.8,64.8 400.3,64.9 400.8,65.0 401.3,65.1 401.8,65.1 402.3,65.2 402.8,65.3 403.3,65.3 403.8,65.4 404.3,65.4 404.8,65.5 405.3,65.5 405.8,65.6 406.3,65.6 406.8,65.6 L406.8,66.3 406.3,66.3 405.8,66.3 405.3,66.3 404.8,66.3 404.3,66.3 403.8,66.3 403.3,66.3 402.8,66.3 402.3,66.2 401.8,66.2 401.3,66.2 400.8,66.2 400.3,66.2 399.8,66.2 399.3,66.2 398.8,66.2 398.3,66.2 397.8,66.2 397.3,66.1 396.8,66.1 396.3,66.1 395.8,66.1 395.3,66.1 394.8,66.1 394.3,66.1 393.8,66.1 393.3,66.1 392.8,66.1 392.3,66.0 391.8,66.0 391.3,66.0 390.8,66.0 390.3,66.0 389.8,66.0 389.3,66.0 388.8,66.0 388.3,66.0 387.8,66.0 387.3,65.9 386.8,65.9 386.3,65.9 385.8,65.9 385.3,65.9 384.8,65.9 384.3,65.9 383.8,65.9 383.3,65.9 382.8,65.9 382.3,65.8 381.8,65.8 381.3,65.8 380.8,65.8 380.3,65.8 379.8,65.8 379.3,65.8 378.8,65.8 378.3,65.8 377.8,65.8 377.3,65.7 376.8,65.7 376.3,65.7 375.8,65.7 375.3,65.7 374.8,65.7 374.3,65.7 373.8,65.7 373.3,65.7 372.8,65.7 372.3,65.6 371.8,65.6 371.3,65.6 370.8,65.6 370.3,65.6 369.8,65.6 369.3,65.6 368.8,65.6 368.3,65.6 367.8,65.6 367.3,65.5 366.8,65.5 366.3,65.5 365.8,65.5 365.3,65.5 364.8,65.5 364.3,65.5 363.8,65.5 363.3,65.5 362.8,65.5 362.3,65.4 361.8,65.4 361.3,65.4 360.8,65.4 360.3,65.4 359.8,65.4 359.3,65.4 358.8,65.4 358.3,65.4 357.8,65.4 357.3,65.3 356.8,65.3 356.3,65.3 355.8,65.3 355.3,65.3 354.8,65.3 354.3,65.3 353.8,65.3 353.3,65.3 352.8,65.3 352.3,65.2 351.8,65.2 351.3,65.2 350.8,65.2 350.3,65.2 349.8,65.2 349.3,65.2 348.8,65.2 348.3,65.2 347.8,65.2 347.3,65.1 346.8,65.1 346.3,65.1 345.8,65.1 345.3,65.1 344.8,65.1 344.3,65.1 343.8,65.1 343.3,65.1 342.8,65.1 342.3,65.0 341.8,65.0 341.3,65.0 340.8,65.0 340.3,65.0 339.8,65.0 339.3,65.0 338.8,65.0 338.3,65.0 337.8,65.0 337.3,64.9 336.8,64.9 336.3,64.9 335.8,64.9 335.3,64.9 334.8,64.9 334.3,64.9 333.8,64.9 333.3,64.9 332.8,64.9 332.3,64.8 331.8,64.8 331.3,64.8 330.8,64.8 330.3,64.8 329.8,64.8 329.3,64.8 328.8,64.8 328.3,64.8 327.8,64.8 327.3,64.7 326.8,64.7 326.3,64.7 325.8,64.7 325.3,64.7 324.8,64.7 324.3,64.7 323.8,64.7 323.3,64.7 322.8,64.6 322.3,64.6 321.8,64.6 321.3,64.6 320.8,64.6 320.3,64.6 319.8,64.6 319.3,64.5 318.8,64.5 318.3,64.5 317.8,64.5 317.3,64.5 316.8,64.5 316.3,64.4 315.8,64.4 315.3,64.4 314.8,64.4 314.3,64.4 313.8,64.3 313.3,64.3 312.8,64.3 312.3,64.2 311.8,64.2 311.3,64.2 310.8,64.1 310.3,64.1 309.8,64.0 309.3,64.0 308.8,63.9 308.3,63.9 307.8,63.8 307.3,63.7 306.8,63.6 306.3,63.6 305.8,63.5 305.3,63.4 Z" fill="url(#gb2)" stroke="#1c5aa6" stroke-width="1.2"/>
<path d="M280.3,60.8 280.8,60.8 281.3,60.8 281.8,60.9 282.3,60.9 282.8,60.9 283.3,60.9 283.8,60.9 284.3,60.9 284.8,60.9 285.3,61.0 285.8,61.0 286.3,61.0 286.8,61.0 287.3,61.0 287.8,61.0 288.3,61.1 288.8,61.1 289.3,61.1 289.8,61.1 290.3,61.2 290.8,61.2 291.3,61.2 291.8,61.3 292.3,61.3 292.8,61.3 293.3,61.4 293.8,61.4 294.3,61.5 294.8,61.5 295.3,61.6 295.8,61.6 296.3,61.7 296.8,61.8 297.3,61.9 297.8,61.9 298.3,62.0 298.8,62.1 299.3,62.2 299.8,62.3 300.3,62.4 300.8,62.5 301.3,62.6 301.8,62.7 302.3,62.8 302.8,62.9 303.3,63.0 303.8,63.1 304.3,63.2 304.8,63.3 305.3,63.4 305.8,63.5 306.3,63.6 306.8,63.6 307.3,63.7 307.8,63.8 308.3,63.9 308.8,63.9 309.3,64.0 309.8,64.0 310.3,64.1 310.8,64.1 311.3,64.2 311.8,64.2 312.3,64.2 312.8,64.3 313.3,64.3 313.8,64.3 314.3,64.4 314.8,64.4 315.3,64.4 315.8,64.4 316.3,64.4 316.8,64.5 317.3,64.5 317.8,64.5 318.3,64.5 318.8,64.5 319.3,64.5 319.8,64.6 320.3,64.6 320.8,64.6 321.3,64.6 321.8,64.6 322.3,64.6 322.8,64.6 323.3,64.7 323.8,64.7 324.3,64.7 324.8,64.7 325.3,64.7 325.8,64.7 326.3,64.7 326.8,64.7 327.3,64.7 327.8,64.8 328.3,64.8 328.8,64.8 329.3,64.8 329.8,64.8 330.3,64.8 330.8,64.8 331.3,64.8 331.8,64.8 332.3,64.8 332.8,64.9 333.3,64.9 333.8,64.9 334.3,64.9 334.8,64.9 335.3,64.9 335.8,64.9 336.3,64.9 336.8,64.9 337.3,64.9 337.8,65.0 338.3,65.0 338.8,65.0 339.3,65.0 339.8,65.0 340.3,65.0 340.8,65.0 341.3,65.0 341.8,65.0 342.3,65.0 342.8,65.1 343.3,65.1 343.8,65.1 344.3,65.1 344.8,65.1 345.3,65.1 345.8,65.1 346.3,65.1 346.8,65.1 347.3,65.1 347.8,65.2 348.3,65.2 348.8,65.2 349.3,65.2 349.8,65.2 350.3,65.2 350.8,65.2 351.3,65.2 351.8,65.2 352.3,65.2 352.8,65.3 353.3,65.3 353.8,65.3 354.3,65.3 354.8,65.3 355.3,65.3 355.8,65.3 356.3,65.3 356.8,65.3 357.3,65.3 357.8,65.4 358.3,65.4 358.8,65.4 359.3,65.4 359.8,65.4 360.3,65.4 360.8,65.4 361.3,65.4 361.8,65.4 362.3,65.4 362.8,65.5 363.3,65.5 363.8,65.5 364.3,65.5 364.8,65.5 365.3,65.5 365.8,65.5 366.3,65.5 366.8,65.5 367.3,65.5 367.8,65.6 368.3,65.6 368.8,65.6 369.3,65.6 369.8,65.6 370.3,65.6 370.8,65.6 371.3,65.6 371.8,65.6 372.3,65.6 372.8,65.7 373.3,65.7 373.8,65.7 374.3,65.7 374.8,65.7 375.3,65.7 375.8,65.7 376.3,65.7 376.8,65.7 377.3,65.7 377.8,65.8 378.3,65.8 378.8,65.8 379.3,65.8 379.8,65.8 380.3,65.8 380.8,65.8 381.3,65.8 381.8,65.8 382.3,65.8 382.8,65.9 383.3,65.9 383.8,65.9 384.3,65.9 384.8,65.9 385.3,65.9 385.8,65.9 386.3,65.9 386.8,65.9 387.3,65.9 387.8,66.0 388.3,66.0 388.8,66.0 389.3,66.0 389.8,66.0 390.3,66.0 390.8,66.0 391.3,66.0 391.8,66.0 392.3,66.0 392.8,66.1 393.3,66.1 393.8,66.1 394.3,66.1 394.8,66.1 395.3,66.1 395.8,66.1 396.3,66.1 396.8,66.1 397.3,66.1 397.8,66.2 398.3,66.2 398.8,66.2 399.3,66.2 399.8,66.2 400.3,66.2 400.8,66.2 401.3,66.2 401.8,66.2 402.3,66.2 402.8,66.3 403.3,66.3 403.8,66.3 404.3,66.3 404.8,66.3 405.3,66.3 405.8,66.3 406.3,66.3 406.8,66.3" fill="none" stroke="#a89878" stroke-width="1.2"/>
<path d="M280.3,136.2 280.8,136.1 281.3,136.1 281.8,136.1 282.3,136.0 282.8,135.9 283.3,135.9 283.8,135.8 284.3,135.8 284.8,135.7 285.3,135.6 285.8,135.5 286.3,135.4 286.8,135.3 287.3,135.1 287.8,135.0 288.3,134.7 288.8,134.5 289.3,134.1 289.8,133.7 290.3,133.2 290.8,132.6 291.3,131.8 291.8,130.8 292.3,129.7 292.8,128.3 293.3,126.8 293.8,125.1 294.3,123.1 294.8,121.0 295.3,118.8 295.8,116.6 296.3,114.5 296.8,112.6 297.3,111.0 297.8,109.9 298.3,109.5 298.8,109.8 299.3,110.9 299.8,112.6 300.3,114.8 300.8,117.3 301.3,119.9 301.8,122.5 302.3,125.0 302.8,127.4 303.3,129.5 303.8,131.4 304.3,133.1 304.8,134.5 305.3,135.7 305.8,136.7 306.3,137.6 306.8,138.2 307.3,138.8 307.8,139.2 308.3,139.6 308.8,139.9 309.3,140.2 309.8,140.4 310.3,140.6 310.8,140.7 311.3,140.9 311.8,141.0 312.3,141.1 312.8,141.2 313.3,141.3 313.8,141.4 314.3,141.4 314.8,141.5 315.3,141.6 315.8,141.6 316.3,141.7 316.8,141.7 317.3,141.8 317.8,141.8 318.3,141.9 318.8,141.9 319.3,142.0 319.8,142.0 320.3,142.0 320.8,142.1 321.3,142.1 321.8,142.1 322.3,142.2 322.8,142.2 323.3,142.2 323.8,142.2 324.3,142.3 324.8,142.3 325.3,142.3 325.8,142.3 326.3,142.3 326.8,142.4 327.3,142.4 327.8,142.4 L327.8,142.7 327.3,142.6 326.8,142.6 326.3,142.6 325.8,142.6 325.3,142.6 324.8,142.6 324.3,142.6 323.8,142.6 323.3,142.6 322.8,142.5 322.3,142.5 321.8,142.5 321.3,142.5 320.8,142.5 320.3,142.5 319.8,142.5 319.3,142.4 318.8,142.4 318.3,142.4 317.8,142.4 317.3,142.4 316.8,142.4 316.3,142.3 315.8,142.3 315.3,142.3 314.8,142.3 314.3,142.3 313.8,142.2 313.3,142.2 312.8,142.2 312.3,142.1 311.8,142.1 311.3,142.1 310.8,142.0 310.3,142.0 309.8,141.9 309.3,141.9 308.8,141.8 308.3,141.8 307.8,141.7 307.3,141.6 306.8,141.6 306.3,141.5 305.8,141.4 305.3,141.3 304.8,141.2 304.3,141.1 303.8,141.0 303.3,140.9 302.8,140.9 302.3,140.8 301.8,140.6 301.3,140.5 300.8,140.5 300.3,140.4 299.8,140.3 299.3,140.2 298.8,140.1 298.3,140.0 297.8,139.9 297.3,139.8 296.8,139.8 296.3,139.7 295.8,139.6 295.3,139.6 294.8,139.5 294.3,139.5 293.8,139.4 293.3,139.4 292.8,139.3 292.3,139.3 291.8,139.2 291.3,139.2 290.8,139.2 290.3,139.2 289.8,139.1 289.3,139.1 288.8,139.1 288.3,139.1 287.8,139.0 287.3,139.0 286.8,139.0 286.3,139.0 285.8,139.0 285.3,138.9 284.8,138.9 284.3,138.9 283.8,138.9 283.3,138.9 282.8,138.9 282.3,138.9 281.8,138.9 281.3,138.8 280.8,138.8 280.3,138.8 Z" fill="url(#go)" stroke="#f2a400" stroke-width="1.0"/>
<path d="M280.9,135.6V133.2M282.2,135.2V133.2M283.5,135.4V133.5M284.8,135.1V132.2M286.1,134.9V130.8M287.4,134.3V132.5M288.7,134.4V131.6M290.0,132.5V128.5M291.3,130.6V129.4M292.6,128.1V125.3M293.9,123.7V122.1M295.2,118.0V117.4M296.5,112.4V111.9M297.8,108.6V108.3M299.1,109.3V108.8M300.4,113.9V113.4M301.7,120.8V120.2M303.0,127.0V126.4M304.3,132.3V131.1M305.6,135.3V134.0M306.9,137.2V135.7M308.2,138.6V135.1M309.5,139.0V136.5M310.8,139.0V136.5M312.1,139.4V137.1M313.4,141.6V137.3M314.7,140.6V136.7M316.0,140.0V136.0M317.3,140.4V137.8M318.6,139.7V137.3M319.9,140.1V136.7M321.2,141.5V133.8M322.5,140.0V137.8M323.8,143.0V137.6M325.1,141.4V137.2M326.4,140.8V138.2M327.7,140.3V137.1M329.0,140.0V134.0M330.3,140.2V138.0M331.6,141.1V137.6M332.9,140.4V138.3M334.2,141.3V137.5M335.5,140.2V134.0M336.8,141.4V137.4M338.1,141.6V138.2M339.4,141.1V138.0M340.7,140.2V137.2M342.0,140.2V135.8M343.3,140.1V137.7M344.6,140.1V137.6M345.9,141.1V136.2M347.2,140.6V138.4M348.5,141.2V134.3M349.8,140.3V137.6M351.1,140.3V137.9M352.4,141.8V136.4M353.7,144.7V138.0M355.0,140.0V138.2M356.3,141.1V138.0M357.6,140.5V136.8M358.9,139.8V138.2M360.2,140.5V137.4M361.5,139.9V137.8M362.8,139.9V137.0M364.1,142.2V137.8M365.4,140.4V135.8M366.7,139.2V134.2M368.0,139.8V137.0M369.3,138.7V136.7M370.6,139.8V135.8M371.9,138.3V134.9M373.2,137.5V135.7M374.5,135.6V133.5M375.8,133.3V131.1M377.1,129.4V127.5M378.4,122.5V121.6M379.7,112.7V111.5M381.0,100.4V99.9M382.3,90.3V90.0M383.6,89.2V89.0M384.9,98.1V97.6M386.2,111.2V110.2M387.5,121.9V120.7M388.8,130.4V128.5M390.1,134.8V133.7M391.4,138.6V136.0M392.7,139.5V136.3M394.0,140.1V138.0M395.3,141.7V139.0M396.6,142.7V136.1M397.9,141.6V139.2M399.2,141.8V139.8M400.5,142.2V139.5M401.8,142.7V140.2M403.1,144.7V140.4M404.4,144.0V139.4M405.7,142.9V138.8" fill="none" stroke="#787878" stroke-width="1.1"/>
<path d="M280.3,136.2 280.8,136.1 281.3,136.1 281.8,136.0 282.3,136.0 282.8,135.9 283.3,135.9 283.8,135.8 284.3,135.7 284.8,135.6 285.3,135.6 285.8,135.5 286.3,135.4 286.8,135.2 287.3,135.1 287.8,134.9 288.3,134.7 288.8,134.4 289.3,134.1 289.8,133.7 290.3,133.2 290.8,132.5 291.3,131.7 291.8,130.8 292.3,129.6 292.8,128.3 293.3,126.8 293.8,125.0 294.3,123.1 294.8,121.0 295.3,118.8 295.8,116.6 296.3,114.4 296.8,112.5 297.3,110.9 297.8,109.9 298.3,109.4 298.8,109.8 299.3,110.8 299.8,112.6 300.3,114.7 300.8,117.2 301.3,119.8 301.8,122.4 302.3,124.9 302.8,127.3 303.3,129.4 303.8,131.3 304.3,132.9 304.8,134.3 305.3,135.5 305.8,136.5 306.3,137.3 306.8,137.9 307.3,138.4 307.8,138.8 308.3,139.0 308.8,139.3 309.3,139.4 309.8,139.6 310.3,139.7 310.8,139.8 311.3,139.8 311.8,139.9 312.3,140.0 312.8,140.0 313.3,140.1 313.8,140.1 314.3,140.2 314.8,140.2 315.3,140.3 315.8,140.3 316.3,140.4 316.8,140.4 317.3,140.4 317.8,140.5 318.3,140.5 318.8,140.5 319.3,140.5 319.8,140.6 320.3,140.6 320.8,140.6 321.3,140.6 321.8,140.7 322.3,140.7 322.8,140.7 323.3,140.7 323.8,140.7 324.3,140.7 324.8,140.8 325.3,140.8 325.8,140.8 326.3,140.8 326.8,140.8 327.3,140.8 327.8,140.8 328.3,140.8 328.8,140.8 329.3,140.9 329.8,140.9 330.3,140.9 330.8,140.9 331.3,140.9 331.8,140.9 332.3,140.9 332.8,140.9 333.3,140.9 333.8,140.9 334.3,140.9 334.8,140.9 335.3,140.9 335.8,140.9 336.3,140.9 336.8,140.9 337.3,140.9 337.8,140.9 338.3,140.9 338.8,140.9 339.3,140.9 339.8,140.9 340.3,140.9 340.8,140.9 341.3,140.9 341.8,140.9 342.3,140.9 342.8,140.9 343.3,140.9 343.8,140.9 344.3,140.9 344.8,140.9 345.3,140.9 345.8,140.9 346.3,140.9 346.8,140.9 347.3,140.9 347.8,140.9 348.3,140.9 348.8,140.9 349.3,140.9 349.8,140.9 350.3,140.9 350.8,140.9 351.3,140.9 351.8,140.9 352.3,140.9 352.8,140.9 353.3,140.9 353.8,140.9 354.3,140.8 354.8,140.8 355.3,140.8 355.8,140.8 356.3,140.8 356.8,140.8 357.3,140.8 357.8,140.7 358.3,140.7 358.8,140.7 359.3,140.7 359.8,140.7 360.3,140.6 360.8,140.6 361.3,140.6 361.8,140.6 362.3,140.5 362.8,140.5 363.3,140.5 363.8,140.4 364.3,140.4 364.8,140.3 365.3,140.3 365.8,140.2 366.3,140.1 366.8,140.1 367.3,140.0 367.8,139.9 368.3,139.8 368.8,139.7 369.3,139.6 369.8,139.5 370.3,139.3 370.8,139.1 371.3,139.0 371.8,138.7 372.3,138.5 372.8,138.2 373.3,137.9 373.8,137.4 374.3,136.9 374.8,136.3 375.3,135.4 375.8,134.4 376.3,133.1 376.8,131.5 377.3,129.5 377.8,127.1 378.3,124.2 378.8,120.9 379.3,117.1 379.8,112.8 380.3,108.2 380.8,103.5 381.3,98.9 381.8,94.8 382.3,91.6 382.8,89.7 383.3,89.6 383.8,91.2 384.3,94.3 384.8,98.4 385.3,103.2 385.8,108.1 386.3,113.0 386.8,117.5 387.3,121.7 387.8,125.3 388.3,128.4 388.8,131.0 389.3,133.2 389.8,135.0 390.3,136.4 390.8,137.5 391.3,138.4 391.8,139.1 392.3,139.7 392.8,140.2 393.3,140.5 393.8,140.9 394.3,141.1 394.8,141.4 395.3,141.6 395.8,141.8 396.3,141.9 396.8,142.1 397.3,142.2 397.8,142.3 398.3,142.5 398.8,142.6 399.3,142.7 399.8,142.7 400.3,142.8 400.8,142.9 401.3,143.0 401.8,143.0 402.3,143.1 402.8,143.2 403.3,143.2 403.8,143.3 404.3,143.3 404.8,143.4 405.3,143.4 405.8,143.5 406.3,143.5 406.8,143.5" fill="none" stroke="#e3262e" stroke-width="1.7" stroke-linejoin="round"/>
<path d="M305.3,141.1 305.8,141.1 306.3,141.2 306.8,141.2 307.3,141.2 307.8,141.2 308.3,141.2 308.8,141.2 309.3,141.2 309.8,141.1 310.3,141.1 310.8,141.1 311.3,141.1 311.8,141.0 312.3,141.0 312.8,141.0 313.3,141.0 313.8,141.0 314.3,141.0 314.8,141.0 315.3,141.0 315.8,141.0 316.3,141.0 316.8,141.0 317.3,141.0 317.8,141.0 318.3,141.0 318.8,141.0 319.3,141.0 319.8,141.0 320.3,141.0 320.8,141.0 321.3,141.0 321.8,141.0 322.3,141.1 322.8,141.1 323.3,141.1 323.8,141.1 324.3,141.1 324.8,141.1 325.3,141.1 325.8,141.1 326.3,141.1 326.8,141.1 327.3,141.1 327.8,141.1 328.3,141.1 328.8,141.1 329.3,141.1 329.8,141.1 330.3,141.1 330.8,141.1 331.3,141.1 331.8,141.1 332.3,141.1 332.8,141.1 333.3,141.1 333.8,141.1 334.3,141.1 334.8,141.1 335.3,141.1 335.8,141.1 336.3,141.1 336.8,141.1 337.3,141.1 337.8,141.1 338.3,141.1 338.8,141.1 339.3,141.1 339.8,141.1 340.3,141.1 340.8,141.1 341.3,141.1 341.8,141.1 342.3,141.1 342.8,141.1 343.3,141.1 343.8,141.0 344.3,141.0 344.8,141.0 345.3,141.0 345.8,141.0 346.3,141.0 346.8,141.0 347.3,141.0 347.8,141.0 348.3,141.0 348.8,141.0 349.3,141.0 349.8,141.0 350.3,141.0 350.8,141.0 351.3,141.0 351.8,141.0 352.3,141.0 352.8,140.9 353.3,140.9 353.8,140.9 354.3,140.9 354.8,140.9 355.3,140.9 355.8,140.9 356.3,140.9 356.8,140.8 357.3,140.8 357.8,140.8 358.3,140.8 358.8,140.8 359.3,140.7 359.8,140.7 360.3,140.7 360.8,140.7 361.3,140.6 361.8,140.6 362.3,140.6 362.8,140.5 363.3,140.5 363.8,140.5 364.3,140.4 364.8,140.4 365.3,140.3 365.8,140.2 366.3,140.2 366.8,140.1 367.3,140.0 367.8,139.9 368.3,139.9 368.8,139.7 369.3,139.6 369.8,139.5 370.3,139.4 370.8,139.2 371.3,139.0 371.8,138.8 372.3,138.5 372.8,138.2 373.3,137.9 373.8,137.5 374.3,137.0 374.8,136.3 375.3,135.5 375.8,134.4 376.3,133.1 376.8,131.5 377.3,129.5 377.8,127.1 378.3,124.3 378.8,120.9 379.3,117.1 379.8,112.8 380.3,108.3 380.8,103.5 381.3,98.9 381.8,94.8 382.3,91.6 382.8,89.8 383.3,89.6 383.8,91.2 384.3,94.3 384.8,98.4 385.3,103.2 385.8,108.2 386.3,113.0 386.8,117.6 387.3,121.7 387.8,125.3 388.3,128.4 388.8,131.1 389.3,133.2 389.8,135.0 390.3,136.4 390.8,137.5 391.3,138.4 391.8,139.1 392.3,139.7 392.8,140.2 393.3,140.6 393.8,140.9 394.3,141.2 394.8,141.4 395.3,141.6 395.8,141.8 396.3,142.0 396.8,142.1 397.3,142.2 397.8,142.4 398.3,142.5 398.8,142.6 399.3,142.7 399.8,142.8 400.3,142.9 400.8,142.9 401.3,143.0 401.8,143.1 402.3,143.1 402.8,143.2 403.3,143.2 403.8,143.3 404.3,143.3 404.8,143.4 405.3,143.4 405.8,143.5 406.3,143.5 406.8,143.6 L406.8,144.2 406.3,144.2 405.8,144.2 405.3,144.2 404.8,144.2 404.3,144.2 403.8,144.2 403.3,144.2 402.8,144.2 402.3,144.1 401.8,144.1 401.3,144.1 400.8,144.1 400.3,144.1 399.8,144.1 399.3,144.1 398.8,144.1 398.3,144.1 397.8,144.1 397.3,144.0 396.8,144.0 396.3,144.0 395.8,144.0 395.3,144.0 394.8,144.0 394.3,144.0 393.8,144.0 393.3,144.0 392.8,144.0 392.3,143.9 391.8,143.9 391.3,143.9 390.8,143.9 390.3,143.9 389.8,143.9 389.3,143.9 388.8,143.9 388.3,143.9 387.8,143.9 387.3,143.8 386.8,143.8 386.3,143.8 385.8,143.8 385.3,143.8 384.8,143.8 384.3,143.8 383.8,143.8 383.3,143.8 382.8,143.8 382.3,143.7 381.8,143.7 381.3,143.7 380.8,143.7 380.3,143.7 379.8,143.7 379.3,143.7 378.8,143.7 378.3,143.7 377.8,143.7 377.3,143.6 376.8,143.6 376.3,143.6 375.8,143.6 375.3,143.6 374.8,143.6 374.3,143.6 373.8,143.6 373.3,143.6 372.8,143.6 372.3,143.5 371.8,143.5 371.3,143.5 370.8,143.5 370.3,143.5 369.8,143.5 369.3,143.5 368.8,143.5 368.3,143.5 367.8,143.5 367.3,143.4 366.8,143.4 366.3,143.4 365.8,143.4 365.3,143.4 364.8,143.4 364.3,143.4 363.8,143.4 363.3,143.4 362.8,143.4 362.3,143.3 361.8,143.3 361.3,143.3 360.8,143.3 360.3,143.3 359.8,143.3 359.3,143.3 358.8,143.3 358.3,143.3 357.8,143.3 357.3,143.2 356.8,143.2 356.3,143.2 355.8,143.2 355.3,143.2 354.8,143.2 354.3,143.2 353.8,143.2 353.3,143.2 352.8,143.2 352.3,143.1 351.8,143.1 351.3,143.1 350.8,143.1 350.3,143.1 349.8,143.1 349.3,143.1 348.8,143.1 348.3,143.1 347.8,143.1 347.3,143.0 346.8,143.0 346.3,143.0 345.8,143.0 345.3,143.0 344.8,143.0 344.3,143.0 343.8,143.0 343.3,143.0 342.8,143.0 342.3,142.9 341.8,142.9 341.3,142.9 340.8,142.9 340.3,142.9 339.8,142.9 339.3,142.9 338.8,142.9 338.3,142.9 337.8,142.9 337.3,142.8 336.8,142.8 336.3,142.8 335.8,142.8 335.3,142.8 334.8,142.8 334.3,142.8 333.8,142.8 333.3,142.8 332.8,142.8 332.3,142.7 331.8,142.7 331.3,142.7 330.8,142.7 330.3,142.7 329.8,142.7 329.3,142.7 328.8,142.7 328.3,142.7 327.8,142.7 327.3,142.6 326.8,142.6 326.3,142.6 325.8,142.6 325.3,142.6 324.8,142.6 324.3,142.6 323.8,142.6 323.3,142.6 322.8,142.5 322.3,142.5 321.8,142.5 321.3,142.5 320.8,142.5 320.3,142.5 319.8,142.5 319.3,142.4 318.8,142.4 318.3,142.4 317.8,142.4 317.3,142.4 316.8,142.4 316.3,142.3 315.8,142.3 315.3,142.3 314.8,142.3 314.3,142.3 313.8,142.2 313.3,142.2 312.8,142.2 312.3,142.1 311.8,142.1 311.3,142.1 310.8,142.0 310.3,142.0 309.8,141.9 309.3,141.9 308.8,141.8 308.3,141.8 307.8,141.7 307.3,141.6 306.8,141.6 306.3,141.5 305.8,141.4 305.3,141.3 Z" fill="url(#gb2)" stroke="#1c5aa6" stroke-width="1.2"/>
<path d="M280.3,138.8 280.8,138.8 281.3,138.8 281.8,138.9 282.3,138.9 282.8,138.9 283.3,138.9 283.8,138.9 284.3,138.9 284.8,138.9 285.3,138.9 285.8,139.0 286.3,139.0 286.8,139.0 287.3,139.0 287.8,139.0 288.3,139.1 288.8,139.1 289.3,139.1 289.8,139.1 290.3,139.2 290.8,139.2 291.3,139.2 291.8,139.2 292.3,139.3 292.8,139.3 293.3,139.4 293.8,139.4 294.3,139.5 294.8,139.5 295.3,139.6 295.8,139.6 296.3,139.7 296.8,139.8 297.3,139.8 297.8,139.9 298.3,140.0 298.8,140.1 299.3,140.2 299.8,140.3 300.3,140.4 300.8,140.5 301.3,140.5 301.8,140.6 302.3,140.8 302.8,140.9 303.3,140.9 303.8,141.0 304.3,141.1 304.8,141.2 305.3,141.3 305.8,141.4 306.3,141.5 306.8,141.6 307.3,141.6 307.8,141.7 308.3,141.8 308.8,141.8 309.3,141.9 309.8,141.9 310.3,142.0 310.8,142.0 311.3,142.1 311.8,142.1 312.3,142.1 312.8,142.2 313.3,142.2 313.8,142.2 314.3,142.3 314.8,142.3 315.3,142.3 315.8,142.3 316.3,142.3 316.8,142.4 317.3,142.4 317.8,142.4 318.3,142.4 318.8,142.4 319.3,142.4 319.8,142.5 320.3,142.5 320.8,142.5 321.3,142.5 321.8,142.5 322.3,142.5 322.8,142.5 323.3,142.6 323.8,142.6 324.3,142.6 324.8,142.6 325.3,142.6 325.8,142.6 326.3,142.6 326.8,142.6 327.3,142.6 327.8,142.7 328.3,142.7 328.8,142.7 329.3,142.7 329.8,142.7 330.3,142.7 330.8,142.7 331.3,142.7 331.8,142.7 332.3,142.7 332.8,142.8 333.3,142.8 333.8,142.8 334.3,142.8 334.8,142.8 335.3,142.8 335.8,142.8 336.3,142.8 336.8,142.8 337.3,142.8 337.8,142.9 338.3,142.9 338.8,142.9 339.3,142.9 339.8,142.9 340.3,142.9 340.8,142.9 341.3,142.9 341.8,142.9 342.3,142.9 342.8,143.0 343.3,143.0 343.8,143.0 344.3,143.0 344.8,143.0 345.3,143.0 345.8,143.0 346.3,143.0 346.8,143.0 347.3,143.0 347.8,143.1 348.3,143.1 348.8,143.1 349.3,143.1 349.8,143.1 350.3,143.1 350.8,143.1 351.3,143.1 351.8,143.1 352.3,143.1 352.8,143.2 353.3,143.2 353.8,143.2 354.3,143.2 354.8,143.2 355.3,143.2 355.8,143.2 356.3,143.2 356.8,143.2 357.3,143.2 357.8,143.3 358.3,143.3 358.8,143.3 359.3,143.3 359.8,143.3 360.3,143.3 360.8,143.3 361.3,143.3 361.8,143.3 362.3,143.3 362.8,143.4 363.3,143.4 363.8,143.4 364.3,143.4 364.8,143.4 365.3,143.4 365.8,143.4 366.3,143.4 366.8,143.4 367.3,143.4 367.8,143.5 368.3,143.5 368.8,143.5 369.3,143.5 369.8,143.5 370.3,143.5 370.8,143.5 371.3,143.5 371.8,143.5 372.3,143.5 372.8,143.6 373.3,143.6 373.8,143.6 374.3,143.6 374.8,143.6 375.3,143.6 375.8,143.6 376.3,143.6 376.8,143.6 377.3,143.6 377.8,143.7 378.3,143.7 378.8,143.7 379.3,143.7 379.8,143.7 380.3,143.7 380.8,143.7 381.3,143.7 381.8,143.7 382.3,143.7 382.8,143.8 383.3,143.8 383.8,143.8 384.3,143.8 384.8,143.8 385.3,143.8 385.8,143.8 386.3,143.8 386.8,143.8 387.3,143.8 387.8,143.9 388.3,143.9 388.8,143.9 389.3,143.9 389.8,143.9 390.3,143.9 390.8,143.9 391.3,143.9 391.8,143.9 392.3,143.9 392.8,144.0 393.3,144.0 393.8,144.0 394.3,144.0 394.8,144.0 395.3,144.0 395.8,144.0 396.3,144.0 396.8,144.0 397.3,144.0 397.8,144.1 398.3,144.1 398.8,144.1 399.3,144.1 399.8,144.1 400.3,144.1 400.8,144.1 401.3,144.1 401.8,144.1 402.3,144.1 402.8,144.2 403.3,144.2 403.8,144.2 404.3,144.2 404.8,144.2 405.3,144.2 405.8,144.2 406.3,144.2 406.8,144.2" fill="none" stroke="#a89878" stroke-width="1.2"/>
<path d="M280.3,219.2 280.8,219.2 281.3,219.2 281.8,219.1 282.3,219.1 282.8,219.0 283.3,219.0 283.8,218.9 284.3,218.8 284.8,218.8 285.3,218.7 285.8,218.6 286.3,218.5 286.8,218.4 287.3,218.3 287.8,218.2 288.3,218.1 288.8,217.9 289.3,217.7 289.8,217.4 290.3,217.1 290.8,216.7 291.3,216.1 291.8,215.4 292.3,214.6 292.8,213.5 293.3,212.2 293.8,210.6 294.3,208.7 294.8,206.7 295.3,204.4 295.8,201.9 296.3,199.5 296.8,197.2 297.3,195.2 297.8,193.9 298.3,193.3 298.8,193.6 299.3,194.9 299.8,196.9 300.3,199.4 300.8,202.2 301.3,205.0 301.8,207.7 302.3,210.2 302.8,212.4 303.3,214.4 303.8,216.0 304.3,217.4 304.8,218.5 305.3,219.3 305.8,220.0 306.3,220.6 306.8,221.0 307.3,221.4 307.8,221.6 308.3,221.8 308.8,222.0 309.3,222.2 309.8,222.3 310.3,222.4 310.8,222.5 311.3,222.6 311.8,222.7 312.3,222.8 312.8,222.8 313.3,222.9 313.8,223.0 314.3,223.0 314.8,223.1 315.3,223.1 315.8,223.1 316.3,223.2 316.8,223.2 317.3,223.2 317.8,223.3 318.3,223.3 318.8,223.3 319.3,223.3 319.8,223.3 320.3,223.4 320.8,223.4 321.3,223.4 321.8,223.4 322.3,223.4 322.8,223.4 323.3,223.4 323.8,223.4 L323.8,223.7 323.3,223.7 322.8,223.7 322.3,223.7 321.8,223.7 321.3,223.7 320.8,223.7 320.3,223.7 319.8,223.7 319.3,223.7 318.8,223.7 318.3,223.7 317.8,223.7 317.3,223.7 316.8,223.7 316.3,223.6 315.8,223.6 315.3,223.6 314.8,223.6 314.3,223.6 313.8,223.6 313.3,223.6 312.8,223.6 312.3,223.6 311.8,223.5 311.3,223.5 310.8,223.5 310.3,223.5 309.8,223.5 309.3,223.4 308.8,223.4 308.3,223.4 307.8,223.3 307.3,223.3 306.8,223.2 306.3,223.2 305.8,223.1 305.3,223.1 304.8,223.0 304.3,223.0 303.8,222.9 303.3,222.9 302.8,222.8 302.3,222.7 301.8,222.7 301.3,222.6 300.8,222.6 300.3,222.5 299.8,222.4 299.3,222.4 298.8,222.3 298.3,222.3 297.8,222.2 297.3,222.2 296.8,222.1 296.3,222.1 295.8,222.1 295.3,222.0 294.8,222.0 294.3,222.0 293.8,221.9 293.3,221.9 292.8,221.9 292.3,221.9 291.8,221.8 291.3,221.8 290.8,221.8 290.3,221.8 289.8,221.8 289.3,221.8 288.8,221.8 288.3,221.8 287.8,221.8 287.3,221.7 286.8,221.7 286.3,221.7 285.8,221.7 285.3,221.7 284.8,221.7 284.3,221.7 283.8,221.7 283.3,221.7 282.8,221.7 282.3,221.7 281.8,221.7 281.3,221.7 280.8,221.7 280.3,221.7 Z" fill="url(#go)" stroke="#f2a400" stroke-width="1.0"/>
<path d="M280.9,219.1V216.7M282.2,219.2V215.4M283.5,219.7V215.4M284.8,218.7V216.0M286.1,218.2V215.1M287.4,217.6V212.3M288.7,217.0V215.6M290.0,216.2V214.8M291.3,215.7V212.7M292.6,213.0V211.9M293.9,209.0V208.4M295.2,203.5V203.1M296.5,197.2V196.7M297.8,192.6V192.3M299.1,193.0V192.8M300.4,198.6V198.1M301.7,205.8V205.0M303.0,212.0V210.7M304.3,216.5V215.0M305.6,218.8V215.6M306.9,220.0V218.5M308.2,222.5V218.5M309.5,221.8V218.7M310.8,220.7V218.3M312.1,220.9V219.1M313.4,221.2V219.1M314.7,220.9V215.0M316.0,222.0V218.9M317.3,222.1V218.5M318.6,221.3V216.0M319.9,222.9V219.0M321.2,221.7V218.9M322.5,221.3V218.4M323.8,221.8V219.5M325.1,221.9V219.5M326.4,222.1V218.2M327.7,223.9V218.9M329.0,223.0V219.4M330.3,221.5V219.1M331.6,221.5V217.9M332.9,221.0V217.5M334.2,221.4V218.5M335.5,221.1V219.1M336.8,221.0V216.9M338.1,222.3V219.1M339.4,220.9V217.4M340.7,221.0V219.1M342.0,221.7V215.5M343.3,221.5V217.2M344.6,221.2V218.3M345.9,222.1V218.5M347.2,221.0V218.0M348.5,220.9V217.7M349.8,221.2V218.0M351.1,220.7V217.5M352.4,221.5V219.0M353.7,222.7V218.3M355.0,221.8V217.0M356.3,222.1V218.1M357.6,220.4V214.4M358.9,220.7V217.7M360.2,222.1V218.2M361.5,221.6V215.5M362.8,220.7V217.8M364.1,220.7V217.3M365.4,220.0V216.8M366.7,219.8V215.4M368.0,219.4V217.6M369.3,220.8V214.9M370.6,218.9V216.2M371.9,221.4V216.3M373.2,217.4V215.8M374.5,217.1V212.2M375.8,214.5V211.0M377.1,210.4V209.2M378.4,204.1V203.1M379.7,193.8V192.2M381.0,180.8V180.4M382.3,169.4V169.1M383.6,168.2V167.8M384.9,178.1V177.6M386.2,191.7V191.3M387.5,203.9V202.6M388.8,211.1V210.2M390.1,215.5V214.3M391.4,220.4V216.6M392.7,219.3V217.9M394.0,220.3V218.6M395.3,221.4V218.6M396.6,222.1V219.4M397.9,221.5V217.8M399.2,221.5V219.3M400.5,222.3V220.0M401.8,222.5V218.9M403.1,223.0V218.3M404.4,222.3V219.9M405.7,223.5V220.6" fill="none" stroke="#787878" stroke-width="1.1"/>
<path d="M280.3,219.2 280.8,219.2 281.3,219.1 281.8,219.1 282.3,219.0 282.8,219.0 283.3,218.9 283.8,218.9 284.3,218.8 284.8,218.7 285.3,218.7 285.8,218.6 286.3,218.5 286.8,218.4 287.3,218.3 287.8,218.2 288.3,218.0 288.8,217.9 289.3,217.6 289.8,217.4 290.3,217.1 290.8,216.6 291.3,216.1 291.8,215.4 292.3,214.5 292.8,213.4 293.3,212.1 293.8,210.5 294.3,208.7 294.8,206.6 295.3,204.3 295.8,201.9 296.3,199.4 296.8,197.1 297.3,195.2 297.8,193.8 298.3,193.2 298.8,193.6 299.3,194.8 299.8,196.8 300.3,199.3 300.8,202.1 301.3,204.9 301.8,207.6 302.3,210.1 302.8,212.3 303.3,214.2 303.8,215.9 304.3,217.2 304.8,218.3 305.3,219.1 305.8,219.8 306.3,220.3 306.8,220.7 307.3,220.9 307.8,221.1 308.3,221.3 308.8,221.4 309.3,221.5 309.8,221.5 310.3,221.6 310.8,221.6 311.3,221.6 311.8,221.7 312.3,221.7 312.8,221.7 313.3,221.7 313.8,221.7 314.3,221.8 314.8,221.8 315.3,221.8 315.8,221.8 316.3,221.8 316.8,221.8 317.3,221.9 317.8,221.9 318.3,221.9 318.8,221.9 319.3,221.9 319.8,221.9 320.3,221.9 320.8,221.9 321.3,221.9 321.8,221.9 322.3,221.9 322.8,222.0 323.3,222.0 323.8,222.0 324.3,222.0 324.8,222.0 325.3,222.0 325.8,222.0 326.3,222.0 326.8,222.0 327.3,222.0 327.8,221.9 328.3,221.9 328.8,221.9 329.3,221.9 329.8,221.9 330.3,221.9 330.8,221.9 331.3,221.9 331.8,221.9 332.3,221.9 332.8,221.9 333.3,221.9 333.8,221.9 334.3,221.9 334.8,221.9 335.3,221.9 335.8,221.9 336.3,221.9 336.8,221.8 337.3,221.8 337.8,221.8 338.3,221.8 338.8,221.8 339.3,221.8 339.8,221.8 340.3,221.8 340.8,221.8 341.3,221.8 341.8,221.8 342.3,221.7 342.8,221.7 343.3,221.7 343.8,221.7 344.3,221.7 344.8,221.7 345.3,221.7 345.8,221.7 346.3,221.7 346.8,221.6 347.3,221.6 347.8,221.6 348.3,221.6 348.8,221.6 349.3,221.6 349.8,221.6 350.3,221.6 350.8,221.5 351.3,221.5 351.8,221.5 352.3,221.5 352.8,221.5 353.3,221.5 353.8,221.4 354.3,221.4 354.8,221.4 355.3,221.4 355.8,221.4 356.3,221.3 356.8,221.3 357.3,221.3 357.8,221.3 358.3,221.2 358.8,221.2 359.3,221.2 359.8,221.1 360.3,221.1 360.8,221.1 361.3,221.0 361.8,221.0 362.3,221.0 362.8,220.9 363.3,220.9 363.8,220.8 364.3,220.8 364.8,220.7 365.3,220.7 365.8,220.6 366.3,220.5 366.8,220.5 367.3,220.4 367.8,220.3 368.3,220.2 368.8,220.1 369.3,220.0 369.8,219.8 370.3,219.7 370.8,219.5 371.3,219.4 371.8,219.2 372.3,218.9 372.8,218.7 373.3,218.3 373.8,218.0 374.3,217.5 374.8,216.9 375.3,216.2 375.8,215.3 376.3,214.1 376.8,212.7 377.3,210.8 377.8,208.5 378.3,205.7 378.8,202.3 379.3,198.4 379.8,194.0 380.3,189.1 380.8,184.0 381.3,178.9 381.8,174.3 382.3,170.6 382.8,168.5 383.3,168.3 383.8,170.1 384.3,173.6 384.8,178.3 385.3,183.5 385.8,188.8 386.3,194.0 386.8,198.7 387.3,202.9 387.8,206.6 388.3,209.6 388.8,212.1 389.3,214.1 389.8,215.7 390.3,217.0 390.8,218.0 391.3,218.8 391.8,219.4 392.3,219.9 392.8,220.3 393.3,220.6 393.8,220.9 394.3,221.1 394.8,221.3 395.3,221.5 395.8,221.6 396.3,221.8 396.8,221.9 397.3,222.0 397.8,222.1 398.3,222.2 398.8,222.3 399.3,222.4 399.8,222.5 400.3,222.5 400.8,222.6 401.3,222.7 401.8,222.7 402.3,222.8 402.8,222.8 403.3,222.8 403.8,222.9 404.3,222.9 404.8,223.0 405.3,223.0 405.8,223.0 406.3,223.0 406.8,223.1" fill="none" stroke="#e3262e" stroke-width="1.7" stroke-linejoin="round"/>
<path d="M305.3,222.9 305.8,222.9 306.3,222.9 306.8,222.9 307.3,222.9 307.8,222.8 308.3,222.8 308.8,222.8 309.3,222.7 309.8,222.7 310.3,222.6 310.8,222.6 311.3,222.5 311.8,222.5 312.3,222.5 312.8,222.4 313.3,222.4 313.8,222.4 314.3,222.4 314.8,222.3 315.3,222.3 315.8,222.3 316.3,222.3 316.8,222.3 317.3,222.3 317.8,222.3 318.3,222.3 318.8,222.3 319.3,222.3 319.8,222.3 320.3,222.3 320.8,222.2 321.3,222.2 321.8,222.2 322.3,222.2 322.8,222.2 323.3,222.2 323.8,222.2 324.3,222.2 324.8,222.2 325.3,222.2 325.8,222.2 326.3,222.2 326.8,222.1 327.3,222.1 327.8,222.1 328.3,222.1 328.8,222.1 329.3,222.1 329.8,222.1 330.3,222.1 330.8,222.1 331.3,222.1 331.8,222.1 332.3,222.0 332.8,222.0 333.3,222.0 333.8,222.0 334.3,222.0 334.8,222.0 335.3,222.0 335.8,222.0 336.3,222.0 336.8,222.0 337.3,221.9 337.8,221.9 338.3,221.9 338.8,221.9 339.3,221.9 339.8,221.9 340.3,221.9 340.8,221.9 341.3,221.9 341.8,221.8 342.3,221.8 342.8,221.8 343.3,221.8 343.8,221.8 344.3,221.8 344.8,221.8 345.3,221.8 345.8,221.7 346.3,221.7 346.8,221.7 347.3,221.7 347.8,221.7 348.3,221.7 348.8,221.7 349.3,221.6 349.8,221.6 350.3,221.6 350.8,221.6 351.3,221.6 351.8,221.6 352.3,221.5 352.8,221.5 353.3,221.5 353.8,221.5 354.3,221.5 354.8,221.4 355.3,221.4 355.8,221.4 356.3,221.4 356.8,221.4 357.3,221.3 357.8,221.3 358.3,221.3 358.8,221.2 359.3,221.2 359.8,221.2 360.3,221.2 360.8,221.1 361.3,221.1 361.8,221.0 362.3,221.0 362.8,221.0 363.3,220.9 363.8,220.9 364.3,220.8 364.8,220.8 365.3,220.7 365.8,220.6 366.3,220.6 366.8,220.5 367.3,220.4 367.8,220.3 368.3,220.2 368.8,220.1 369.3,220.0 369.8,219.9 370.3,219.7 370.8,219.6 371.3,219.4 371.8,219.2 372.3,219.0 372.8,218.7 373.3,218.4 373.8,218.0 374.3,217.5 374.8,217.0 375.3,216.2 375.8,215.3 376.3,214.2 376.8,212.7 377.3,210.8 377.8,208.5 378.3,205.7 378.8,202.3 379.3,198.4 379.8,194.0 380.3,189.1 380.8,184.0 381.3,178.9 381.8,174.3 382.3,170.7 382.8,168.6 383.3,168.4 383.8,170.2 384.3,173.6 384.8,178.3 385.3,183.5 385.8,188.8 386.3,194.0 386.8,198.7 387.3,202.9 387.8,206.6 388.3,209.6 388.8,212.1 389.3,214.2 389.8,215.8 390.3,217.0 390.8,218.0 391.3,218.8 391.8,219.4 392.3,219.9 392.8,220.3 393.3,220.6 393.8,220.9 394.3,221.1 394.8,221.3 395.3,221.5 395.8,221.7 396.3,221.8 396.8,221.9 397.3,222.0 397.8,222.1 398.3,222.2 398.8,222.3 399.3,222.4 399.8,222.5 400.3,222.6 400.8,222.6 401.3,222.7 401.8,222.7 402.3,222.8 402.8,222.8 403.3,222.9 403.8,222.9 404.3,222.9 404.8,223.0 405.3,223.0 405.8,223.0 406.3,223.1 406.8,223.1 L406.8,223.7 406.3,223.7 405.8,223.7 405.3,223.7 404.8,223.7 404.3,223.7 403.8,223.7 403.3,223.7 402.8,223.7 402.3,223.7 401.8,223.7 401.3,223.7 400.8,223.7 400.3,223.7 399.8,223.7 399.3,223.7 398.8,223.7 398.3,223.7 397.8,223.7 397.3,223.7 396.8,223.7 396.3,223.7 395.8,223.7 395.3,223.7 394.8,223.7 394.3,223.7 393.8,223.7 393.3,223.7 392.8,223.7 392.3,223.7 391.8,223.7 391.3,223.7 390.8,223.7 390.3,223.7 389.8,223.7 389.3,223.7 388.8,223.7 388.3,223.7 387.8,223.7 387.3,223.7 386.8,223.7 386.3,223.7 385.8,223.7 385.3,223.7 384.8,223.7 384.3,223.7 383.8,223.7 383.3,223.7 382.8,223.7 382.3,223.7 381.8,223.7 381.3,223.7 380.8,223.7 380.3,223.7 379.8,223.7 379.3,223.7 378.8,223.7 378.3,223.7 377.8,223.7 377.3,223.7 376.8,223.7 376.3,223.7 375.8,223.7 375.3,223.7 374.8,223.7 374.3,223.7 373.8,223.7 373.3,223.7 372.8,223.7 372.3,223.7 371.8,223.7 371.3,223.7 370.8,223.7 370.3,223.7 369.8,223.7 369.3,223.7 368.8,223.7 368.3,223.7 367.8,223.7 367.3,223.7 366.8,223.7 366.3,223.7 365.8,223.7 365.3,223.7 364.8,223.7 364.3,223.7 363.8,223.7 363.3,223.7 362.8,223.7 362.3,223.7 361.8,223.7 361.3,223.7 360.8,223.7 360.3,223.7 359.8,223.7 359.3,223.7 358.8,223.7 358.3,223.7 357.8,223.7 357.3,223.7 356.8,223.7 356.3,223.7 355.8,223.7 355.3,223.7 354.8,223.7 354.3,223.7 353.8,223.7 353.3,223.7 352.8,223.7 352.3,223.7 351.8,223.7 351.3,223.7 350.8,223.7 350.3,223.7 349.8,223.7 349.3,223.7 348.8,223.7 348.3,223.7 347.8,223.7 347.3,223.7 346.8,223.7 346.3,223.7 345.8,223.7 345.3,223.7 344.8,223.7 344.3,223.7 343.8,223.7 343.3,223.7 342.8,223.7 342.3,223.7 341.8,223.7 341.3,223.7 340.8,223.7 340.3,223.7 339.8,223.7 339.3,223.7 338.8,223.7 338.3,223.7 337.8,223.7 337.3,223.7 336.8,223.7 336.3,223.7 335.8,223.7 335.3,223.7 334.8,223.7 334.3,223.7 333.8,223.7 333.3,223.7 332.8,223.7 332.3,223.7 331.8,223.7 331.3,223.7 330.8,223.7 330.3,223.7 329.8,223.7 329.3,223.7 328.8,223.7 328.3,223.7 327.8,223.7 327.3,223.7 326.8,223.7 326.3,223.7 325.8,223.7 325.3,223.7 324.8,223.7 324.3,223.7 323.8,223.7 323.3,223.7 322.8,223.7 322.3,223.7 321.8,223.7 321.3,223.7 320.8,223.7 320.3,223.7 319.8,223.7 319.3,223.7 318.8,223.7 318.3,223.7 317.8,223.7 317.3,223.7 316.8,223.7 316.3,223.6 315.8,223.6 315.3,223.6 314.8,223.6 314.3,223.6 313.8,223.6 313.3,223.6 312.8,223.6 312.3,223.6 311.8,223.5 311.3,223.5 310.8,223.5 310.3,223.5 309.8,223.5 309.3,223.4 308.8,223.4 308.3,223.4 307.8,223.3 307.3,223.3 306.8,223.2 306.3,223.2 305.8,223.1 305.3,223.1 Z" fill="url(#gb2)" stroke="#1c5aa6" stroke-width="1.2"/>
<path d="M280.3,221.7 280.8,221.7 281.3,221.7 281.8,221.7 282.3,221.7 282.8,221.7 283.3,221.7 283.8,221.7 284.3,221.7 284.8,221.7 285.3,221.7 285.8,221.7 286.3,221.7 286.8,221.7 287.3,221.7 287.8,221.8 288.3,221.8 288.8,221.8 289.3,221.8 289.8,221.8 290.3,221.8 290.8,221.8 291.3,221.8 291.8,221.8 292.3,221.9 292.8,221.9 293.3,221.9 293.8,221.9 294.3,222.0 294.8,222.0 295.3,222.0 295.8,222.1 296.3,222.1 296.8,222.1 297.3,222.2 297.8,222.2 298.3,222.3 298.8,222.3 299.3,222.4 299.8,222.4 300.3,222.5 300.8,222.6 301.3,222.6 301.8,222.7 302.3,222.7 302.8,222.8 303.3,222.9 303.8,222.9 304.3,223.0 304.8,223.0 305.3,223.1 305.8,223.1 306.3,223.2 306.8,223.2 307.3,223.3 307.8,223.3 308.3,223.4 308.8,223.4 309.3,223.4 309.8,223.5 310.3,223.5 310.8,223.5 311.3,223.5 311.8,223.5 312.3,223.6 312.8,223.6 313.3,223.6 313.8,223.6 314.3,223.6 314.8,223.6 315.3,223.6 315.8,223.6 316.3,223.6 316.8,223.7 317.3,223.7 317.8,223.7 318.3,223.7 318.8,223.7 319.3,223.7 319.8,223.7 320.3,223.7 320.8,223.7 321.3,223.7 321.8,223.7 322.3,223.7 322.8,223.7 323.3,223.7 323.8,223.7 324.3,223.7 324.8,223.7 325.3,223.7 325.8,223.7 326.3,223.7 326.8,223.7 327.3,223.7 327.8,223.7 328.3,223.7 328.8,223.7 329.3,223.7 329.8,223.7 330.3,223.7 330.8,223.7 331.3,223.7 331.8,223.7 332.3,223.7 332.8,223.7 333.3,223.7 333.8,223.7 334.3,223.7 334.8,223.7 335.3,223.7 335.8,223.7 336.3,223.7 336.8,223.7 337.3,223.7 337.8,223.7 338.3,223.7 338.8,223.7 339.3,223.7 339.8,223.7 340.3,223.7 340.8,223.7 341.3,223.7 341.8,223.7 342.3,223.7 342.8,223.7 343.3,223.7 343.8,223.7 344.3,223.7 344.8,223.7 345.3,223.7 345.8,223.7 346.3,223.7 346.8,223.7 347.3,223.7 347.8,223.7 348.3,223.7 348.8,223.7 349.3,223.7 349.8,223.7 350.3,223.7 350.8,223.7 351.3,223.7 351.8,223.7 352.3,223.7 352.8,223.7 353.3,223.7 353.8,223.7 354.3,223.7 354.8,223.7 355.3,223.7 355.8,223.7 356.3,223.7 356.8,223.7 357.3,223.7 357.8,223.7 358.3,223.7 358.8,223.7 359.3,223.7 359.8,223.7 360.3,223.7 360.8,223.7 361.3,223.7 361.8,223.7 362.3,223.7 362.8,223.7 363.3,223.7 363.8,223.7 364.3,223.7 364.8,223.7 365.3,223.7 365.8,223.7 366.3,223.7 366.8,223.7 367.3,223.7 367.8,223.7 368.3,223.7 368.8,223.7 369.3,223.7 369.8,223.7 370.3,223.7 370.8,223.7 371.3,223.7 371.8,223.7 372.3,223.7 372.8,223.7 373.3,223.7 373.8,223.7 374.3,223.7 374.8,223.7 375.3,223.7 375.8,223.7 376.3,223.7 376.8,223.7 377.3,223.7 377.8,223.7 378.3,223.7 378.8,223.7 379.3,223.7 379.8,223.7 380.3,223.7 380.8,223.7 381.3,223.7 381.8,223.7 382.3,223.7 382.8,223.7 383.3,223.7 383.8,223.7 384.3,223.7 384.8,223.7 385.3,223.7 385.8,223.7 386.3,223.7 386.8,223.7 387.3,223.7 387.8,223.7 388.3,223.7 388.8,223.7 389.3,223.7 389.8,223.7 390.3,223.7 390.8,223.7 391.3,223.7 391.8,223.7 392.3,223.7 392.8,223.7 393.3,223.7 393.8,223.7 394.3,223.7 394.8,223.7 395.3,223.7 395.8,223.7 396.3,223.7 396.8,223.7 397.3,223.7 397.8,223.7 398.3,223.7 398.8,223.7 399.3,223.7 399.8,223.7 400.3,223.7 400.8,223.7 401.3,223.7 401.8,223.7 402.3,223.7 402.8,223.7 403.3,223.7 403.8,223.7 404.3,223.7 404.8,223.7 405.3,223.7 405.8,223.7 406.3,223.7 406.8,223.7" fill="none" stroke="#a89878" stroke-width="1.2"/>
<path d="M418.8,53.8 419.6,53.7 420.4,54.2 421.2,54.6 422.0,54.6 422.8,53.5 423.6,54.2 424.4,52.0 425.2,54.1 426.0,54.2 426.8,52.9 427.6,52.5 428.4,53.4 429.2,52.0 430.0,53.9 430.8,53.8 431.6,52.4 432.4,53.6 433.2,54.8 434.0,54.8 434.8,54.7 435.6,53.4 436.4,53.1 437.2,53.1 438.0,54.2 438.8,56.3 439.6,55.2 440.4,55.3 441.2,55.0 442.0,51.4 442.8,53.0 443.6,52.7 444.4,54.6 445.2,54.9 446.0,51.9 446.8,52.5 447.6,52.8 448.4,51.1 449.2,50.4 450.0,49.7 450.8,50.9 451.6,47.8 452.4,49.2 453.2,46.8 454.0,46.2 454.8,45.6 455.6,41.3 456.4,39.4 457.2,39.0 458.0,35.3 458.8,33.9 459.6,33.0 460.4,32.0 461.2,29.4 462.0,30.0 462.8,31.1 463.6,32.4 464.4,28.9 465.2,33.5 466.0,33.7 466.8,32.1 467.6,32.1 468.4,34.7 469.2,33.8 470.0,34.3 470.8,34.8 471.6,32.6 472.4,32.3 473.2,31.5 474.0,30.5 474.8,29.9 475.6,28.0 476.4,24.3 477.2,21.6 478.0,22.7 478.8,18.7 479.6,16.6 480.4,13.2 481.2,14.3 482.0,11.6 482.8,11.6 483.6,10.8 484.4,12.4 485.2,14.1 486.0,13.6 486.8,16.0 487.6,19.0 488.4,19.7 489.2,22.0 490.0,24.9 490.8,26.5 491.6,31.1 492.4,31.4 493.2,35.4 494.0,37.4 494.8,36.4 495.6,39.2 496.4,39.6 497.2,39.6 498.0,41.1 498.8,41.3 499.6,42.3 500.4,42.2 501.2,38.8 502.0,38.5 502.8,38.3 503.6,37.5 504.4,31.6 505.2,34.7 506.0,32.1 506.8,33.8 507.6,31.9 508.4,32.6 509.2,35.6 510.0,39.4 510.8,40.9 511.6,40.9 512.4,47.4 513.2,47.3 514.0,50.4 514.8,52.2 515.6,53.0 516.4,55.0 517.2,56.3 518.0,57.6 518.8,58.8 519.6,58.9 520.4,57.9 521.2,59.7 522.0,61.3 522.8,61.4 523.6,60.6 524.4,61.3 525.2,61.8 526.0,62.4 526.8,63.0 527.6,60.6 528.4,60.8 529.2,63.0 530.0,63.2 530.8,63.3 531.6,58.7 532.4,61.4 533.2,57.8 534.0,62.7 534.8,62.0 535.6,62.1 536.4,61.9 537.2,63.8 538.0,61.9 538.8,63.6 539.6,63.2 540.4,63.0 541.2,63.2 542.0,62.9 542.8,61.6 543.6,63.8 544.4,63.9 545.2,63.0" fill="none" stroke="#7a7a7a" stroke-width="1.0" stroke-linejoin="bevel"/>
<path d="M445.8,55.7 446.3,55.7 446.8,55.8 447.3,55.8 447.8,55.8 448.3,55.8 448.8,55.8 449.3,55.9 449.8,55.9 450.3,55.9 450.8,55.9 451.3,55.9 451.8,56.0 452.3,56.0 452.8,56.0 453.3,56.0 453.8,56.0 454.3,56.0 454.8,56.0 455.3,56.0 455.8,56.0 456.3,56.0 456.8,56.0 457.3,56.0 457.8,56.0 458.3,56.0 458.8,55.9 459.3,55.9 459.8,55.8 460.3,55.7 460.8,55.6 461.3,55.5 461.8,55.3 462.3,55.2 462.8,55.0 463.3,54.7 463.8,54.5 464.3,54.1 464.8,53.8 465.3,53.4 465.8,53.0 466.3,52.5 466.8,51.9 467.3,51.3 467.8,50.6 468.3,49.9 468.8,49.1 469.3,48.2 469.8,47.3 470.3,46.3 470.8,45.2 471.3,44.1 471.8,42.9 472.3,41.6 472.8,40.3 473.3,38.9 473.8,37.5 474.3,36.1 474.8,34.6 475.3,33.1 475.8,31.6 476.3,30.1 476.8,28.6 477.3,27.2 477.8,25.8 478.3,24.5 478.8,23.2 479.3,22.0 479.8,21.0 480.3,20.0 480.8,19.2 481.3,18.5 481.8,18.0 482.3,17.6 482.8,17.4 483.3,17.3 483.8,17.5 484.3,17.7 484.8,18.1 485.3,18.6 485.8,19.3 486.3,20.1 486.8,21.0 487.3,22.0 487.8,23.1 488.3,24.2 488.8,25.5 489.3,26.8 489.8,28.2 490.3,29.6 490.8,31.0 491.3,32.4 491.8,33.9 492.3,35.3 492.8,36.8 493.3,38.2 493.8,39.6 494.3,41.0 494.8,42.3 495.3,43.6 495.8,44.8 496.3,46.0 496.8,47.1 497.3,48.2 497.8,49.2 498.3,50.2 498.8,51.1 499.3,51.9 499.8,52.7 500.3,53.5 500.8,54.1 501.3,54.8 501.8,55.3 502.3,55.9 502.8,56.4 503.3,56.8 503.8,57.2 504.3,57.6 504.8,57.9 505.3,58.2 505.8,58.5 506.3,58.7 506.8,59.0 507.3,59.2 507.8,59.3 508.3,59.5 508.8,59.7 509.3,59.8 509.8,59.9 510.3,60.1 510.8,60.2 511.3,60.3 511.8,60.4 512.3,60.5 512.8,60.5 513.3,60.6 513.8,60.7 514.3,60.8 514.8,60.8 515.3,60.9 515.8,61.0 516.3,61.0 516.8,61.1 517.3,61.2 517.8,61.2 518.3,61.3 518.8,61.3 519.3,61.4 519.8,61.5 520.3,61.5 520.8,61.6 521.3,61.6 521.8,61.7 522.3,61.7 522.8,61.8 523.3,61.9 523.8,61.9 L523.8,62.2 523.3,62.1 522.8,62.1 522.3,62.0 521.8,62.0 521.3,61.9 520.8,61.9 520.3,61.8 519.8,61.8 519.3,61.7 518.8,61.7 518.3,61.6 517.8,61.6 517.3,61.5 516.8,61.5 516.3,61.4 515.8,61.4 515.3,61.3 514.8,61.3 514.3,61.2 513.8,61.2 513.3,61.1 512.8,61.1 512.3,61.0 511.8,61.0 511.3,61.0 510.8,60.9 510.3,60.9 509.8,60.8 509.3,60.8 508.8,60.7 508.3,60.7 507.8,60.6 507.3,60.6 506.8,60.5 506.3,60.5 505.8,60.4 505.3,60.4 504.8,60.4 504.3,60.3 503.8,60.3 503.3,60.2 502.8,60.2 502.3,60.1 501.8,60.1 501.3,60.0 500.8,60.0 500.3,60.0 499.8,59.9 499.3,59.9 498.8,59.8 498.3,59.8 497.8,59.7 497.3,59.7 496.8,59.7 496.3,59.6 495.8,59.6 495.3,59.5 494.8,59.5 494.3,59.4 493.8,59.4 493.3,59.4 492.8,59.3 492.3,59.3 491.8,59.2 491.3,59.2 490.8,59.2 490.3,59.1 489.8,59.1 489.3,59.0 488.8,59.0 488.3,58.9 487.8,58.9 487.3,58.9 486.8,58.8 486.3,58.8 485.8,58.7 485.3,58.7 484.8,58.7 484.3,58.6 483.8,58.6 483.3,58.5 482.8,58.5 482.3,58.5 481.8,58.4 481.3,58.4 480.8,58.3 480.3,58.3 479.8,58.3 479.3,58.2 478.8,58.2 478.3,58.2 477.8,58.1 477.3,58.1 476.8,58.0 476.3,58.0 475.8,58.0 475.3,57.9 474.8,57.9 474.3,57.9 473.8,57.8 473.3,57.8 472.8,57.7 472.3,57.7 471.8,57.7 471.3,57.6 470.8,57.6 470.3,57.6 469.8,57.5 469.3,57.5 468.8,57.5 468.3,57.4 467.8,57.4 467.3,57.4 466.8,57.3 466.3,57.3 465.8,57.2 465.3,57.2 464.8,57.2 464.3,57.1 463.8,57.1 463.3,57.1 462.8,57.0 462.3,57.0 461.8,57.0 461.3,56.9 460.8,56.9 460.3,56.9 459.8,56.8 459.3,56.8 458.8,56.8 458.3,56.7 457.8,56.7 457.3,56.7 456.8,56.6 456.3,56.6 455.8,56.6 455.3,56.5 454.8,56.5 454.3,56.5 453.8,56.4 453.3,56.4 452.8,56.4 452.3,56.4 451.8,56.3 451.3,56.3 450.8,56.3 450.3,56.2 449.8,56.2 449.3,56.2 448.8,56.1 448.3,56.1 447.8,56.1 447.3,56.0 446.8,56.0 446.3,56.0 445.8,56.0 Z" fill="url(#gp)"/>
<path d="M489.8,58.8 490.3,58.9 490.8,58.9 491.3,58.9 491.8,58.9 492.3,58.8 492.8,58.8 493.3,58.8 493.8,58.7 494.3,58.6 494.8,58.4 495.3,58.2 495.8,58.0 496.3,57.7 496.8,57.3 497.3,56.8 497.8,56.3 498.3,55.6 498.8,54.9 499.3,54.0 499.8,53.1 500.3,52.0 500.8,50.9 501.3,49.6 501.8,48.3 502.3,47.0 502.8,45.7 503.3,44.3 503.8,43.0 504.3,41.8 504.8,40.7 505.3,39.8 505.8,39.0 506.3,38.5 506.8,38.2 507.3,38.2 507.8,38.4 508.3,38.9 508.8,39.7 509.3,40.7 509.8,41.8 510.3,43.1 510.8,44.5 511.3,46.0 511.8,47.5 512.3,49.0 512.8,50.4 513.3,51.8 513.8,53.1 514.3,54.3 514.8,55.4 515.3,56.4 515.8,57.3 516.3,58.0 516.8,58.7 517.3,59.2 517.8,59.7 518.3,60.1 518.8,60.4 519.3,60.7 519.8,61.0 520.3,61.1 520.8,61.3 521.3,61.4 521.8,61.6 522.3,61.7 522.8,61.8 523.3,61.8 523.8,61.9 L523.8,62.2 523.3,62.1 522.8,62.1 522.3,62.0 521.8,62.0 521.3,61.9 520.8,61.9 520.3,61.8 519.8,61.8 519.3,61.7 518.8,61.7 518.3,61.6 517.8,61.6 517.3,61.5 516.8,61.5 516.3,61.4 515.8,61.4 515.3,61.3 514.8,61.3 514.3,61.2 513.8,61.2 513.3,61.1 512.8,61.1 512.3,61.0 511.8,61.0 511.3,61.0 510.8,60.9 510.3,60.9 509.8,60.8 509.3,60.8 508.8,60.7 508.3,60.7 507.8,60.6 507.3,60.6 506.8,60.5 506.3,60.5 505.8,60.4 505.3,60.4 504.8,60.4 504.3,60.3 503.8,60.3 503.3,60.2 502.8,60.2 502.3,60.1 501.8,60.1 501.3,60.0 500.8,60.0 500.3,60.0 499.8,59.9 499.3,59.9 498.8,59.8 498.3,59.8 497.8,59.7 497.3,59.7 496.8,59.7 496.3,59.6 495.8,59.6 495.3,59.5 494.8,59.5 494.3,59.4 493.8,59.4 493.3,59.4 492.8,59.3 492.3,59.3 491.8,59.2 491.3,59.2 490.8,59.2 490.3,59.1 489.8,59.1 Z" fill="url(#gg)"/>
<path d="M418.8,54.3 419.3,54.3 419.8,54.3 420.3,54.3 420.8,54.3 421.3,54.4 421.8,54.4 422.3,54.4 422.8,54.4 423.3,54.4 423.8,54.4 424.3,54.5 424.8,54.5 425.3,54.5 425.8,54.5 426.3,54.5 426.8,54.5 427.3,54.5 427.8,54.6 428.3,54.6 428.8,54.6 429.3,54.6 429.8,54.6 430.3,54.6 430.8,54.6 431.3,54.6 431.8,54.7 432.3,54.7 432.8,54.7 433.3,54.7 433.8,54.7 434.3,54.7 434.8,54.7 435.3,54.7 435.8,54.7 436.3,54.7 436.8,54.7 437.3,54.7 437.8,54.7 438.3,54.7 438.8,54.7 439.3,54.7 439.8,54.7 440.3,54.7 440.8,54.6 441.3,54.6 441.8,54.6 442.3,54.5 442.8,54.5 443.3,54.5 443.8,54.4 444.3,54.3 444.8,54.2 445.3,54.1 445.8,54.0 446.3,53.9 446.8,53.7 447.3,53.5 447.8,53.3 448.3,53.0 448.8,52.8 449.3,52.4 449.8,52.0 450.3,51.6 450.8,51.1 451.3,50.6 451.8,50.0 452.3,49.4 452.8,48.7 453.3,47.9 453.8,47.1 454.3,46.3 454.8,45.4 455.3,44.4 455.8,43.4 456.3,42.4 456.8,41.4 457.3,40.4 457.8,39.4 458.3,38.4 458.8,37.5 459.3,36.7 459.8,36.0 460.3,35.4 460.8,35.0 461.3,34.7 461.8,34.7 462.3,34.8 462.8,35.0 463.3,35.3 463.8,35.8 464.3,36.4 464.8,37.0 465.3,37.7 465.8,38.5 466.3,39.3 466.8,40.2 467.3,41.1 467.8,42.0 468.3,42.9 468.8,43.8 469.3,44.7 469.8,45.6 470.3,46.4 470.8,47.2 471.3,48.0 471.8,48.8 472.3,49.5 472.8,50.2 473.3,50.8 473.8,51.4 474.3,51.9 474.8,52.5 475.3,52.9 475.8,53.4 476.3,53.8 476.8,54.2 477.3,54.5 477.8,54.9 478.3,55.2 478.8,55.4 479.3,55.7 479.8,55.9 480.3,56.1 480.8,56.3 481.3,56.5 481.8,56.6 482.3,56.8 482.8,56.9 483.3,57.0 483.8,57.2 484.3,57.3 484.8,57.4 485.3,57.5 485.8,57.6 486.3,57.7 486.8,57.8 487.3,57.8 487.8,57.9 488.3,58.0 488.8,58.1 489.3,58.1 489.8,58.2 490.3,58.3 490.8,58.4 491.3,58.4 491.8,58.5 492.3,58.6 492.8,58.6 493.3,58.7 493.8,58.7 494.3,58.8 494.8,58.9 495.3,58.9 495.8,59.0 496.3,59.0 496.8,59.1 497.3,59.2 497.8,59.2 498.3,59.3 498.8,59.3 499.3,59.4 499.8,59.4 500.3,59.5 500.8,59.5 501.3,59.6 501.8,59.7 502.3,59.7 502.8,59.8 503.3,59.8 503.8,59.9 504.3,59.9 504.8,60.0 505.3,60.0 505.8,60.1 506.3,60.1 506.8,60.2 507.3,60.2 507.8,60.3 508.3,60.4 508.8,60.4 509.3,60.5 509.8,60.5 510.3,60.6 510.8,60.6 511.3,60.7 511.8,60.7 512.3,60.8 512.8,60.8 513.3,60.9 513.8,60.9 514.3,61.0 514.8,61.0 515.3,61.1 L515.3,61.3 514.8,61.3 514.3,61.2 513.8,61.2 513.3,61.1 512.8,61.1 512.3,61.0 511.8,61.0 511.3,61.0 510.8,60.9 510.3,60.9 509.8,60.8 509.3,60.8 508.8,60.7 508.3,60.7 507.8,60.6 507.3,60.6 506.8,60.5 506.3,60.5 505.8,60.4 505.3,60.4 504.8,60.4 504.3,60.3 503.8,60.3 503.3,60.2 502.8,60.2 502.3,60.1 501.8,60.1 501.3,60.0 500.8,60.0 500.3,60.0 499.8,59.9 499.3,59.9 498.8,59.8 498.3,59.8 497.8,59.7 497.3,59.7 496.8,59.7 496.3,59.6 495.8,59.6 495.3,59.5 494.8,59.5 494.3,59.4 493.8,59.4 493.3,59.4 492.8,59.3 492.3,59.3 491.8,59.2 491.3,59.2 490.8,59.2 490.3,59.1 489.8,59.1 489.3,59.0 488.8,59.0 488.3,58.9 487.8,58.9 487.3,58.9 486.8,58.8 486.3,58.8 485.8,58.7 485.3,58.7 484.8,58.7 484.3,58.6 483.8,58.6 483.3,58.5 482.8,58.5 482.3,58.5 481.8,58.4 481.3,58.4 480.8,58.3 480.3,58.3 479.8,58.3 479.3,58.2 478.8,58.2 478.3,58.2 477.8,58.1 477.3,58.1 476.8,58.0 476.3,58.0 475.8,58.0 475.3,57.9 474.8,57.9 474.3,57.9 473.8,57.8 473.3,57.8 472.8,57.7 472.3,57.7 471.8,57.7 471.3,57.6 470.8,57.6 470.3,57.6 469.8,57.5 469.3,57.5 468.8,57.5 468.3,57.4 467.8,57.4 467.3,57.4 466.8,57.3 466.3,57.3 465.8,57.2 465.3,57.2 464.8,57.2 464.3,57.1 463.8,57.1 463.3,57.1 462.8,57.0 462.3,57.0 461.8,57.0 461.3,56.9 460.8,56.9 460.3,56.9 459.8,56.8 459.3,56.8 458.8,56.8 458.3,56.7 457.8,56.7 457.3,56.7 456.8,56.6 456.3,56.6 455.8,56.6 455.3,56.5 454.8,56.5 454.3,56.5 453.8,56.4 453.3,56.4 452.8,56.4 452.3,56.4 451.8,56.3 451.3,56.3 450.8,56.3 450.3,56.2 449.8,56.2 449.3,56.2 448.8,56.1 448.3,56.1 447.8,56.1 447.3,56.0 446.8,56.0 446.3,56.0 445.8,56.0 445.3,55.9 444.8,55.9 444.3,55.9 443.8,55.8 443.3,55.8 442.8,55.8 442.3,55.7 441.8,55.7 441.3,55.7 440.8,55.7 440.3,55.6 439.8,55.6 439.3,55.6 438.8,55.5 438.3,55.5 437.8,55.5 437.3,55.5 436.8,55.4 436.3,55.4 435.8,55.4 435.3,55.4 434.8,55.3 434.3,55.3 433.8,55.3 433.3,55.3 432.8,55.2 432.3,55.2 431.8,55.2 431.3,55.1 430.8,55.1 430.3,55.1 429.8,55.1 429.3,55.0 428.8,55.0 428.3,55.0 427.8,55.0 427.3,54.9 426.8,54.9 426.3,54.9 425.8,54.9 425.3,54.8 424.8,54.8 424.3,54.8 423.8,54.8 423.3,54.7 422.8,54.7 422.3,54.7 421.8,54.7 421.3,54.7 420.8,54.6 420.3,54.6 419.8,54.6 419.3,54.6 418.8,54.5 Z" fill="url(#gb)" stroke="#1a5aa8" stroke-width="0.8"/>
<path d="M418.8,54.5 419.3,54.6 419.8,54.6 420.3,54.6 420.8,54.6 421.3,54.7 421.8,54.7 422.3,54.7 422.8,54.7 423.3,54.7 423.8,54.8 424.3,54.8 424.8,54.8 425.3,54.8 425.8,54.9 426.3,54.9 426.8,54.9 427.3,54.9 427.8,55.0 428.3,55.0 428.8,55.0 429.3,55.0 429.8,55.1 430.3,55.1 430.8,55.1 431.3,55.1 431.8,55.2 432.3,55.2 432.8,55.2 433.3,55.3 433.8,55.3 434.3,55.3 434.8,55.3 435.3,55.4 435.8,55.4 436.3,55.4 436.8,55.4 437.3,55.5 437.8,55.5 438.3,55.5 438.8,55.5 439.3,55.6 439.8,55.6 440.3,55.6 440.8,55.7 441.3,55.7 441.8,55.7 442.3,55.7 442.8,55.8 443.3,55.8 443.8,55.8 444.3,55.9 444.8,55.9 445.3,55.9 445.8,56.0 446.3,56.0 446.8,56.0 447.3,56.0 447.8,56.1 448.3,56.1 448.8,56.1 449.3,56.2 449.8,56.2 450.3,56.2 450.8,56.3 451.3,56.3 451.8,56.3 452.3,56.4 452.8,56.4 453.3,56.4 453.8,56.4 454.3,56.5 454.8,56.5 455.3,56.5 455.8,56.6 456.3,56.6 456.8,56.6 457.3,56.7 457.8,56.7 458.3,56.7 458.8,56.8 459.3,56.8 459.8,56.8 460.3,56.9 460.8,56.9 461.3,56.9 461.8,57.0 462.3,57.0 462.8,57.0 463.3,57.1 463.8,57.1 464.3,57.1 464.8,57.2 465.3,57.2 465.8,57.2 466.3,57.3 466.8,57.3 467.3,57.4 467.8,57.4 468.3,57.4 468.8,57.5 469.3,57.5 469.8,57.5 470.3,57.6 470.8,57.6 471.3,57.6 471.8,57.7 472.3,57.7 472.8,57.7 473.3,57.8 473.8,57.8 474.3,57.9 474.8,57.9 475.3,57.9 475.8,58.0 476.3,58.0 476.8,58.0 477.3,58.1 477.8,58.1 478.3,58.2 478.8,58.2 479.3,58.2 479.8,58.3 480.3,58.3 480.8,58.3 481.3,58.4 481.8,58.4 482.3,58.5 482.8,58.5 483.3,58.5 483.8,58.6 484.3,58.6 484.8,58.7 485.3,58.7 485.8,58.7 486.3,58.8 486.8,58.8 487.3,58.9 487.8,58.9 488.3,58.9 488.8,59.0 489.3,59.0 489.8,59.1 490.3,59.1 490.8,59.2 491.3,59.2 491.8,59.2 492.3,59.3 492.8,59.3 493.3,59.4 493.8,59.4 494.3,59.4 494.8,59.5 495.3,59.5 495.8,59.6 496.3,59.6 496.8,59.7 497.3,59.7 497.8,59.7 498.3,59.8 498.8,59.8 499.3,59.9 499.8,59.9 500.3,60.0 500.8,60.0 501.3,60.0 501.8,60.1 502.3,60.1 502.8,60.2 503.3,60.2 503.8,60.3 504.3,60.3 504.8,60.4 505.3,60.4 505.8,60.4 506.3,60.5 506.8,60.5 507.3,60.6 507.8,60.6 508.3,60.7 508.8,60.7 509.3,60.8 509.8,60.8 510.3,60.9 510.8,60.9 511.3,61.0 511.8,61.0 512.3,61.0 512.8,61.1 513.3,61.1 513.8,61.2 514.3,61.2 514.8,61.3 515.3,61.3 515.8,61.4 516.3,61.4 516.8,61.5 517.3,61.5 517.8,61.6 518.3,61.6 518.8,61.7 519.3,61.7 519.8,61.8 520.3,61.8 520.8,61.9 521.3,61.9 521.8,62.0 522.3,62.0 522.8,62.1 523.3,62.1 523.8,62.2 524.3,62.2 524.8,62.3 525.3,62.3 525.8,62.4 526.3,62.4 526.8,62.5 527.3,62.5 527.8,62.6 528.3,62.6 528.8,62.7 529.3,62.7 529.8,62.8 530.3,62.8 530.8,62.9 531.3,62.9 531.8,63.0 532.3,63.0 532.8,63.1 533.3,63.1 533.8,63.2 534.3,63.2 534.8,63.3 535.3,63.3 535.8,63.4 536.3,63.4 536.8,63.5 537.3,63.6 537.8,63.6 538.3,63.7 538.8,63.7 539.3,63.8 539.8,63.8 540.3,63.9 540.8,63.9 541.3,64.0 541.8,64.0 542.3,64.1 542.8,64.1 543.3,64.2 543.8,64.3 544.3,64.3 544.8,64.4 545.3,64.4" fill="none" stroke="#17a852" stroke-width="1.4"/>
<path d="M418.8,54.2 419.3,54.2 419.8,54.2 420.3,54.2 420.8,54.2 421.3,54.3 421.8,54.3 422.3,54.3 422.8,54.3 423.3,54.3 423.8,54.3 424.3,54.3 424.8,54.4 425.3,54.4 425.8,54.4 426.3,54.4 426.8,54.4 427.3,54.4 427.8,54.4 428.3,54.4 428.8,54.5 429.3,54.5 429.8,54.5 430.3,54.5 430.8,54.5 431.3,54.5 431.8,54.5 432.3,54.5 432.8,54.5 433.3,54.5 433.8,54.5 434.3,54.5 434.8,54.5 435.3,54.5 435.8,54.5 436.3,54.5 436.8,54.5 437.3,54.5 437.8,54.5 438.3,54.5 438.8,54.5 439.3,54.5 439.8,54.5 440.3,54.5 440.8,54.4 441.3,54.4 441.8,54.4 442.3,54.3 442.8,54.3 443.3,54.2 443.8,54.2 444.3,54.1 444.8,54.0 445.3,53.9 445.8,53.8 446.3,53.6 446.8,53.4 447.3,53.2 447.8,53.0 448.3,52.7 448.8,52.4 449.3,52.1 449.8,51.7 450.3,51.3 450.8,50.8 451.3,50.3 451.8,49.7 452.3,49.0 452.8,48.3 453.3,47.5 453.8,46.7 454.3,45.7 454.8,44.8 455.3,43.8 455.8,42.7 456.3,41.6 456.8,40.4 457.3,39.2 457.8,38.0 458.3,36.9 458.8,35.8 459.3,34.7 459.8,33.7 460.3,32.9 460.8,32.2 461.3,31.8 461.8,31.5 462.3,31.4 462.8,31.4 463.3,31.6 463.8,31.9 464.3,32.2 464.8,32.6 465.3,33.1 465.8,33.5 466.3,34.0 466.8,34.4 467.3,34.7 467.8,35.0 468.3,35.2 468.8,35.3 469.3,35.3 469.8,35.2 470.3,35.1 470.8,34.8 471.3,34.4 471.8,33.9 472.3,33.3 472.8,32.5 473.3,31.7 473.8,30.8 474.3,29.9 474.8,28.8 475.3,27.7 475.8,26.5 476.3,25.2 476.8,24.0 477.3,22.7 477.8,21.4 478.3,20.1 478.8,18.9 479.3,17.8 479.8,16.7 480.3,15.7 480.8,14.9 481.3,14.2 481.8,13.7 482.3,13.3 482.8,13.2 483.3,13.2 483.8,13.5 484.3,13.9 484.8,14.4 485.3,15.1 485.8,16.0 486.3,17.0 486.8,18.1 487.3,19.3 487.8,20.6 488.3,22.0 488.8,23.4 489.3,24.8 489.8,26.3 490.3,27.7 490.8,29.2 491.3,30.6 491.8,32.0 492.3,33.3 492.8,34.6 493.3,35.8 493.8,36.9 494.3,37.9 494.8,38.9 495.3,39.7 495.8,40.5 496.3,41.1 496.8,41.6 497.3,42.1 497.8,42.4 498.3,42.6 498.8,42.6 499.3,42.6 499.8,42.4 500.3,42.1 500.8,41.6 501.3,41.0 501.8,40.3 502.3,39.5 502.8,38.6 503.3,37.7 503.8,36.7 504.3,35.7 504.8,34.8 505.3,34.0 505.8,33.4 506.3,33.0 506.8,32.9 507.3,33.1 507.8,33.6 508.3,34.4 508.8,35.4 509.3,36.8 509.8,38.3 510.3,40.0 510.8,41.8 511.3,43.7 511.8,45.5 512.3,47.3 512.8,49.0 513.3,50.6 513.8,52.0 514.3,53.4 514.8,54.6 515.3,55.6 515.8,56.6 516.3,57.4 516.8,58.1 517.3,58.6 517.8,59.1 518.3,59.6 518.8,59.9 519.3,60.2 519.8,60.4 520.3,60.6 520.8,60.8 521.3,61.0 521.8,61.1 522.3,61.2 522.8,61.3 523.3,61.4 523.8,61.5 524.3,61.6 524.8,61.6 525.3,61.7 525.8,61.8 526.3,61.9 526.8,61.9 527.3,62.0 527.8,62.0 528.3,62.1 528.8,62.2 529.3,62.2 529.8,62.3 530.3,62.4 530.8,62.4 531.3,62.5 531.8,62.6 532.3,62.6 532.8,62.7 533.3,62.7 533.8,62.8 534.3,62.9 534.8,62.9 535.3,63.0 535.8,63.0 536.3,63.1 536.8,63.2 537.3,63.2 537.8,63.3 538.3,63.3 538.8,63.4 539.3,63.5 539.8,63.5 540.3,63.6 540.8,63.6 541.3,63.7 541.8,63.8 542.3,63.8 542.8,63.9 543.3,63.9 543.8,64.0 544.3,64.0 544.8,64.1 545.3,64.2" fill="none" stroke="#e8141b" stroke-width="1.9" stroke-linejoin="round"/>
<path d="M418.8,110.2 419.4,116.2 419.9,108.5 420.5,112.3 421.0,110.9 421.6,114.7 422.1,111.1 422.7,114.1 423.2,110.6 423.8,115.0 424.3,110.8 424.9,112.9 425.4,105.0 426.0,115.8 426.5,110.8 427.1,114.8 427.6,109.9 428.2,113.2 428.7,107.6 429.3,112.0 429.8,110.2 430.4,111.5 430.9,110.6 431.5,111.2 432.0,107.7 432.6,112.4 433.1,107.4 433.7,111.1 434.2,107.8 434.8,110.6 435.3,109.5 435.9,114.6 436.4,109.4 437.0,110.3 437.5,108.9 438.1,114.7 438.6,103.2 439.2,110.9 439.7,104.4 440.3,109.8 440.8,103.6 441.4,109.1 441.9,108.4 442.5,114.2 443.0,106.4 443.6,110.1 444.1,107.7 444.7,111.2 445.2,105.9 445.8,109.8 446.3,103.5 446.9,108.6 447.4,98.5 448.0,110.6 448.5,104.0 449.1,111.8 449.6,103.1 450.2,109.6 450.7,102.8 451.3,110.7 451.8,106.1 452.4,107.9 452.9,106.0 453.5,109.6 454.0,104.6 454.6,110.4 455.1,103.7 455.7,107.3 456.2,102.4 456.8,110.8 457.3,103.5 457.9,107.7 458.4,106.4 459.0,112.2 459.5,105.0 460.1,109.9 460.6,106.2 461.2,108.9 461.7,105.9 462.3,106.7 462.8,105.8 463.4,112.7 463.9,105.4 464.5,108.4 465.0,105.3 465.6,109.7 466.1,104.7 466.7,105.6 467.2,102.8 467.8,106.4 468.3,100.7 468.9,107.5 469.4,103.0 470.0,104.9 470.5,98.8 471.1,102.5 471.6,99.6 472.2,101.9 472.7,96.7 473.3,102.5 473.8,100.5 474.4,100.4 474.9,97.0 475.5,100.6 476.0,95.1 476.6,100.3 477.1,98.1 477.7,100.7 478.2,97.6 478.8,103.2 479.3,95.8 479.9,101.3 480.4,96.0 481.0,97.8 481.5,95.6 482.1,98.8 482.6,91.4 483.2,99.3 483.7,93.5 484.3,98.2 484.8,94.2 485.4,97.9 485.9,96.9 486.5,98.5 487.0,97.1 487.6,98.1 488.1,93.7 488.7,100.0 489.2,97.5 489.8,99.4 490.3,94.1 490.9,101.5 491.4,99.3 492.0,105.4 492.5,99.6 493.1,103.4 493.6,97.0 494.2,102.7 494.7,101.9 495.3,107.1 495.8,102.0 496.4,105.2 496.9,98.5 497.5,106.2 498.0,102.6 498.6,107.0 499.1,103.2 499.7,106.4 500.2,100.6 500.8,105.8 501.3,103.1 501.9,107.1 502.4,104.7 503.0,106.2 503.5,101.1 504.1,109.0 504.6,106.3 505.2,109.7 505.7,102.9 506.3,108.6 506.8,106.2 507.4,109.5 507.9,103.9 508.5,109.1 509.0,106.2 509.6,108.1 510.1,104.0 510.7,113.6 511.2,107.4 511.8,109.7 512.3,103.5 512.9,109.7 513.4,105.3 514.0,110.1 514.5,105.3 515.1,113.2 515.6,105.3 516.2,114.2 516.7,108.0 517.3,112.5 517.8,105.2 518.4,112.3 518.9,108.8 519.5,114.3 520.0,112.6 520.6,116.3 521.1,112.8 521.7,116.0 522.2,114.6 522.8,118.7 523.3,114.7 523.9,118.8 524.4,115.0 525.0,119.0 525.5,114.6 526.1,118.9 526.6,118.5 527.2,120.4 527.7,115.2 528.3,123.1 528.8,120.0 529.4,121.4 529.9,120.5 530.5,122.5 531.0,117.5 531.6,130.5 532.1,118.1 532.7,125.3 533.2,123.1 533.8,125.8 534.3,123.4 534.9,127.1 535.4,122.2 536.0,132.8 536.5,125.5 537.1,129.3 537.6,124.0 538.2,131.1 538.7,129.0 539.3,133.5 539.8,127.5 540.4,135.8 540.9,130.1 541.5,133.2 542.0,131.2 542.6,135.3 543.1,129.4 543.7,136.4 544.2,133.9 544.8,136.6 545.3,132.6" fill="none" stroke="#858585" stroke-width="0.8" stroke-linejoin="miter" stroke-miterlimit="2"/>
<path d="M429.3,116.8 429.8,116.8 430.3,116.9 430.8,116.9 431.3,117.0 431.8,117.1 432.3,117.1 432.8,117.2 433.3,117.2 433.8,117.3 434.3,117.4 434.8,117.4 435.3,117.5 435.8,117.5 436.3,117.6 436.8,117.7 437.3,117.7 437.8,117.8 438.3,117.8 438.8,117.9 439.3,118.0 439.8,118.0 440.3,118.1 440.8,118.1 441.3,118.2 441.8,118.3 442.3,118.3 442.8,118.4 443.3,118.4 443.8,118.5 444.3,118.6 444.8,118.6 445.3,118.7 445.8,118.7 446.3,118.8 446.8,118.8 447.3,118.9 447.8,118.9 448.3,119.0 448.8,119.0 449.3,119.1 449.8,119.1 450.3,119.2 450.8,119.2 451.3,119.3 451.8,119.3 452.3,119.3 452.8,119.3 453.3,119.4 453.8,119.4 454.3,119.4 454.8,119.4 455.3,119.4 455.8,119.4 456.3,119.3 456.8,119.3 457.3,119.3 457.8,119.2 458.3,119.1 458.8,119.1 459.3,119.0 459.8,118.8 460.3,118.7 460.8,118.6 461.3,118.4 461.8,118.2 462.3,118.0 462.8,117.7 463.3,117.5 463.8,117.2 464.3,116.9 464.8,116.5 465.3,116.1 465.8,115.7 466.3,115.3 466.8,114.8 467.3,114.3 467.8,113.8 468.3,113.3 468.8,112.7 469.3,112.1 469.8,111.4 470.3,110.8 470.8,110.1 471.3,109.4 471.8,108.7 472.3,107.9 472.8,107.2 473.3,106.4 473.8,105.7 474.3,104.9 474.8,104.2 475.3,103.4 475.8,102.7 476.3,102.0 476.8,101.3 477.3,100.7 477.8,100.0 478.3,99.5 478.8,98.9 479.3,98.5 479.8,98.0 480.3,97.7 480.8,97.4 481.3,97.2 481.8,97.0 482.3,97.0 482.8,97.0 483.3,97.1 483.8,97.2 484.3,97.5 484.8,97.8 485.3,98.2 485.8,98.7 486.3,99.2 486.8,99.8 487.3,100.5 487.8,101.2 488.3,102.0 488.8,102.8 489.3,103.6 489.8,104.4 490.3,105.3 490.8,106.2 491.3,107.1 491.8,108.1 492.3,109.0 492.8,109.9 493.3,110.8 493.8,111.7 494.3,112.6 494.8,113.5 495.3,114.4 495.8,115.2 496.3,116.1 496.8,116.9 497.3,117.6 497.8,118.4 498.3,119.1 498.8,119.8 499.3,120.4 499.8,121.1 500.3,121.7 500.8,122.2 501.3,122.8 501.8,123.3 502.3,123.8 502.8,124.2 503.3,124.7 503.8,125.1 504.3,125.4 504.8,125.8 505.3,126.1 505.8,126.5 506.3,126.8 506.8,127.0 507.3,127.3 507.8,127.6 508.3,127.8 508.8,128.0 509.3,128.2 509.8,128.4 510.3,128.6 510.8,128.8 511.3,129.0 511.8,129.1 512.3,129.3 512.8,129.5 513.3,129.6 513.8,129.7 514.3,129.9 514.8,130.0 515.3,130.1 515.8,130.3 516.3,130.4 516.8,130.5 517.3,130.7 517.8,130.8 518.3,130.9 518.8,131.0 519.3,131.1 519.8,131.2 520.3,131.4 520.8,131.5 521.3,131.6 521.8,131.7 522.3,131.8 522.8,131.9 523.3,132.0 523.8,132.1 524.3,132.2 524.8,132.4 525.3,132.5 525.8,132.6 526.3,132.7 526.8,132.8 527.3,132.9 527.8,133.0 528.3,133.1 528.8,133.2 529.3,133.3 529.8,133.4 530.3,133.6 530.8,133.7 531.3,133.8 531.8,133.9 532.3,134.0 532.8,134.1 533.3,134.2 533.8,134.3 534.3,134.4 534.8,134.5 535.3,134.6 535.8,134.8 536.3,134.9 L536.3,135.1 535.8,135.0 535.3,134.9 534.8,134.8 534.3,134.7 533.8,134.6 533.3,134.5 532.8,134.4 532.3,134.3 531.8,134.2 531.3,134.1 530.8,134.0 530.3,133.9 529.8,133.8 529.3,133.7 528.8,133.6 528.3,133.5 527.8,133.4 527.3,133.3 526.8,133.2 526.3,133.1 525.8,133.0 525.3,132.9 524.8,132.8 524.3,132.6 523.8,132.5 523.3,132.4 522.8,132.3 522.3,132.2 521.8,132.2 521.3,132.1 520.8,132.0 520.3,131.9 519.8,131.8 519.3,131.7 518.8,131.6 518.3,131.5 517.8,131.4 517.3,131.3 516.8,131.2 516.3,131.1 515.8,131.0 515.3,130.9 514.8,130.8 514.3,130.7 513.8,130.6 513.3,130.5 512.8,130.4 512.3,130.3 511.8,130.2 511.3,130.1 510.8,130.0 510.3,129.9 509.8,129.8 509.3,129.7 508.8,129.6 508.3,129.5 507.8,129.4 507.3,129.3 506.8,129.3 506.3,129.2 505.8,129.1 505.3,129.0 504.8,128.9 504.3,128.8 503.8,128.7 503.3,128.6 502.8,128.5 502.3,128.4 501.8,128.3 501.3,128.2 500.8,128.1 500.3,128.0 499.8,128.0 499.3,127.9 498.8,127.8 498.3,127.7 497.8,127.6 497.3,127.5 496.8,127.4 496.3,127.3 495.8,127.2 495.3,127.1 494.8,127.1 494.3,127.0 493.8,126.9 493.3,126.8 492.8,126.7 492.3,126.6 491.8,126.5 491.3,126.4 490.8,126.3 490.3,126.3 489.8,126.2 489.3,126.1 488.8,126.0 488.3,125.9 487.8,125.8 487.3,125.7 486.8,125.7 486.3,125.6 485.8,125.5 485.3,125.4 484.8,125.3 484.3,125.2 483.8,125.1 483.3,125.1 482.8,125.0 482.3,124.9 481.8,124.8 481.3,124.7 480.8,124.6 480.3,124.6 479.8,124.5 479.3,124.4 478.8,124.3 478.3,124.2 477.8,124.1 477.3,124.1 476.8,124.0 476.3,123.9 475.8,123.8 475.3,123.7 474.8,123.6 474.3,123.6 473.8,123.5 473.3,123.4 472.8,123.3 472.3,123.2 471.8,123.2 471.3,123.1 470.8,123.0 470.3,122.9 469.8,122.8 469.3,122.8 468.8,122.7 468.3,122.6 467.8,122.5 467.3,122.4 466.8,122.4 466.3,122.3 465.8,122.2 465.3,122.1 464.8,122.0 464.3,122.0 463.8,121.9 463.3,121.8 462.8,121.7 462.3,121.7 461.8,121.6 461.3,121.5 460.8,121.4 460.3,121.4 459.8,121.3 459.3,121.2 458.8,121.1 458.3,121.1 457.8,121.0 457.3,120.9 456.8,120.8 456.3,120.8 455.8,120.7 455.3,120.6 454.8,120.5 454.3,120.5 453.8,120.4 453.3,120.3 452.8,120.2 452.3,120.2 451.8,120.1 451.3,120.0 450.8,119.9 450.3,119.9 449.8,119.8 449.3,119.7 448.8,119.7 448.3,119.6 447.8,119.5 447.3,119.4 446.8,119.4 446.3,119.3 445.8,119.2 445.3,119.2 444.8,119.1 444.3,119.0 443.8,118.9 443.3,118.9 442.8,118.8 442.3,118.7 441.8,118.7 441.3,118.6 440.8,118.5 440.3,118.5 439.8,118.4 439.3,118.3 438.8,118.3 438.3,118.2 437.8,118.1 437.3,118.1 436.8,118.0 436.3,117.9 435.8,117.9 435.3,117.8 434.8,117.7 434.3,117.7 433.8,117.6 433.3,117.5 432.8,117.5 432.3,117.4 431.8,117.3 431.3,117.3 430.8,117.2 430.3,117.1 429.8,117.1 429.3,117.0 Z" fill="url(#gb)" stroke="#1a5aa8" stroke-width="0.8"/>
<path d="M418.8,114.8 419.3,114.8 419.8,114.8 420.3,114.8 420.8,114.7 421.3,114.7 421.8,114.7 422.3,114.6 422.8,114.6 423.3,114.5 423.8,114.4 424.3,114.4 424.8,114.3 425.3,114.2 425.8,114.1 426.3,114.0 426.8,113.9 427.3,113.8 427.8,113.6 428.3,113.5 428.8,113.4 429.3,113.2 429.8,113.1 430.3,112.9 430.8,112.8 431.3,112.6 431.8,112.5 432.3,112.3 432.8,112.1 433.3,111.9 433.8,111.7 434.3,111.6 434.8,111.4 435.3,111.2 435.8,111.0 436.3,110.8 436.8,110.6 437.3,110.5 437.8,110.3 438.3,110.1 438.8,109.9 439.3,109.8 439.8,109.6 440.3,109.5 440.8,109.3 441.3,109.2 441.8,109.1 442.3,109.0 442.8,108.8 443.3,108.8 443.8,108.7 444.3,108.6 444.8,108.6 445.3,108.5 445.8,108.5 446.3,108.5 446.8,108.5 447.3,108.5 447.8,108.5 448.3,108.6 448.8,108.7 449.3,108.7 449.8,108.8 450.3,108.9 450.8,109.0 451.3,109.1 451.8,109.2 452.3,109.3 452.8,109.4 453.3,109.6 453.8,109.7 454.3,109.8 454.8,110.0 455.3,110.1 455.8,110.3 456.3,110.5 456.8,110.6 457.3,110.8 457.8,111.0 458.3,111.2 458.8,111.4 459.3,111.5 459.8,111.7 460.3,111.9 460.8,112.1 461.3,112.4 461.8,112.6 462.3,112.8 462.8,113.0 463.3,113.2 463.8,113.4 464.3,113.7 464.8,113.9 465.3,114.1 465.8,114.4 466.3,114.6 466.8,114.8 467.3,115.1 467.8,115.3 468.3,115.5 468.8,115.8 469.3,116.0 469.8,116.3 470.3,116.5 470.8,116.7 471.3,117.0 471.8,117.2 472.3,117.5 472.8,117.7 473.3,117.9 473.8,118.2 474.3,118.4 474.8,118.6 475.3,118.9 475.8,119.1 476.3,119.3 476.8,119.6 477.3,119.8 477.8,120.0 478.3,120.2 478.8,120.4 479.3,120.7 479.8,120.9 480.3,121.1 480.8,121.3 481.3,121.5 481.8,121.7 482.3,121.9 482.8,122.1 483.3,122.3 483.8,122.5 484.3,122.7 484.8,122.9 485.3,123.1 485.8,123.2 486.3,123.4 486.8,123.6 487.3,123.8 487.8,123.9 488.3,124.1 488.8,124.3 489.3,124.4 489.8,124.6 490.3,124.8 490.8,124.9 491.3,125.1 491.8,125.2 492.3,125.4 492.8,125.5 493.3,125.7 493.8,125.8 494.3,126.0 494.8,126.1 495.3,126.3 495.8,126.4 496.3,126.5 496.8,126.7 497.3,126.8 497.8,126.9 498.3,127.0 498.8,127.2 499.3,127.3 499.8,127.4 500.3,127.5 500.8,127.7 501.3,127.8 501.8,127.9 502.3,128.0 502.8,128.1 503.3,128.2 503.8,128.4 504.3,128.5 504.8,128.6 505.3,128.7 505.8,128.8 506.3,128.9 L506.3,129.2 505.8,129.1 505.3,129.0 504.8,128.9 504.3,128.8 503.8,128.7 503.3,128.6 502.8,128.5 502.3,128.4 501.8,128.3 501.3,128.2 500.8,128.1 500.3,128.0 499.8,128.0 499.3,127.9 498.8,127.8 498.3,127.7 497.8,127.6 497.3,127.5 496.8,127.4 496.3,127.3 495.8,127.2 495.3,127.1 494.8,127.1 494.3,127.0 493.8,126.9 493.3,126.8 492.8,126.7 492.3,126.6 491.8,126.5 491.3,126.4 490.8,126.3 490.3,126.3 489.8,126.2 489.3,126.1 488.8,126.0 488.3,125.9 487.8,125.8 487.3,125.7 486.8,125.7 486.3,125.6 485.8,125.5 485.3,125.4 484.8,125.3 484.3,125.2 483.8,125.1 483.3,125.1 482.8,125.0 482.3,124.9 481.8,124.8 481.3,124.7 480.8,124.6 480.3,124.6 479.8,124.5 479.3,124.4 478.8,124.3 478.3,124.2 477.8,124.1 477.3,124.1 476.8,124.0 476.3,123.9 475.8,123.8 475.3,123.7 474.8,123.6 474.3,123.6 473.8,123.5 473.3,123.4 472.8,123.3 472.3,123.2 471.8,123.2 471.3,123.1 470.8,123.0 470.3,122.9 469.8,122.8 469.3,122.8 468.8,122.7 468.3,122.6 467.8,122.5 467.3,122.4 466.8,122.4 466.3,122.3 465.8,122.2 465.3,122.1 464.8,122.0 464.3,122.0 463.8,121.9 463.3,121.8 462.8,121.7 462.3,121.7 461.8,121.6 461.3,121.5 460.8,121.4 460.3,121.4 459.8,121.3 459.3,121.2 458.8,121.1 458.3,121.1 457.8,121.0 457.3,120.9 456.8,120.8 456.3,120.8 455.8,120.7 455.3,120.6 454.8,120.5 454.3,120.5 453.8,120.4 453.3,120.3 452.8,120.2 452.3,120.2 451.8,120.1 451.3,120.0 450.8,119.9 450.3,119.9 449.8,119.8 449.3,119.7 448.8,119.7 448.3,119.6 447.8,119.5 447.3,119.4 446.8,119.4 446.3,119.3 445.8,119.2 445.3,119.2 444.8,119.1 444.3,119.0 443.8,118.9 443.3,118.9 442.8,118.8 442.3,118.7 441.8,118.7 441.3,118.6 440.8,118.5 440.3,118.5 439.8,118.4 439.3,118.3 438.8,118.3 438.3,118.2 437.8,118.1 437.3,118.1 436.8,118.0 436.3,117.9 435.8,117.9 435.3,117.8 434.8,117.7 434.3,117.7 433.8,117.6 433.3,117.5 432.8,117.5 432.3,117.4 431.8,117.3 431.3,117.3 430.8,117.2 430.3,117.1 429.8,117.1 429.3,117.0 428.8,116.9 428.3,116.9 427.8,116.8 427.3,116.7 426.8,116.7 426.3,116.6 425.8,116.6 425.3,116.5 424.8,116.4 424.3,116.4 423.8,116.3 423.3,116.2 422.8,116.2 422.3,116.1 421.8,116.1 421.3,116.0 420.8,115.9 420.3,115.9 419.8,115.8 419.3,115.8 418.8,115.7 Z" fill="url(#gy2)" stroke="#f2b000" stroke-width="1.0"/>
<path d="M477.8,123.9 478.3,123.9 478.8,124.0 479.3,124.0 479.8,124.0 480.3,124.0 480.8,124.0 481.3,124.0 481.8,124.0 482.3,124.0 482.8,124.0 483.3,123.9 483.8,123.8 484.3,123.8 484.8,123.7 485.3,123.6 485.8,123.5 486.3,123.3 486.8,123.2 487.3,123.0 487.8,122.9 488.3,122.7 488.8,122.5 489.3,122.3 489.8,122.0 490.3,121.8 490.8,121.6 491.3,121.3 491.8,121.1 492.3,120.8 492.8,120.6 493.3,120.4 493.8,120.1 494.3,119.9 494.8,119.7 495.3,119.5 495.8,119.3 496.3,119.1 496.8,119.0 497.3,118.8 497.8,118.7 498.3,118.7 498.8,118.6 499.3,118.6 499.8,118.6 500.3,118.7 500.8,118.7 501.3,118.8 501.8,119.0 502.3,119.1 502.8,119.3 503.3,119.5 503.8,119.7 504.3,119.9 504.8,120.1 505.3,120.4 505.8,120.7 506.3,120.9 506.8,121.2 507.3,121.6 507.8,121.9 508.3,122.2 508.8,122.5 509.3,122.9 509.8,123.2 510.3,123.6 510.8,123.9 511.3,124.3 511.8,124.7 512.3,125.0 512.8,125.4 513.3,125.7 513.8,126.1 514.3,126.4 514.8,126.8 515.3,127.1 515.8,127.4 516.3,127.8 516.8,128.1 517.3,128.4 517.8,128.7 518.3,129.0 518.8,129.3 519.3,129.5 519.8,129.8 520.3,130.0 520.8,130.3 521.3,130.5 521.8,130.8 522.3,131.0 522.8,131.2 523.3,131.4 523.8,131.6 524.3,131.8 524.8,132.0 525.3,132.2 525.8,132.3 526.3,132.5 526.8,132.7 527.3,132.8 527.8,133.0 528.3,133.1 528.8,133.2 529.3,133.4 529.8,133.5 L529.8,133.8 529.3,133.7 528.8,133.6 528.3,133.5 527.8,133.4 527.3,133.3 526.8,133.2 526.3,133.1 525.8,133.0 525.3,132.9 524.8,132.8 524.3,132.6 523.8,132.5 523.3,132.4 522.8,132.3 522.3,132.2 521.8,132.2 521.3,132.1 520.8,132.0 520.3,131.9 519.8,131.8 519.3,131.7 518.8,131.6 518.3,131.5 517.8,131.4 517.3,131.3 516.8,131.2 516.3,131.1 515.8,131.0 515.3,130.9 514.8,130.8 514.3,130.7 513.8,130.6 513.3,130.5 512.8,130.4 512.3,130.3 511.8,130.2 511.3,130.1 510.8,130.0 510.3,129.9 509.8,129.8 509.3,129.7 508.8,129.6 508.3,129.5 507.8,129.4 507.3,129.3 506.8,129.3 506.3,129.2 505.8,129.1 505.3,129.0 504.8,128.9 504.3,128.8 503.8,128.7 503.3,128.6 502.8,128.5 502.3,128.4 501.8,128.3 501.3,128.2 500.8,128.1 500.3,128.0 499.8,128.0 499.3,127.9 498.8,127.8 498.3,127.7 497.8,127.6 497.3,127.5 496.8,127.4 496.3,127.3 495.8,127.2 495.3,127.1 494.8,127.1 494.3,127.0 493.8,126.9 493.3,126.8 492.8,126.7 492.3,126.6 491.8,126.5 491.3,126.4 490.8,126.3 490.3,126.3 489.8,126.2 489.3,126.1 488.8,126.0 488.3,125.9 487.8,125.8 487.3,125.7 486.8,125.7 486.3,125.6 485.8,125.5 485.3,125.4 484.8,125.3 484.3,125.2 483.8,125.1 483.3,125.1 482.8,125.0 482.3,124.9 481.8,124.8 481.3,124.7 480.8,124.6 480.3,124.6 479.8,124.5 479.3,124.4 478.8,124.3 478.3,124.2 477.8,124.1 Z" fill="url(#gy2)" stroke="#f2b000" stroke-width="1.0"/>
<path d="M507.8,129.2 508.3,129.2 508.8,129.2 509.3,129.2 509.8,129.1 510.3,129.0 510.8,128.8 511.3,128.6 511.8,128.3 512.3,127.9 512.8,127.4 513.3,126.9 513.8,126.3 514.3,125.6 514.8,124.9 515.3,124.1 515.8,123.3 516.3,122.5 516.8,121.7 517.3,120.9 517.8,120.2 518.3,119.5 518.8,119.0 519.3,118.6 519.8,118.4 520.3,118.4 520.8,118.5 521.3,118.6 521.8,118.7 522.3,118.9 522.8,119.1 523.3,119.3 523.8,119.5 524.3,119.8 524.8,120.0 525.3,120.3 525.8,120.6 526.3,121.0 526.8,121.3 527.3,121.7 527.8,122.0 528.3,122.4 528.8,122.8 529.3,123.2 529.8,123.6 530.3,124.0 530.8,124.5 531.3,124.9 531.8,125.3 532.3,125.7 532.8,126.2 533.3,126.6 533.8,127.1 534.3,127.5 534.8,127.9 535.3,128.3 535.8,128.8 536.3,129.2 536.8,129.6 537.3,130.0 537.8,130.4 538.3,130.8 538.8,131.2 539.3,131.5 539.8,131.9 540.3,132.3 540.8,132.6 541.3,132.9 541.8,133.3 542.3,133.6 542.8,133.9 543.3,134.2 543.8,134.5 544.3,134.7 544.8,135.0 545.3,135.3 L545.3,137.0 544.8,136.9 544.3,136.8 543.8,136.7 543.3,136.6 542.8,136.5 542.3,136.4 541.8,136.3 541.3,136.2 540.8,136.1 540.3,136.0 539.8,135.9 539.3,135.7 538.8,135.6 538.3,135.5 537.8,135.4 537.3,135.3 536.8,135.2 536.3,135.1 535.8,135.0 535.3,134.9 534.8,134.8 534.3,134.7 533.8,134.6 533.3,134.5 532.8,134.4 532.3,134.3 531.8,134.2 531.3,134.1 530.8,134.0 530.3,133.9 529.8,133.8 529.3,133.7 528.8,133.6 528.3,133.5 527.8,133.4 527.3,133.3 526.8,133.2 526.3,133.1 525.8,133.0 525.3,132.9 524.8,132.8 524.3,132.6 523.8,132.5 523.3,132.4 522.8,132.3 522.3,132.2 521.8,132.2 521.3,132.1 520.8,132.0 520.3,131.9 519.8,131.8 519.3,131.7 518.8,131.6 518.3,131.5 517.8,131.4 517.3,131.3 516.8,131.2 516.3,131.1 515.8,131.0 515.3,130.9 514.8,130.8 514.3,130.7 513.8,130.6 513.3,130.5 512.8,130.4 512.3,130.3 511.8,130.2 511.3,130.1 510.8,130.0 510.3,129.9 509.8,129.8 509.3,129.7 508.8,129.6 508.3,129.5 507.8,129.4 Z" fill="url(#gp)"/>
<path d="M418.8,115.7 419.3,115.8 419.8,115.8 420.3,115.9 420.8,115.9 421.3,116.0 421.8,116.1 422.3,116.1 422.8,116.2 423.3,116.2 423.8,116.3 424.3,116.4 424.8,116.4 425.3,116.5 425.8,116.6 426.3,116.6 426.8,116.7 427.3,116.7 427.8,116.8 428.3,116.9 428.8,116.9 429.3,117.0 429.8,117.1 430.3,117.1 430.8,117.2 431.3,117.3 431.8,117.3 432.3,117.4 432.8,117.5 433.3,117.5 433.8,117.6 434.3,117.7 434.8,117.7 435.3,117.8 435.8,117.9 436.3,117.9 436.8,118.0 437.3,118.1 437.8,118.1 438.3,118.2 438.8,118.3 439.3,118.3 439.8,118.4 440.3,118.5 440.8,118.5 441.3,118.6 441.8,118.7 442.3,118.7 442.8,118.8 443.3,118.9 443.8,118.9 444.3,119.0 444.8,119.1 445.3,119.2 445.8,119.2 446.3,119.3 446.8,119.4 447.3,119.4 447.8,119.5 448.3,119.6 448.8,119.7 449.3,119.7 449.8,119.8 450.3,119.9 450.8,119.9 451.3,120.0 451.8,120.1 452.3,120.2 452.8,120.2 453.3,120.3 453.8,120.4 454.3,120.5 454.8,120.5 455.3,120.6 455.8,120.7 456.3,120.8 456.8,120.8 457.3,120.9 457.8,121.0 458.3,121.1 458.8,121.1 459.3,121.2 459.8,121.3 460.3,121.4 460.8,121.4 461.3,121.5 461.8,121.6 462.3,121.7 462.8,121.7 463.3,121.8 463.8,121.9 464.3,122.0 464.8,122.0 465.3,122.1 465.8,122.2 466.3,122.3 466.8,122.4 467.3,122.4 467.8,122.5 468.3,122.6 468.8,122.7 469.3,122.8 469.8,122.8 470.3,122.9 470.8,123.0 471.3,123.1 471.8,123.2 472.3,123.2 472.8,123.3 473.3,123.4 473.8,123.5 474.3,123.6 474.8,123.6 475.3,123.7 475.8,123.8 476.3,123.9 476.8,124.0 477.3,124.1 477.8,124.1 478.3,124.2 478.8,124.3 479.3,124.4 479.8,124.5 480.3,124.6 480.8,124.6 481.3,124.7 481.8,124.8 482.3,124.9 482.8,125.0 483.3,125.1 483.8,125.1 484.3,125.2 484.8,125.3 485.3,125.4 485.8,125.5 486.3,125.6 486.8,125.7 487.3,125.7 487.8,125.8 488.3,125.9 488.8,126.0 489.3,126.1 489.8,126.2 490.3,126.3 490.8,126.3 491.3,126.4 491.8,126.5 492.3,126.6 492.8,126.7 493.3,126.8 493.8,126.9 494.3,127.0 494.8,127.1 495.3,127.1 495.8,127.2 496.3,127.3 496.8,127.4 497.3,127.5 497.8,127.6 498.3,127.7 498.8,127.8 499.3,127.9 499.8,128.0 500.3,128.0 500.8,128.1 501.3,128.2 501.8,128.3 502.3,128.4 502.8,128.5 503.3,128.6 503.8,128.7 504.3,128.8 504.8,128.9 505.3,129.0 505.8,129.1 506.3,129.2 506.8,129.3 507.3,129.3 507.8,129.4 508.3,129.5 508.8,129.6 509.3,129.7 509.8,129.8 510.3,129.9 510.8,130.0 511.3,130.1 511.8,130.2 512.3,130.3 512.8,130.4 513.3,130.5 513.8,130.6 514.3,130.7 514.8,130.8 515.3,130.9 515.8,131.0 516.3,131.1 516.8,131.2 517.3,131.3 517.8,131.4 518.3,131.5 518.8,131.6 519.3,131.7 519.8,131.8 520.3,131.9 520.8,132.0 521.3,132.1 521.8,132.2 522.3,132.2 522.8,132.3 523.3,132.4 523.8,132.5 524.3,132.6 524.8,132.8 525.3,132.9 525.8,133.0 526.3,133.1 526.8,133.2 527.3,133.3 527.8,133.4 528.3,133.5 528.8,133.6 529.3,133.7 529.8,133.8 530.3,133.9 530.8,134.0 531.3,134.1 531.8,134.2 532.3,134.3 532.8,134.4 533.3,134.5 533.8,134.6 534.3,134.7 534.8,134.8 535.3,134.9 535.8,135.0 536.3,135.1 536.8,135.2 537.3,135.3 537.8,135.4 538.3,135.5 538.8,135.6 539.3,135.7 539.8,135.9 540.3,136.0 540.8,136.1 541.3,136.2 541.8,136.3 542.3,136.4 542.8,136.5 543.3,136.6 543.8,136.7 544.3,136.8 544.8,136.9 545.3,137.0" fill="none" stroke="#f2b000" stroke-width="1.4"/>
<path d="M418.8,113.6 419.3,113.6 419.8,113.5 420.3,113.5 420.8,113.4 421.3,113.4 421.8,113.3 422.3,113.3 422.8,113.2 423.3,113.1 423.8,113.1 424.3,113.0 424.8,112.9 425.3,112.9 425.8,112.8 426.3,112.7 426.8,112.7 427.3,112.6 427.8,112.5 428.3,112.5 428.8,112.4 429.3,112.3 429.8,112.2 430.3,112.2 430.8,112.1 431.3,112.0 431.8,111.9 432.3,111.8 432.8,111.7 433.3,111.6 433.8,111.5 434.3,111.4 434.8,111.3 435.3,111.2 435.8,111.1 436.3,110.9 436.8,110.8 437.3,110.7 437.8,110.6 438.3,110.5 438.8,110.4 439.3,110.3 439.8,110.2 440.3,110.1 440.8,110.1 441.3,110.0 441.8,109.9 442.3,109.8 442.8,109.7 443.3,109.6 443.8,109.5 444.3,109.4 444.8,109.3 445.3,109.2 445.8,109.2 446.3,109.1 446.8,109.0 447.3,108.9 447.8,108.9 448.3,108.8 448.8,108.8 449.3,108.8 449.8,108.7 450.3,108.7 450.8,108.7 451.3,108.6 451.8,108.6 452.3,108.6 452.8,108.6 453.3,108.5 453.8,108.5 454.3,108.5 454.8,108.5 455.3,108.5 455.8,108.4 456.3,108.4 456.8,108.4 457.3,108.3 457.8,108.3 458.3,108.3 458.8,108.2 459.3,108.2 459.8,108.1 460.3,108.0 460.8,107.9 461.3,107.8 461.8,107.7 462.3,107.5 462.8,107.4 463.3,107.2 463.8,107.0 464.3,106.8 464.8,106.7 465.3,106.5 465.8,106.3 466.3,106.1 466.8,105.9 467.3,105.6 467.8,105.4 468.3,105.1 468.8,104.8 469.3,104.5 469.8,104.2 470.3,103.8 470.8,103.5 471.3,103.2 471.8,102.9 472.3,102.6 472.8,102.3 473.3,102.0 473.8,101.7 474.3,101.4 474.8,101.1 475.3,100.8 475.8,100.5 476.3,100.2 476.8,99.9 477.3,99.7 477.8,99.4 478.3,99.2 478.8,99.1 479.3,98.9 479.8,98.8 480.3,98.6 480.8,98.5 481.3,98.4 481.8,98.3 482.3,98.2 482.8,98.2 483.3,98.2 483.8,98.2 484.3,98.3 484.8,98.4 485.3,98.5 485.8,98.7 486.3,98.8 486.8,98.9 487.3,99.1 487.8,99.3 488.3,99.6 488.8,99.9 489.3,100.2 489.8,100.5 490.3,100.9 490.8,101.2 491.3,101.6 491.8,101.9 492.3,102.2 492.8,102.5 493.3,102.8 493.8,103.1 494.3,103.5 494.8,103.8 495.3,104.1 495.8,104.4 496.3,104.7 496.8,104.9 497.3,105.1 497.8,105.4 498.3,105.6 498.8,105.8 499.3,105.9 499.8,106.1 500.3,106.3 500.8,106.5 501.3,106.6 501.8,106.8 502.3,107.0 502.8,107.1 503.3,107.3 503.8,107.4 504.3,107.6 504.8,107.7 505.3,107.9 505.8,108.0 506.3,108.1 506.8,108.3 507.3,108.4 507.8,108.5 508.3,108.7 508.8,108.8 509.3,109.0 509.8,109.1 510.3,109.3 510.8,109.5 511.3,109.6 511.8,109.8 512.3,110.0 512.8,110.2 513.3,110.4 513.8,110.6 514.3,110.8 514.8,111.0 515.3,111.3 515.8,111.5 516.3,111.8 516.8,112.0 517.3,112.3 517.8,112.7 518.3,113.0 518.8,113.3 519.3,113.7 519.8,114.1 520.3,114.5 520.8,114.8 521.3,115.2 521.8,115.7 522.3,116.1 522.8,116.5 523.3,117.0 523.8,117.5 524.3,117.9 524.8,118.4 525.3,118.9 525.8,119.3 526.3,119.8 526.8,120.2 527.3,120.6 527.8,121.0 528.3,121.4 528.8,121.8 529.3,122.2 529.8,122.6 530.3,123.0 530.8,123.4 531.3,123.9 531.8,124.3 532.3,124.8 532.8,125.3 533.3,125.7 533.8,126.2 534.3,126.8 534.8,127.3 535.3,127.8 535.8,128.3 536.3,128.8 536.8,129.3 537.3,129.8 537.8,130.3 538.3,130.8 538.8,131.3 539.3,131.7 539.8,132.2 540.3,132.6 540.8,133.1 541.3,133.5 541.8,134.0 542.3,134.4 542.8,134.9 543.3,135.3 543.8,135.7 544.3,136.2 544.8,136.6 545.3,137.0" fill="none" stroke="#e8141b" stroke-width="1.7" stroke-linejoin="round"/>
<path d="M419.4,224.0V208.1M420.7,215.2V210.9M421.9,217.4V210.9M423.2,215.8V199.3M424.4,216.1V208.7M425.7,215.5V208.5M426.9,215.9V209.8M428.2,215.9V210.9M429.4,219.1V210.7M430.7,218.1V210.6M431.9,219.1V206.1M433.2,220.3V204.8M434.4,214.9V198.9M435.7,216.5V198.0M436.9,217.5V209.3M438.2,213.5V209.6M439.4,215.3V205.0M440.7,214.2V207.7M441.9,212.6V198.8M443.2,213.4V205.4M444.4,212.9V205.0M445.7,211.8V204.2M446.9,208.6V203.6M448.2,211.7V200.3M449.4,205.9V200.8M450.7,205.8V187.2M451.9,200.8V190.7M453.2,199.9V187.3M454.4,196.4V181.6M455.7,196.5V187.1M456.9,196.8V182.5M458.2,197.5V187.9M459.4,202.0V193.7M460.7,204.5V199.7M461.9,206.8V200.4M463.2,209.6V203.0M464.4,211.9V203.1M465.7,214.3V202.2M466.9,219.6V207.5M468.2,216.6V211.9M469.4,219.7V212.7M470.7,219.1V205.9M471.9,219.9V206.1M473.2,220.1V212.6M474.4,218.9V214.6M475.7,222.4V214.7M476.9,219.9V214.9M478.2,224.0V206.2M479.4,219.3V213.7M480.7,219.6V213.4M481.9,219.7V209.4M483.2,221.9V214.9M484.4,219.8V213.1M485.7,220.7V212.8M486.9,221.0V214.0M488.2,221.0V215.6M489.4,220.3V214.0M490.7,223.6V215.7M491.9,220.8V214.7M493.2,220.0V214.2M494.4,221.2V215.3M495.7,219.9V203.9M496.9,221.6V211.6M498.2,219.9V205.8M499.4,223.5V205.7M500.7,219.6V214.5M501.9,220.0V215.1M503.2,219.6V203.4M504.4,220.6V212.7M505.7,219.8V211.0M506.9,219.7V207.4M508.2,219.4V213.2M509.4,219.6V211.0M510.7,217.8V212.4M511.9,216.9V211.9M513.2,215.0V211.1M514.4,211.8V207.7M515.7,208.1V203.4M516.9,202.6V194.5M518.2,192.4V187.8M519.4,182.4V177.7M520.7,172.9V171.8M521.9,171.9V170.5M523.2,177.4V175.5M524.4,188.1V185.1M525.7,198.4V191.9M526.9,205.3V200.9M528.2,216.4V206.3M529.4,214.7V205.8M530.7,217.1V211.7M531.9,217.8V208.8M533.2,220.8V212.4M534.4,219.8V214.4M535.7,219.9V211.3M536.9,219.9V211.7M538.2,221.6V215.1M539.4,219.4V213.3M540.7,221.2V213.5M541.9,219.7V211.2M543.2,220.1V215.2M544.4,219.8V213.0" fill="none" stroke="#7c7c7c" stroke-width="1.2"/>
<path d="M418.8,215.3 419.3,215.3 419.8,215.2 420.3,215.2 420.8,215.2 421.3,215.2 421.8,215.1 422.3,215.1 422.8,215.1 423.3,215.1 423.8,215.0 424.3,215.0 424.8,215.0 425.3,214.9 425.8,214.9 426.3,214.9 426.8,214.8 427.3,214.8 427.8,214.7 428.3,214.7 428.8,214.6 429.3,214.6 429.8,214.6 430.3,214.5 430.8,214.5 431.3,214.4 431.8,214.3 432.3,214.3 432.8,214.2 433.3,214.2 433.8,214.1 434.3,214.0 434.8,213.9 435.3,213.9 435.8,213.8 436.3,213.7 436.8,213.6 437.3,213.5 437.8,213.4 438.3,213.3 438.8,213.2 439.3,213.1 439.8,212.9 440.3,212.8 440.8,212.6 441.3,212.4 441.8,212.3 442.3,212.0 442.8,211.8 443.3,211.6 443.8,211.3 444.3,211.0 444.8,210.6 445.3,210.2 445.8,209.8 446.3,209.3 446.8,208.8 447.3,208.2 447.8,207.6 448.3,206.9 448.8,206.2 449.3,205.4 449.8,204.5 450.3,203.6 450.8,202.7 451.3,201.8 451.8,200.8 452.3,199.8 452.8,198.9 453.3,198.0 453.8,197.2 454.3,196.5 454.8,195.8 455.3,195.3 455.8,195.0 456.3,194.9 456.8,194.9 457.3,195.3 457.8,196.0 458.3,197.0 458.8,198.2 459.3,199.6 459.8,201.0 460.3,202.4 460.8,203.9 461.3,205.3 461.8,206.6 462.3,207.8 462.8,208.9 463.3,210.0 463.8,210.9 464.3,211.8 464.8,212.6 465.3,213.3 465.8,213.9 466.3,214.4 466.8,214.9 467.3,215.4 467.8,215.8 468.3,216.1 468.8,216.5 469.3,216.8 469.8,217.0 470.3,217.3 470.8,217.5 471.3,217.7 471.8,217.9 472.3,218.0 472.8,218.2 473.3,218.3 473.8,218.5 474.3,218.6 474.8,218.7 475.3,218.8 475.8,218.9 476.3,219.0 476.8,219.1 477.3,219.2 477.8,219.3 478.3,219.3 478.8,219.4 479.3,219.5 479.8,219.5 480.3,219.6 480.8,219.6 481.3,219.7 481.8,219.7 482.3,219.7 482.8,219.8 483.3,219.8 483.8,219.8 484.3,219.9 484.8,219.9 485.3,219.9 485.8,219.9 486.3,220.0 486.8,220.0 487.3,220.0 487.8,220.0 488.3,220.0 488.8,220.1 489.3,220.1 489.8,220.1 490.3,220.1 490.8,220.1 491.3,220.1 491.8,220.1 492.3,220.2 492.8,220.2 493.3,220.2 493.8,220.2 494.3,220.2 494.8,220.2 495.3,220.2 495.8,220.2 496.3,220.2 496.8,220.2 497.3,220.2 L497.3,220.5 496.8,220.5 496.3,220.5 495.8,220.5 495.3,220.5 494.8,220.5 494.3,220.5 493.8,220.5 493.3,220.5 492.8,220.5 492.3,220.5 491.8,220.5 491.3,220.5 490.8,220.5 490.3,220.5 489.8,220.5 489.3,220.5 488.8,220.5 488.3,220.5 487.8,220.4 487.3,220.4 486.8,220.4 486.3,220.4 485.8,220.4 485.3,220.4 484.8,220.4 484.3,220.4 483.8,220.4 483.3,220.4 482.8,220.4 482.3,220.3 481.8,220.3 481.3,220.3 480.8,220.3 480.3,220.3 479.8,220.2 479.3,220.2 478.8,220.2 478.3,220.2 477.8,220.1 477.3,220.1 476.8,220.1 476.3,220.0 475.8,220.0 475.3,219.9 474.8,219.9 474.3,219.8 473.8,219.8 473.3,219.7 472.8,219.6 472.3,219.6 471.8,219.5 471.3,219.4 470.8,219.3 470.3,219.3 469.8,219.2 469.3,219.1 468.8,219.0 468.3,218.9 467.8,218.8 467.3,218.7 466.8,218.6 466.3,218.5 465.8,218.4 465.3,218.3 464.8,218.1 464.3,218.0 463.8,217.9 463.3,217.8 462.8,217.8 462.3,217.7 461.8,217.6 461.3,217.5 460.8,217.4 460.3,217.3 459.8,217.2 459.3,217.2 458.8,217.1 458.3,217.0 457.8,217.0 457.3,216.9 456.8,216.9 456.3,216.8 455.8,216.8 455.3,216.7 454.8,216.7 454.3,216.7 453.8,216.6 453.3,216.6 452.8,216.6 452.3,216.6 451.8,216.5 451.3,216.5 450.8,216.5 450.3,216.5 449.8,216.5 449.3,216.4 448.8,216.4 448.3,216.4 447.8,216.4 447.3,216.4 446.8,216.4 446.3,216.4 445.8,216.4 445.3,216.4 444.8,216.4 444.3,216.4 443.8,216.3 443.3,216.3 442.8,216.3 442.3,216.3 441.8,216.3 441.3,216.3 440.8,216.3 440.3,216.3 439.8,216.3 439.3,216.3 438.8,216.3 438.3,216.3 437.8,216.3 437.3,216.3 436.8,216.3 436.3,216.3 435.8,216.3 435.3,216.3 434.8,216.3 434.3,216.3 433.8,216.3 433.3,216.3 432.8,216.3 432.3,216.3 431.8,216.3 431.3,216.3 430.8,216.3 430.3,216.3 429.8,216.3 429.3,216.3 428.8,216.3 428.3,216.3 427.8,216.3 427.3,216.3 426.8,216.3 426.3,216.3 425.8,216.3 425.3,216.3 424.8,216.3 424.3,216.3 423.8,216.3 423.3,216.3 422.8,216.3 422.3,216.3 421.8,216.3 421.3,216.3 420.8,216.3 420.3,216.3 419.8,216.3 419.3,216.3 418.8,216.3 Z" fill="url(#gb)" stroke="#1a5aa8" stroke-width="0.8"/>
<path d="M482.3,220.1 482.8,220.1 483.3,220.1 483.8,220.1 484.3,220.1 484.8,220.1 485.3,220.1 485.8,220.1 486.3,220.1 486.8,220.1 487.3,220.1 487.8,220.1 488.3,220.1 488.8,220.1 489.3,220.1 489.8,220.1 490.3,220.1 490.8,220.1 491.3,220.1 491.8,220.0 492.3,220.0 492.8,220.0 493.3,220.0 493.8,220.0 494.3,220.0 494.8,220.0 495.3,219.9 495.8,219.9 496.3,219.9 496.8,219.9 497.3,219.8 497.8,219.8 498.3,219.8 498.8,219.8 499.3,219.7 499.8,219.7 500.3,219.7 500.8,219.6 501.3,219.6 501.8,219.5 502.3,219.5 502.8,219.4 503.3,219.4 503.8,219.3 504.3,219.3 504.8,219.2 505.3,219.1 505.8,219.0 506.3,218.9 506.8,218.8 507.3,218.7 507.8,218.6 508.3,218.4 508.8,218.3 509.3,218.1 509.8,217.9 510.3,217.7 510.8,217.4 511.3,217.0 511.8,216.6 512.3,216.0 512.8,215.4 513.3,214.5 513.8,213.5 514.3,212.2 514.8,210.7 515.3,208.8 515.8,206.6 516.3,204.0 516.8,201.0 517.3,197.7 517.8,194.0 518.3,190.2 518.8,186.2 519.3,182.2 519.8,178.6 520.3,175.5 520.8,173.2 521.3,172.1 521.8,172.2 522.3,173.6 522.8,176.0 523.3,179.3 523.8,183.0 524.3,187.0 524.8,190.9 525.3,194.8 525.8,198.4 526.3,201.6 526.8,204.5 527.3,207.0 527.8,209.2 528.3,211.0 528.8,212.5 529.3,213.7 529.8,214.7 530.3,215.5 530.8,216.1 531.3,216.7 531.8,217.1 532.3,217.4 532.8,217.7 533.3,217.9 533.8,218.1 534.3,218.3 534.8,218.5 535.3,218.6 535.8,218.7 536.3,218.8 536.8,218.9 537.3,219.0 537.8,219.1 538.3,219.2 538.8,219.3 539.3,219.3 539.8,219.4 540.3,219.4 540.8,219.5 541.3,219.5 541.8,219.6 542.3,219.6 542.8,219.7 543.3,219.7 543.8,219.7 544.3,219.8 544.8,219.8 545.3,219.8 L545.3,220.5 544.8,220.5 544.3,220.5 543.8,220.5 543.3,220.5 542.8,220.5 542.3,220.5 541.8,220.5 541.3,220.5 540.8,220.5 540.3,220.5 539.8,220.5 539.3,220.5 538.8,220.5 538.3,220.5 537.8,220.5 537.3,220.5 536.8,220.5 536.3,220.5 535.8,220.5 535.3,220.5 534.8,220.5 534.3,220.5 533.8,220.5 533.3,220.5 532.8,220.5 532.3,220.5 531.8,220.5 531.3,220.5 530.8,220.5 530.3,220.5 529.8,220.5 529.3,220.5 528.8,220.5 528.3,220.5 527.8,220.5 527.3,220.5 526.8,220.5 526.3,220.5 525.8,220.5 525.3,220.5 524.8,220.5 524.3,220.5 523.8,220.5 523.3,220.5 522.8,220.5 522.3,220.5 521.8,220.5 521.3,220.5 520.8,220.5 520.3,220.5 519.8,220.5 519.3,220.5 518.8,220.5 518.3,220.5 517.8,220.5 517.3,220.5 516.8,220.5 516.3,220.5 515.8,220.5 515.3,220.5 514.8,220.5 514.3,220.5 513.8,220.5 513.3,220.5 512.8,220.5 512.3,220.5 511.8,220.5 511.3,220.5 510.8,220.5 510.3,220.5 509.8,220.5 509.3,220.5 508.8,220.5 508.3,220.5 507.8,220.5 507.3,220.5 506.8,220.5 506.3,220.5 505.8,220.5 505.3,220.5 504.8,220.5 504.3,220.5 503.8,220.5 503.3,220.5 502.8,220.5 502.3,220.5 501.8,220.5 501.3,220.5 500.8,220.5 500.3,220.5 499.8,220.5 499.3,220.5 498.8,220.5 498.3,220.5 497.8,220.5 497.3,220.5 496.8,220.5 496.3,220.5 495.8,220.5 495.3,220.5 494.8,220.5 494.3,220.5 493.8,220.5 493.3,220.5 492.8,220.5 492.3,220.5 491.8,220.5 491.3,220.5 490.8,220.5 490.3,220.5 489.8,220.5 489.3,220.5 488.8,220.5 488.3,220.5 487.8,220.4 487.3,220.4 486.8,220.4 486.3,220.4 485.8,220.4 485.3,220.4 484.8,220.4 484.3,220.4 483.8,220.4 483.3,220.4 482.8,220.4 482.3,220.3 Z" fill="url(#gp2)"/>
<path d="M418.8,216.3 419.3,216.3 419.8,216.3 420.3,216.3 420.8,216.3 421.3,216.3 421.8,216.3 422.3,216.3 422.8,216.3 423.3,216.3 423.8,216.3 424.3,216.3 424.8,216.3 425.3,216.3 425.8,216.3 426.3,216.3 426.8,216.3 427.3,216.3 427.8,216.3 428.3,216.3 428.8,216.3 429.3,216.3 429.8,216.3 430.3,216.3 430.8,216.3 431.3,216.3 431.8,216.3 432.3,216.3 432.8,216.3 433.3,216.3 433.8,216.3 434.3,216.3 434.8,216.3 435.3,216.3 435.8,216.3 436.3,216.3 436.8,216.3 437.3,216.3 437.8,216.3 438.3,216.3 438.8,216.3 439.3,216.3 439.8,216.3 440.3,216.3 440.8,216.3 441.3,216.3 441.8,216.3 442.3,216.3 442.8,216.3 443.3,216.3 443.8,216.3 444.3,216.4 444.8,216.4 445.3,216.4 445.8,216.4 446.3,216.4 446.8,216.4 447.3,216.4 447.8,216.4 448.3,216.4 448.8,216.4 449.3,216.4 449.8,216.5 450.3,216.5 450.8,216.5 451.3,216.5 451.8,216.5 452.3,216.6 452.8,216.6 453.3,216.6 453.8,216.6 454.3,216.7 454.8,216.7 455.3,216.7 455.8,216.8 456.3,216.8 456.8,216.9 457.3,216.9 457.8,217.0 458.3,217.0 458.8,217.1 459.3,217.2 459.8,217.2 460.3,217.3 460.8,217.4 461.3,217.5 461.8,217.6 462.3,217.7 462.8,217.8 463.3,217.8 463.8,217.9 464.3,218.0 464.8,218.1 465.3,218.3 465.8,218.4 466.3,218.5 466.8,218.6 467.3,218.7 467.8,218.8 468.3,218.9 468.8,219.0 469.3,219.1 469.8,219.2 470.3,219.3 470.8,219.3 471.3,219.4 471.8,219.5 472.3,219.6 472.8,219.6 473.3,219.7 473.8,219.8 474.3,219.8 474.8,219.9 475.3,219.9 475.8,220.0 476.3,220.0 476.8,220.1 477.3,220.1 477.8,220.1 478.3,220.2 478.8,220.2 479.3,220.2 479.8,220.2 480.3,220.3 480.8,220.3 481.3,220.3 481.8,220.3 482.3,220.3 482.8,220.4 483.3,220.4 483.8,220.4 484.3,220.4 484.8,220.4 485.3,220.4 485.8,220.4 486.3,220.4 486.8,220.4 487.3,220.4 487.8,220.4 488.3,220.5 488.8,220.5 489.3,220.5 489.8,220.5 490.3,220.5 490.8,220.5 491.3,220.5 491.8,220.5 492.3,220.5 492.8,220.5 493.3,220.5 493.8,220.5 494.3,220.5 494.8,220.5 495.3,220.5 495.8,220.5 496.3,220.5 496.8,220.5 497.3,220.5 497.8,220.5 498.3,220.5 498.8,220.5 499.3,220.5 499.8,220.5 500.3,220.5 500.8,220.5 501.3,220.5 501.8,220.5 502.3,220.5 502.8,220.5 503.3,220.5 503.8,220.5 504.3,220.5 504.8,220.5 505.3,220.5 505.8,220.5 506.3,220.5 506.8,220.5 507.3,220.5 507.8,220.5 508.3,220.5 508.8,220.5 509.3,220.5 509.8,220.5 510.3,220.5 510.8,220.5 511.3,220.5 511.8,220.5 512.3,220.5 512.8,220.5 513.3,220.5 513.8,220.5 514.3,220.5 514.8,220.5 515.3,220.5 515.8,220.5 516.3,220.5 516.8,220.5 517.3,220.5 517.8,220.5 518.3,220.5 518.8,220.5 519.3,220.5 519.8,220.5 520.3,220.5 520.8,220.5 521.3,220.5 521.8,220.5 522.3,220.5 522.8,220.5 523.3,220.5 523.8,220.5 524.3,220.5 524.8,220.5 525.3,220.5 525.8,220.5 526.3,220.5 526.8,220.5 527.3,220.5 527.8,220.5 528.3,220.5 528.8,220.5 529.3,220.5 529.8,220.5 530.3,220.5 530.8,220.5 531.3,220.5 531.8,220.5 532.3,220.5 532.8,220.5 533.3,220.5 533.8,220.5 534.3,220.5 534.8,220.5 535.3,220.5 535.8,220.5 536.3,220.5 536.8,220.5 537.3,220.5 537.8,220.5 538.3,220.5 538.8,220.5 539.3,220.5 539.8,220.5 540.3,220.5 540.8,220.5 541.3,220.5 541.8,220.5 542.3,220.5 542.8,220.5 543.3,220.5 543.8,220.5 544.3,220.5 544.8,220.5 545.3,220.5" fill="none" stroke="#808080" stroke-width="1.0"/>
<path d="M418.8,215.3 419.3,215.2 419.8,215.2 420.3,215.2 420.8,215.2 421.3,215.1 421.8,215.1 422.3,215.1 422.8,215.0 423.3,215.0 423.8,215.0 424.3,215.0 424.8,214.9 425.3,214.9 425.8,214.8 426.3,214.8 426.8,214.8 427.3,214.7 427.8,214.7 428.3,214.6 428.8,214.6 429.3,214.6 429.8,214.5 430.3,214.5 430.8,214.4 431.3,214.4 431.8,214.3 432.3,214.2 432.8,214.2 433.3,214.1 433.8,214.0 434.3,214.0 434.8,213.9 435.3,213.8 435.8,213.7 436.3,213.6 436.8,213.6 437.3,213.5 437.8,213.4 438.3,213.2 438.8,213.1 439.3,213.0 439.8,212.9 440.3,212.7 440.8,212.6 441.3,212.4 441.8,212.2 442.3,212.0 442.8,211.8 443.3,211.5 443.8,211.2 444.3,210.9 444.8,210.6 445.3,210.2 445.8,209.7 446.3,209.3 446.8,208.8 447.3,208.2 447.8,207.5 448.3,206.9 448.8,206.1 449.3,205.3 449.8,204.5 450.3,203.6 450.8,202.6 451.3,201.7 451.8,200.7 452.3,199.8 452.8,198.8 453.3,197.9 453.8,197.1 454.3,196.4 454.8,195.8 455.3,195.3 455.8,194.9 456.3,194.8 456.8,194.8 457.3,195.2 457.8,195.9 458.3,196.9 458.8,198.1 459.3,199.5 459.8,200.9 460.3,202.3 460.8,203.8 461.3,205.2 461.8,206.5 462.3,207.7 462.8,208.8 463.3,209.9 463.8,210.8 464.3,211.7 464.8,212.4 465.3,213.1 465.8,213.8 466.3,214.3 466.8,214.8 467.3,215.2 467.8,215.6 468.3,216.0 468.8,216.3 469.3,216.6 469.8,216.9 470.3,217.1 470.8,217.3 471.3,217.5 471.8,217.7 472.3,217.9 472.8,218.0 473.3,218.2 473.8,218.3 474.3,218.4 474.8,218.5 475.3,218.6 475.8,218.7 476.3,218.8 476.8,218.9 477.3,219.0 477.8,219.1 478.3,219.1 478.8,219.2 479.3,219.2 479.8,219.3 480.3,219.3 480.8,219.4 481.3,219.4 481.8,219.5 482.3,219.5 482.8,219.5 483.3,219.5 483.8,219.6 484.3,219.6 484.8,219.6 485.3,219.6 485.8,219.6 486.3,219.7 486.8,219.7 487.3,219.7 487.8,219.7 488.3,219.7 488.8,219.7 489.3,219.7 489.8,219.7 490.3,219.7 490.8,219.7 491.3,219.7 491.8,219.7 492.3,219.7 492.8,219.7 493.3,219.7 493.8,219.7 494.3,219.7 494.8,219.7 495.3,219.7 495.8,219.6 496.3,219.6 496.8,219.6 497.3,219.6 497.8,219.6 498.3,219.6 498.8,219.5 499.3,219.5 499.8,219.5 500.3,219.4 500.8,219.4 501.3,219.4 501.8,219.3 502.3,219.3 502.8,219.2 503.3,219.2 503.8,219.1 504.3,219.1 504.8,219.0 505.3,218.9 505.8,218.8 506.3,218.8 506.8,218.7 507.3,218.6 507.8,218.4 508.3,218.3 508.8,218.1 509.3,218.0 509.8,217.8 510.3,217.5 510.8,217.2 511.3,216.9 511.8,216.4 512.3,215.9 512.8,215.2 513.3,214.4 513.8,213.4 514.3,212.1 514.8,210.5 515.3,208.7 515.8,206.4 516.3,203.9 516.8,200.9 517.3,197.6 517.8,193.9 518.3,190.0 518.8,186.1 519.3,182.1 519.8,178.5 520.3,175.4 520.8,173.1 521.3,172.0 521.8,172.1 522.3,173.5 522.8,175.9 523.3,179.2 523.8,182.9 524.3,186.9 524.8,190.9 525.3,194.7 525.8,198.3 526.3,201.5 526.8,204.4 527.3,207.0 527.8,209.1 528.3,210.9 528.8,212.4 529.3,213.6 529.8,214.6 530.3,215.4 530.8,216.1 531.3,216.6 531.8,217.0 532.3,217.3 532.8,217.6 533.3,217.9 533.8,218.1 534.3,218.3 534.8,218.4 535.3,218.5 535.8,218.7 536.3,218.8 536.8,218.9 537.3,219.0 537.8,219.1 538.3,219.1 538.8,219.2 539.3,219.3 539.8,219.3 540.3,219.4 540.8,219.4 541.3,219.5 541.8,219.5 542.3,219.6 542.8,219.6 543.3,219.7 543.8,219.7 544.3,219.7 544.8,219.8 545.3,219.8" fill="none" stroke="#e02a30" stroke-width="1.0" stroke-linejoin="round"/>
<path d="M50.00,213.50 L41.60,205.20 M42.21,208.56 L41.60,205.20 L44.97,205.77" fill="none" stroke="#9d6bd3" stroke-width="1.25" stroke-linecap="round" stroke-linejoin="round"/>
<path d="M75.50,210.30 L67.20,203.20 M68.05,206.51 L67.20,203.20 L70.60,203.53" fill="none" stroke="#17a852" stroke-width="1.25" stroke-linecap="round" stroke-linejoin="round"/>
<path d="M88.50,201.00 L80.80,194.00 M81.55,197.33 L80.80,194.00 L84.19,194.43" fill="none" stroke="#f4b000" stroke-width="1.25" stroke-linecap="round" stroke-linejoin="round"/>
<path d="M98.90,197.60 L110.20,186.40 M106.83,186.98 L110.20,186.40 L109.59,189.76" fill="none" stroke="#1f63b1" stroke-width="1.25" stroke-linecap="round" stroke-linejoin="round"/>
<path d="M176.70,189.90 L169.50,180.80 M169.70,184.21 L169.50,180.80 L172.77,181.78" fill="none" stroke="#1f63b1" stroke-width="1.25" stroke-linecap="round" stroke-linejoin="round"/>
<path d="M236.20,182.50 L227.80,173.80 M228.33,177.18 L227.80,173.80 L231.15,174.45" fill="none" stroke="#1f63b1" stroke-width="1.25" stroke-linecap="round" stroke-linejoin="round"/>
<path d="M165.00,198.20 L161.30,189.80 M160.63,193.15 L161.30,189.80 L164.22,191.57" fill="none" stroke="#f4b000" stroke-width="1.25" stroke-linecap="round" stroke-linejoin="round"/>
<path d="M215.30,204.00 L212.50,197.50 M211.81,200.85 L212.50,197.50 L215.41,199.30" fill="none" stroke="#f4b000" stroke-width="1.25" stroke-linecap="round" stroke-linejoin="round"/>
<path d="M188.30,202.40 L194.00,194.70 M190.76,195.78 L194.00,194.70 L193.91,198.12" fill="none" stroke="#f49095" stroke-width="1.25" stroke-linecap="round" stroke-linejoin="round"/>
<path d="M248.80,207.00 L255.50,201.60 M252.09,201.83 L255.50,201.60 L254.55,204.88" fill="none" stroke="#f49095" stroke-width="1.25" stroke-linecap="round" stroke-linejoin="round"/>
<path d="M456.60,45.90 L451.20,37.20 M451.01,40.61 L451.20,37.20 L454.34,38.55" fill="none" stroke="#1f63b1" stroke-width="1.25" stroke-linecap="round" stroke-linejoin="round"/>
<path d="M491.30,24.30 L497.60,16.80 M494.30,17.68 L497.60,16.80 L497.30,20.20" fill="none" stroke="#f49095" stroke-width="1.25" stroke-linecap="round" stroke-linejoin="round"/>
<path d="M510.10,40.60 L516.40,35.60 M512.99,35.81 L516.40,35.60 L515.43,38.88" fill="none" stroke="#17a852" stroke-width="1.25" stroke-linecap="round" stroke-linejoin="round"/>
<path d="M485.70,98.50 L488.00,91.40 M485.27,93.46 L488.00,91.40 L489.00,94.67" fill="none" stroke="#1f63b1" stroke-width="1.25" stroke-linecap="round" stroke-linejoin="round"/>
<path d="M523.80,121.30 L523.80,110.70 M521.84,113.50 L523.80,110.70 L525.76,113.50" fill="none" stroke="#f49095" stroke-width="1.25" stroke-linecap="round" stroke-linejoin="round"/>
<path d="M453.00,116.50 L458.20,131.30 M459.12,128.01 L458.20,131.30 L455.42,129.31" fill="none" stroke="#f4b000" stroke-width="1.25" stroke-linecap="round" stroke-linejoin="round"/>
<path d="M493.00,124.30 L481.70,133.90 M485.10,133.58 L481.70,133.90 L482.56,130.59" fill="none" stroke="#f4b000" stroke-width="1.25" stroke-linecap="round" stroke-linejoin="round"/>
<path d="M456.00,195.60 L463.30,189.50 M459.89,189.79 L463.30,189.50 L462.41,192.80" fill="none" stroke="#1f63b1" stroke-width="1.25" stroke-linecap="round" stroke-linejoin="round"/>
<path d="M520.00,184.80 L512.70,177.50 M513.29,180.87 L512.70,177.50 L516.07,178.09" fill="none" stroke="#f49095" stroke-width="1.25" stroke-linecap="round" stroke-linejoin="round"/>
<rect x="4.3" y="3.9" width="128.7" height="228.6" fill="none" stroke="#000" stroke-width="1.5"/>
<path d="M4.3,79.6 H133.0 M4.3,156.0 H133.0" stroke="#000" stroke-width="1.5"/>
<rect x="142.0" y="3.9" width="128.5" height="228.6" fill="none" stroke="#000" stroke-width="1.5"/>
<path d="M142.0,79.6 H270.5 M142.0,156.0 H270.5" stroke="#000" stroke-width="1.5"/>
<rect x="279.5" y="3.9" width="128.3" height="228.6" fill="none" stroke="#000" stroke-width="1.5"/>
<path d="M279.5,79.6 H407.8 M279.5,156.0 H407.8" stroke="#000" stroke-width="1.5"/>
<rect x="418.0" y="3.9" width="128.0" height="228.6" fill="none" stroke="#000" stroke-width="1.5"/>
<path d="M418.0,79.6 H546.0 M418.0,156.0 H546.0" stroke="#000" stroke-width="1.5"/>
<path d="M11.5,231.8 v-2.2M32.9,231.8 v-2.2M54.3,231.8 v-2.2M75.8,231.8 v-2.2M97.2,231.8 v-2.2M118.6,231.8 v-2.2M22.2,231.8 v-1.2M43.6,231.8 v-1.2M65.1,231.8 v-1.2M86.5,231.8 v-1.2M107.9,231.8 v-1.2" stroke="#000" stroke-width="1.0"/>
<path d="M152.3,231.8 v-2.2M180.0,231.8 v-2.2M207.7,231.8 v-2.2M235.4,231.8 v-2.2M263.1,231.8 v-2.2M166.2,231.8 v-1.2M193.8,231.8 v-1.2M221.6,231.8 v-1.2M249.2,231.8 v-1.2" stroke="#000" stroke-width="1.0"/>
<path d="M286.8,231.8 v-2.2M316.4,231.8 v-2.2M345.9,231.8 v-2.2M375.5,231.8 v-2.2M405.0,231.8 v-2.2M301.6,231.8 v-1.2M331.1,231.8 v-1.2M360.7,231.8 v-1.2M390.2,231.8 v-1.2" stroke="#000" stroke-width="1.0"/>
<path d="M433.8,231.8 v-2.2M464.9,231.8 v-2.2M496.0,231.8 v-2.2M527.1,231.8 v-2.2M449.4,231.8 v-1.2M480.5,231.8 v-1.2M511.6,231.8 v-1.2M418.2,231.8 v-1.2" stroke="#000" stroke-width="1.0"/>
<path d="M425.6,78.89999999999999 v-1.6M451.5,78.89999999999999 v-1.6M477.3,78.89999999999999 v-1.6M503.2,78.89999999999999 v-1.6M529.0,78.89999999999999 v-1.6" stroke="#000" stroke-width="1.0"/>
<path d="M435.9,155.3 v-1.6M468.0,155.3 v-1.6M500.2,155.3 v-1.6M532.3,155.3 v-1.6" stroke="#000" stroke-width="1.0"/>
<text x="11.5" y="242.6" font-size="10.3" fill="#000" stroke="#000" text-anchor="middle">297</text>
<text x="32.9" y="242.6" font-size="10.3" fill="#000" stroke="#000" text-anchor="middle">294</text>
<text x="54.3" y="242.6" font-size="10.3" fill="#000" stroke="#000" text-anchor="middle">291</text>
<text x="75.8" y="242.6" font-size="10.3" fill="#000" stroke="#000" text-anchor="middle">288</text>
<text x="97.2" y="242.6" font-size="10.3" fill="#000" stroke="#000" text-anchor="middle">285</text>
<text x="118.6" y="242.6" font-size="10.3" fill="#000" stroke="#000" text-anchor="middle">282</text>
<text x="152.3" y="242.6" font-size="10.3" fill="#000" stroke="#000" text-anchor="middle">880</text>
<text x="180.0" y="242.6" font-size="10.3" fill="#000" stroke="#000" text-anchor="middle">872</text>
<text x="207.7" y="242.6" font-size="10.3" fill="#000" stroke="#000" text-anchor="middle">864</text>
<text x="235.4" y="242.6" font-size="10.3" fill="#000" stroke="#000" text-anchor="middle">856</text>
<text x="263.1" y="242.6" font-size="10.3" fill="#000" stroke="#000" text-anchor="middle">848</text>
<text x="286.8" y="242.6" font-size="10.3" fill="#000" stroke="#000" text-anchor="middle">1048</text>
<text x="316.4" y="242.6" font-size="10.3" fill="#000" stroke="#000" text-anchor="middle">1040</text>
<text x="345.9" y="242.6" font-size="10.3" fill="#000" stroke="#000" text-anchor="middle">1032</text>
<text x="375.5" y="242.6" font-size="10.3" fill="#000" stroke="#000" text-anchor="middle">1024</text>
<text x="405.0" y="242.6" font-size="10.3" fill="#000" stroke="#000" text-anchor="middle">1016</text>
<text x="433.8" y="242.6" font-size="10.3" fill="#000" stroke="#000" text-anchor="middle">960</text>
<text x="464.9" y="242.6" font-size="10.3" fill="#000" stroke="#000" text-anchor="middle">950</text>
<text x="496.0" y="242.6" font-size="10.3" fill="#000" stroke="#000" text-anchor="middle">940</text>
<text x="527.1" y="242.6" font-size="10.3" fill="#000" stroke="#000" text-anchor="middle">930</text>
<text x="425.6" y="75.7" font-size="8.0" fill="#000" stroke="#000" text-anchor="middle">42</text>
<text x="451.5" y="75.7" font-size="8.0" fill="#000" stroke="#000" text-anchor="middle">39</text>
<text x="477.3" y="75.7" font-size="8.0" fill="#000" stroke="#000" text-anchor="middle">36</text>
<text x="503.2" y="75.7" font-size="8.0" fill="#000" stroke="#000" text-anchor="middle">33</text>
<text x="529.0" y="75.7" font-size="8.0" fill="#000" stroke="#000" text-anchor="middle">30</text>
<text x="435.9" y="152.9" font-size="8.0" fill="#000" stroke="#000" text-anchor="middle">728</text>
<text x="468.0" y="152.9" font-size="8.0" fill="#000" stroke="#000" text-anchor="middle">721</text>
<text x="500.2" y="152.9" font-size="8.0" fill="#000" stroke="#000" text-anchor="middle">714</text>
<text x="532.3" y="152.9" font-size="8.0" fill="#000" stroke="#000" text-anchor="middle">707</text>
<text x="68.7" y="252.9" font-size="11" fill="#000" stroke="#000" text-anchor="middle" textLength="98.6" lengthAdjust="spacingAndGlyphs">Binding Energy (eV)</text>
<text x="208.5" y="252.9" font-size="11" fill="#000" stroke="#000" text-anchor="middle" textLength="98.6" lengthAdjust="spacingAndGlyphs">Binding Energy (eV)</text>
<text x="343.5" y="252.9" font-size="11" fill="#000" stroke="#000" text-anchor="middle" textLength="98.6" lengthAdjust="spacingAndGlyphs">Binding Energy (eV)</text>
<text x="480.8" y="252.9" font-size="11" fill="#000" stroke="#000" text-anchor="middle" textLength="98.6" lengthAdjust="spacingAndGlyphs">Binding Energy (eV)</text>
<text x="6.2" y="13.5" font-size="10.5" fill="#000" stroke="#000" textLength="42.3" lengthAdjust="spacingAndGlyphs">ZnWNiC</text>
<text x="6.2" y="89.6" font-size="10.5" fill="#000" stroke="#000" textLength="42.3" lengthAdjust="spacingAndGlyphs">ZnFeNiC</text>
<text x="6.2" y="165.8" font-size="10.5" fill="#000" stroke="#000" textLength="43.6" lengthAdjust="spacingAndGlyphs">ZnCuNiC</text>
<text x="107.3" y="15.8" font-size="11.5" fill="#000" stroke="#000" textLength="23.2" lengthAdjust="spacingAndGlyphs">C 1s</text>
<text x="145.2" y="16.6" font-size="11.8" fill="#000" stroke="#000" textLength="29.2" lengthAdjust="spacingAndGlyphs">Ni 2p</text>
<text x="281.8" y="14.8" font-size="11.3" fill="#000" stroke="#000" textLength="31.6" lengthAdjust="spacingAndGlyphs">Zn 2p</text>
<text x="419.5" y="15.8" font-size="11.6" fill="#000" stroke="#000" textLength="26.8" lengthAdjust="spacingAndGlyphs">W 4f</text>
<text x="419.5" y="91.0" font-size="11.3" fill="#000" stroke="#000" textLength="29.6" lengthAdjust="spacingAndGlyphs">Fe 2p</text>
<text x="419.3" y="167.7" font-size="11.0" fill="#000" stroke="#000" textLength="32.0" lengthAdjust="spacingAndGlyphs">Cu 2p</text>
<text x="22.4" y="203.3" font-size="10.5" fill="#9d6bd3" stroke="#9d6bd3" textLength="21.4" lengthAdjust="spacingAndGlyphs">C=O</text>
<text x="47.7" y="203.3" font-size="10.5" fill="#17a852" stroke="#17a852" textLength="18.2" lengthAdjust="spacingAndGlyphs">C-O</text>
<text x="65.8" y="191.2" font-size="10.5" fill="#f4b000" stroke="#f4b000" textLength="17.2" lengthAdjust="spacingAndGlyphs">C-N</text>
<text x="104.8" y="185.5" font-size="10.5" fill="#1f63b1" stroke="#1f63b1" textLength="18.4" lengthAdjust="spacingAndGlyphs">C-C</text>
<text x="154.1" y="179.7" font-size="10.8" fill="#1f63b1" stroke="#1f63b1"><tspan textLength="11.2" lengthAdjust="spacingAndGlyphs">Ni</tspan><tspan dy="-4.2" font-size="7.34" textLength="8.5" lengthAdjust="spacingAndGlyphs">2+</tspan></text>
<text x="212.5" y="173.2" font-size="10.8" fill="#1f63b1" stroke="#1f63b1"><tspan textLength="11.2" lengthAdjust="spacingAndGlyphs">Ni</tspan><tspan dy="-4.2" font-size="7.34" textLength="8.5" lengthAdjust="spacingAndGlyphs">2+</tspan></text>
<text x="144.5" y="191.4" font-size="10.5" fill="#f4b000" stroke="#f4b000" textLength="15.8" lengthAdjust="spacingAndGlyphs">Sat</text>
<text x="205.0" y="197.0" font-size="10.5" fill="#f4b000" stroke="#f4b000" textLength="15.8" lengthAdjust="spacingAndGlyphs">Sat</text>
<text x="190.2" y="191.8" font-size="10.8" fill="#f49095" stroke="#f49095"><tspan textLength="11.5" lengthAdjust="spacingAndGlyphs">Ni</tspan><tspan dy="-4.2" font-size="7.34" textLength="4.2" lengthAdjust="spacingAndGlyphs">0</tspan></text>
<text x="251.9" y="200.9" font-size="10.8" fill="#f49095" stroke="#f49095"><tspan textLength="11.5" lengthAdjust="spacingAndGlyphs">Ni</tspan><tspan dy="-4.2" font-size="7.34" textLength="4.2" lengthAdjust="spacingAndGlyphs">0</tspan></text>
<text x="284.2" y="186.8" font-size="11.0" fill="#f4b000" stroke="#f4b000"><tspan textLength="11.4" lengthAdjust="spacingAndGlyphs">2p</tspan><tspan dy="2.6" font-size="7.48" textLength="11.5" lengthAdjust="spacingAndGlyphs">1/2</tspan></text>
<text x="303.6" y="203.6" font-size="11.0" fill="#f4b000" stroke="#f4b000"><tspan textLength="12.8" lengthAdjust="spacingAndGlyphs">Zn</tspan><tspan dy="-4.2" font-size="7.48" textLength="4.2" lengthAdjust="spacingAndGlyphs">0</tspan></text>
<text x="356.0" y="169.9" font-size="11.0" fill="#1f63b1" stroke="#1f63b1"><tspan textLength="12.2" lengthAdjust="spacingAndGlyphs">2p</tspan><tspan dy="2.6" font-size="7.48" textLength="10.6" lengthAdjust="spacingAndGlyphs">3/2</tspan></text>
<text x="386.2" y="177.8" font-size="11.0" fill="#1f63b1" stroke="#1f63b1"><tspan textLength="11.4" lengthAdjust="spacingAndGlyphs">Zn</tspan><tspan dy="-4.2" font-size="7.48" textLength="4.4" lengthAdjust="spacingAndGlyphs">0</tspan></text>
<text x="425.0" y="32.1" font-size="10.8" fill="#1f63b1" stroke="#1f63b1"><tspan textLength="20.3" lengthAdjust="spacingAndGlyphs">W4f</tspan><tspan dy="2.6" font-size="7.34" textLength="11.8" lengthAdjust="spacingAndGlyphs">3/2</tspan></text>
<text x="488.4" y="14.5" font-size="10.8" fill="#f49095" stroke="#f49095"><tspan textLength="20.2" lengthAdjust="spacingAndGlyphs">W4f</tspan><tspan dy="2.6" font-size="7.34" textLength="11.2" lengthAdjust="spacingAndGlyphs">5/2</tspan></text>
<text x="509.6" y="35.0" font-size="10.8" fill="#17a852" stroke="#17a852"><tspan textLength="21.2" lengthAdjust="spacingAndGlyphs">W4f</tspan><tspan dy="2.6" font-size="7.34" textLength="11.2" lengthAdjust="spacingAndGlyphs">7/2</tspan></text>
<text x="481.7" y="90.5" font-size="10.8" fill="#1f63b1" stroke="#1f63b1"><tspan textLength="24.3" lengthAdjust="spacingAndGlyphs">Fe2p</tspan><tspan dy="2.6" font-size="7.34" textLength="11.8" lengthAdjust="spacingAndGlyphs">3/2</tspan></text>
<text x="505.9" y="106.0" font-size="10.8" fill="#f49095" stroke="#f49095"><tspan textLength="27.6" lengthAdjust="spacingAndGlyphs">Fe 2p</tspan><tspan dy="2.6" font-size="7.34" textLength="12.4" lengthAdjust="spacingAndGlyphs">1/2</tspan></text>
<text x="462.6" y="134.7" font-size="10.5" fill="#f4b000" stroke="#f4b000" textLength="15.6" lengthAdjust="spacingAndGlyphs">Sat</text>
<text x="459.0" y="187.6" font-size="10.8" fill="#1f63b1" stroke="#1f63b1"><tspan textLength="26.0" lengthAdjust="spacingAndGlyphs">Cu2p</tspan><tspan dy="2.6" font-size="7.34" textLength="11.8" lengthAdjust="spacingAndGlyphs">1/2</tspan></text>
<text x="481.6" y="171.2" font-size="10.8" fill="#f49095" stroke="#f49095"><tspan textLength="26.8" lengthAdjust="spacingAndGlyphs">Cu2p</tspan><tspan dy="2.6" font-size="7.34" textLength="12.4" lengthAdjust="spacingAndGlyphs">3/2</tspan></text></svg></body></html>
